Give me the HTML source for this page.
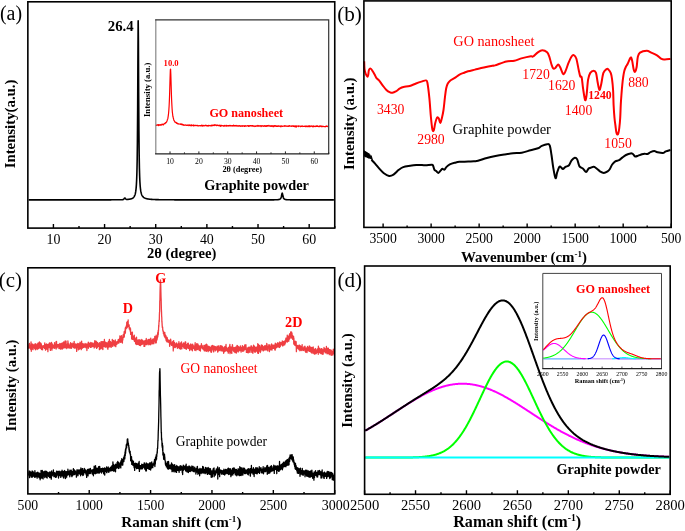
<!DOCTYPE html>
<html><head><meta charset="utf-8"><title>Figure</title>
<style>html,body{margin:0;padding:0;background:#fff;}svg{display:block;will-change:transform;}</style></head>
<body><svg width="685" height="531" viewBox="0 0 685 531" font-family="'Liberation Serif', serif">
<path d="M28.65,199.9L28.9,199.9 29.15,199.9 29.4,199.9 29.65,199.9 29.9,199.9 30.15,199.9 30.4,199.9 30.65,199.9 30.9,199.9 31.15,199.9 31.4,199.9 31.65,199.9 31.9,199.9 32.15,199.9 32.4,199.9 32.65,199.9 32.9,199.9 33.15,199.9 33.4,199.89 33.65,199.89 33.9,199.89 34.15,199.89 34.4,199.89 34.65,199.89 34.9,199.89 35.15,199.89 35.4,199.89 35.65,199.89 35.9,199.89 36.15,199.89 36.4,199.89 36.65,199.89 36.9,199.89 37.15,199.89 37.4,199.89 37.65,199.89 37.9,199.89 38.15,199.89 38.4,199.89 38.65,199.89 38.9,199.89 39.15,199.89 39.4,199.89 39.65,199.89 39.9,199.89 40.15,199.89 40.4,199.89 40.65,199.89 40.9,199.89 41.15,199.89 41.4,199.89 41.65,199.89 41.9,199.89 42.15,199.89 42.4,199.89 42.65,199.89 42.9,199.89 43.15,199.89 43.4,199.89 43.65,199.89 43.9,199.89 44.15,199.89 44.4,199.89 44.65,199.89 44.9,199.89 45.15,199.89 45.4,199.89 45.65,199.89 45.9,199.89 46.15,199.89 46.4,199.89 46.65,199.89 46.9,199.89 47.15,199.89 47.4,199.89 47.65,199.89 47.9,199.89 48.15,199.89 48.4,199.89 48.65,199.89 48.9,199.89 49.15,199.89 49.4,199.89 49.65,199.89 49.9,199.89 50.15,199.89 50.4,199.89 50.65,199.89 50.9,199.89 51.15,199.89 51.4,199.89 51.65,199.89 51.9,199.89 52.15,199.89 52.4,199.89 52.65,199.89 52.9,199.89 53.15,199.89 53.4,199.89 53.65,199.89 53.9,199.89 54.15,199.89 54.4,199.89 54.65,199.89 54.9,199.89 55.15,199.89 55.4,199.89 55.65,199.89 55.9,199.89 56.15,199.89 56.4,199.89 56.65,199.89 56.9,199.89 57.15,199.89 57.4,199.89 57.65,199.89 57.9,199.89 58.15,199.89 58.4,199.89 58.65,199.89 58.9,199.89 59.15,199.89 59.4,199.89 59.65,199.89 59.9,199.89 60.15,199.89 60.4,199.89 60.65,199.89 60.9,199.89 61.15,199.89 61.4,199.89 61.65,199.89 61.9,199.89 62.15,199.89 62.4,199.89 62.65,199.89 62.9,199.89 63.15,199.89 63.4,199.89 63.65,199.89 63.9,199.89 64.15,199.89 64.4,199.89 64.65,199.89 64.9,199.89 65.15,199.89 65.4,199.89 65.65,199.89 65.9,199.89 66.15,199.89 66.4,199.89 66.65,199.89 66.9,199.89 67.15,199.89 67.4,199.89 67.65,199.89 67.9,199.89 68.15,199.89 68.4,199.89 68.65,199.89 68.9,199.89 69.15,199.89 69.4,199.89 69.65,199.89 69.9,199.89 70.15,199.89 70.4,199.89 70.65,199.89 70.9,199.89 71.15,199.89 71.4,199.89 71.65,199.89 71.9,199.89 72.15,199.89 72.4,199.89 72.65,199.89 72.9,199.89 73.15,199.89 73.4,199.89 73.65,199.89 73.9,199.89 74.15,199.89 74.4,199.89 74.65,199.89 74.9,199.89 75.15,199.89 75.4,199.89 75.65,199.89 75.9,199.89 76.15,199.89 76.4,199.89 76.65,199.89 76.9,199.89 77.15,199.89 77.4,199.89 77.65,199.89 77.9,199.89 78.15,199.88 78.4,199.88 78.65,199.88 78.9,199.88 79.15,199.88 79.4,199.88 79.65,199.88 79.9,199.88 80.15,199.88 80.4,199.88 80.65,199.88 80.9,199.88 81.15,199.88 81.4,199.88 81.65,199.88 81.9,199.88 82.15,199.88 82.4,199.88 82.65,199.88 82.9,199.88 83.15,199.88 83.4,199.88 83.65,199.88 83.9,199.88 84.15,199.88 84.4,199.88 84.65,199.88 84.9,199.88 85.15,199.88 85.4,199.88 85.65,199.88 85.9,199.88 86.15,199.88 86.4,199.88 86.65,199.88 86.9,199.88 87.15,199.88 87.4,199.88 87.65,199.88 87.9,199.88 88.15,199.88 88.4,199.88 88.65,199.88 88.9,199.88 89.15,199.88 89.4,199.88 89.65,199.88 89.9,199.88 90.15,199.88 90.4,199.88 90.65,199.88 90.9,199.88 91.15,199.88 91.4,199.88 91.65,199.87 91.9,199.87 92.15,199.87 92.4,199.87 92.65,199.87 92.9,199.87 93.15,199.87 93.4,199.87 93.65,199.87 93.9,199.87 94.15,199.87 94.4,199.87 94.65,199.87 94.9,199.87 95.15,199.87 95.4,199.87 95.65,199.87 95.9,199.87 96.15,199.87 96.4,199.87 96.65,199.87 96.9,199.87 97.15,199.87 97.4,199.87 97.65,199.87 97.9,199.87 98.15,199.87 98.4,199.87 98.65,199.87 98.9,199.86 99.15,199.86 99.4,199.86 99.65,199.86 99.9,199.86 100.15,199.86 100.4,199.86 100.65,199.86 100.9,199.86 101.15,199.86 101.4,199.86 101.65,199.86 101.9,199.86 102.15,199.86 102.4,199.86 102.65,199.86 102.9,199.86 103.15,199.86 103.4,199.86 103.65,199.85 103.9,199.85 104.15,199.85 104.4,199.85 104.65,199.85 104.9,199.85 105.15,199.85 105.4,199.85 105.65,199.85 105.9,199.85 106.15,199.85 106.4,199.85 106.65,199.85 106.9,199.84 107.15,199.84 107.4,199.84 107.65,199.84 107.9,199.84 108.15,199.84 108.4,199.84 108.65,199.84 108.9,199.84 109.15,199.84 109.4,199.83 109.65,199.83 109.9,199.83 110.15,199.83 110.4,199.83 110.65,199.83 110.9,199.83 111.15,199.83 111.4,199.82 111.65,199.82 111.9,199.82 112.15,199.82 112.4,199.82 112.65,199.82 112.9,199.82 113.15,199.81 113.4,199.81 113.65,199.81 113.9,199.81 114.15,199.81 114.4,199.8 114.65,199.8 114.9,199.8 115.15,199.8 115.4,199.8 115.65,199.79 115.9,199.79 116.15,199.79 116.4,199.79 116.65,199.78 116.9,199.78 117.15,199.78 117.4,199.77 117.65,199.77 117.9,199.77 118.15,199.77 118.4,199.76 118.65,199.76 118.9,199.75 119.15,199.75 119.4,199.75 119.65,199.74 119.9,199.74 120.15,199.73 120.4,199.73 120.65,199.72 120.9,199.72 121.15,199.71 121.4,199.71 121.65,199.7 121.9,199.7 122.15,199.69 122.4,199.68 122.65,199.66 122.9,199.63 123.15,199.56 123.4,199.44 123.65,199.23 123.9,198.94 124.15,198.59 124.4,198.26 124.65,198.04 124.9,198.01 125.15,198.17 125.4,198.46 125.65,198.79 125.9,199.08 126.15,199.28 126.4,199.39 126.65,199.45 126.9,199.46 127.15,199.45 127.4,199.44 127.65,199.41 127.9,199.39 128.15,199.37 128.4,199.34 128.65,199.31 128.9,199.28 129.15,199.24 129.4,199.2 129.65,199.16 129.9,199.12 130.15,199.07 130.4,199.01 130.65,198.95 130.9,198.89 131.15,198.82 131.4,198.74 131.65,198.65 131.9,198.55 132.15,198.43 132.4,198.3 132.65,198.16 132.9,197.99 133.15,197.8 133.4,197.58 133.65,197.32 133.9,197.02 134.15,196.66 134.4,196.23 134.65,195.7 134.9,195.06 135.15,194.26 135.4,193.25 135.65,191.94 135.9,190.22 136.15,187.88 136.4,184.61 136.65,179.88 136.9,172.72 137.15,161.36 137.4,142.45 137.65,110.4 137.9,61.94 138.15,22.37 138.2,20.9 138.4,40.61 138.65,91.48 138.9,130.38 139.15,153.77 139.4,167.64 139.65,176.21 139.9,181.78 140.15,185.57 140.4,188.25 140.65,190.22 140.9,191.7 141.15,192.85 141.4,193.75 141.65,194.48 141.9,195.08 142.15,195.58 142.4,196 142.65,196.36 142.9,196.66 143.15,196.93 143.4,197.16 143.65,197.37 143.9,197.55 144.15,197.71 144.4,197.86 144.65,197.99 144.9,198.11 145.15,198.22 145.4,198.32 145.65,198.41 145.9,198.49 146.15,198.57 146.4,198.64 146.65,198.7 146.9,198.76 147.15,198.82 147.4,198.87 147.65,198.92 147.9,198.96 148.15,199 148.4,199.04 148.65,199.08 148.9,199.12 149.15,199.15 149.4,199.18 149.65,199.21 149.9,199.23 150.15,199.26 150.4,199.28 150.65,199.31 150.9,199.33 151.15,199.35 151.4,199.37 151.65,199.39 151.9,199.4 152.15,199.42 152.4,199.44 152.65,199.45 152.9,199.47 153.15,199.48 153.4,199.49 153.65,199.5 153.9,199.52 154.15,199.53 154.4,199.54 154.65,199.55 154.9,199.56 155.15,199.57 155.4,199.58 155.65,199.59 155.9,199.6 156.15,199.6 156.4,199.61 156.65,199.62 156.9,199.63 157.15,199.63 157.4,199.64 157.65,199.65 157.9,199.65 158.15,199.66 158.4,199.66 158.65,199.67 158.9,199.68 159.15,199.68 159.4,199.69 159.65,199.69 159.9,199.7 160.15,199.7 160.4,199.7 160.65,199.71 160.9,199.71 161.15,199.72 161.4,199.72 161.65,199.72 161.9,199.73 162.15,199.73 162.4,199.73 162.65,199.74 162.9,199.74 163.15,199.74 163.4,199.75 163.65,199.75 163.9,199.75 164.15,199.76 164.4,199.76 164.65,199.76 164.9,199.76 165.15,199.77 165.4,199.77 165.65,199.77 165.9,199.77 166.15,199.78 166.4,199.78 166.65,199.78 166.9,199.78 167.15,199.78 167.4,199.79 167.65,199.79 167.9,199.79 168.15,199.79 168.4,199.79 168.65,199.79 168.9,199.8 169.15,199.8 169.4,199.8 169.65,199.8 169.9,199.8 170.15,199.8 170.4,199.81 170.65,199.81 170.9,199.81 171.15,199.81 171.4,199.81 171.65,199.81 171.9,199.81 172.15,199.82 172.4,199.82 172.65,199.82 172.9,199.82 173.15,199.82 173.4,199.82 173.65,199.82 173.9,199.82 174.15,199.82 174.4,199.83 174.65,199.83 174.9,199.83 175.15,199.83 175.4,199.83 175.65,199.83 175.9,199.83 176.15,199.83 176.4,199.83 176.65,199.83 176.9,199.83 177.15,199.84 177.4,199.84 177.65,199.84 177.9,199.84 178.15,199.84 178.4,199.84 178.65,199.84 178.9,199.84 179.15,199.84 179.4,199.84 179.65,199.84 179.9,199.84 180.15,199.84 180.4,199.84 180.65,199.85 180.9,199.85 181.15,199.85 181.4,199.85 181.65,199.85 181.9,199.85 182.15,199.85 182.4,199.85 182.65,199.85 182.9,199.85 183.15,199.85 183.4,199.85 183.65,199.85 183.9,199.85 184.15,199.85 184.4,199.85 184.65,199.85 184.9,199.85 185.15,199.86 185.4,199.86 185.65,199.86 185.9,199.86 186.15,199.86 186.4,199.86 186.65,199.86 186.9,199.86 187.15,199.86 187.4,199.86 187.65,199.86 187.9,199.86 188.15,199.86 188.4,199.86 188.65,199.86 188.9,199.86 189.15,199.86 189.4,199.86 189.65,199.86 189.9,199.86 190.15,199.86 190.4,199.86 190.65,199.86 190.9,199.86 191.15,199.86 191.4,199.86 191.65,199.87 191.9,199.87 192.15,199.87 192.4,199.87 192.65,199.87 192.9,199.87 193.15,199.87 193.4,199.87 193.65,199.87 193.9,199.87 194.15,199.87 194.4,199.87 194.65,199.87 194.9,199.87 195.15,199.87 195.4,199.87 195.65,199.87 195.9,199.87 196.15,199.87 196.4,199.87 196.65,199.87 196.9,199.87 197.15,199.87 197.4,199.87 197.65,199.87 197.9,199.87 198.15,199.87 198.4,199.87 198.65,199.87 198.9,199.87 199.15,199.87 199.4,199.87 199.65,199.87 199.9,199.87 200.15,199.87 200.4,199.87 200.65,199.87 200.9,199.87 201.15,199.87 201.4,199.87 201.65,199.88 201.9,199.88 202.15,199.88 202.4,199.88 202.65,199.88 202.9,199.88 203.15,199.88 203.4,199.88 203.65,199.88 203.9,199.88 204.15,199.88 204.4,199.88 204.65,199.88 204.9,199.88 205.15,199.88 205.4,199.88 205.65,199.88 205.9,199.88 206.15,199.88 206.4,199.88 206.65,199.88 206.9,199.88 207.15,199.88 207.4,199.88 207.65,199.88 207.9,199.88 208.15,199.88 208.4,199.88 208.65,199.88 208.9,199.88 209.15,199.88 209.4,199.88 209.65,199.88 209.9,199.88 210.15,199.88 210.4,199.88 210.65,199.88 210.9,199.88 211.15,199.88 211.4,199.88 211.65,199.88 211.9,199.88 212.15,199.88 212.4,199.88 212.65,199.88 212.9,199.88 213.15,199.88 213.4,199.88 213.65,199.88 213.9,199.88 214.15,199.88 214.4,199.88 214.65,199.88 214.9,199.88 215.15,199.88 215.4,199.88 215.65,199.88 215.9,199.88 216.15,199.88 216.4,199.88 216.65,199.88 216.9,199.88 217.15,199.88 217.4,199.88 217.65,199.88 217.9,199.88 218.15,199.88 218.4,199.88 218.65,199.88 218.9,199.88 219.15,199.88 219.4,199.88 219.65,199.88 219.9,199.88 220.15,199.88 220.4,199.88 220.65,199.88 220.9,199.88 221.15,199.88 221.4,199.88 221.65,199.88 221.9,199.88 222.15,199.88 222.4,199.88 222.65,199.89 222.9,199.89 223.15,199.89 223.4,199.89 223.65,199.89 223.9,199.89 224.15,199.89 224.4,199.89 224.65,199.89 224.9,199.89 225.15,199.89 225.4,199.89 225.65,199.89 225.9,199.89 226.15,199.89 226.4,199.89 226.65,199.89 226.9,199.89 227.15,199.89 227.4,199.89 227.65,199.89 227.9,199.89 228.15,199.89 228.4,199.89 228.65,199.89 228.9,199.89 229.15,199.89 229.4,199.89 229.65,199.89 229.9,199.89 230.15,199.89 230.4,199.89 230.65,199.89 230.9,199.89 231.15,199.89 231.4,199.89 231.65,199.89 231.9,199.89 232.15,199.89 232.4,199.89 232.65,199.89 232.9,199.89 233.15,199.89 233.4,199.89 233.65,199.89 233.9,199.89 234.15,199.89 234.4,199.89 234.65,199.89 234.9,199.89 235.15,199.89 235.4,199.89 235.65,199.89 235.9,199.89 236.15,199.89 236.4,199.89 236.65,199.89 236.9,199.89 237.15,199.89 237.4,199.89 237.65,199.89 237.9,199.89 238.15,199.89 238.4,199.89 238.65,199.89 238.9,199.89 239.15,199.89 239.4,199.89 239.65,199.89 239.9,199.89 240.15,199.89 240.4,199.89 240.65,199.89 240.9,199.89 241.15,199.89 241.4,199.89 241.65,199.89 241.9,199.89 242.15,199.89 242.4,199.89 242.65,199.89 242.9,199.89 243.15,199.89 243.4,199.89 243.65,199.89 243.9,199.89 244.15,199.89 244.4,199.89 244.65,199.89 244.9,199.89 245.15,199.89 245.4,199.89 245.65,199.89 245.9,199.89 246.15,199.89 246.4,199.89 246.65,199.89 246.9,199.89 247.15,199.89 247.4,199.89 247.65,199.89 247.9,199.89 248.15,199.89 248.4,199.89 248.65,199.89 248.9,199.89 249.15,199.89 249.4,199.89 249.65,199.89 249.9,199.89 250.15,199.89 250.4,199.89 250.65,199.89 250.9,199.89 251.15,199.89 251.4,199.89 251.65,199.89 251.9,199.89 252.15,199.89 252.4,199.89 252.65,199.89 252.9,199.89 253.15,199.89 253.4,199.89 253.65,199.89 253.9,199.89 254.15,199.89 254.4,199.89 254.65,199.89 254.9,199.89 255.15,199.89 255.4,199.89 255.65,199.89 255.9,199.89 256.15,199.89 256.4,199.89 256.65,199.89 256.9,199.89 257.15,199.89 257.4,199.89 257.65,199.89 257.9,199.89 258.15,199.89 258.4,199.89 258.65,199.89 258.9,199.89 259.15,199.89 259.4,199.88 259.65,199.88 259.9,199.88 260.15,199.88 260.4,199.88 260.65,199.88 260.9,199.88 261.15,199.88 261.4,199.88 261.65,199.88 261.9,199.88 262.15,199.88 262.4,199.88 262.65,199.88 262.9,199.88 263.15,199.88 263.4,199.88 263.65,199.88 263.9,199.88 264.15,199.88 264.4,199.88 264.65,199.88 264.9,199.88 265.15,199.88 265.4,199.88 265.65,199.88 265.9,199.88 266.15,199.88 266.4,199.88 266.65,199.88 266.9,199.88 267.15,199.87 267.4,199.87 267.65,199.87 267.9,199.87 268.15,199.87 268.4,199.87 268.65,199.87 268.9,199.87 269.15,199.87 269.4,199.87 269.65,199.87 269.9,199.87 270.15,199.86 270.4,199.86 270.65,199.86 270.9,199.86 271.15,199.86 271.4,199.86 271.65,199.86 271.9,199.85 272.15,199.85 272.4,199.85 272.65,199.85 272.9,199.84 273.15,199.84 273.4,199.84 273.65,199.84 273.9,199.83 274.15,199.83 274.4,199.82 274.65,199.82 274.9,199.81 275.15,199.81 275.4,199.8 275.65,199.79 275.9,199.79 276.15,199.78 276.4,199.77 276.65,199.76 276.9,199.74 277.15,199.73 277.4,199.71 277.65,199.69 277.9,199.67 278.15,199.64 278.4,199.61 278.65,199.57 278.9,199.52 279.15,199.46 279.4,199.38 279.65,199.29 279.9,199.16 280.15,199 280.4,198.77 280.65,198.46 280.9,198.03 281.15,197.4 281.4,196.5 281.65,195.28 281.9,193.93 282.15,193.12 282.2,193.1 282.4,193.5 282.65,194.73 282.9,196.04 283.15,197.07 283.4,197.8 283.65,198.31 283.9,198.66 284.15,198.92 284.4,199.1 284.65,199.24 284.9,199.35 285.15,199.43 285.4,199.5 285.65,199.55 285.9,199.59 286.15,199.63 286.4,199.66 286.65,199.68 286.9,199.7 287.15,199.72 287.4,199.74 287.65,199.75 287.9,199.76 288.15,199.77 288.4,199.78 288.65,199.79 288.9,199.8 289.15,199.81 289.4,199.81 289.65,199.82 289.9,199.82 290.15,199.83 290.4,199.83 290.65,199.84 290.9,199.84 291.15,199.84 291.4,199.84 291.65,199.85 291.9,199.85 292.15,199.85 292.4,199.85 292.65,199.86 292.9,199.86 293.15,199.86 293.4,199.86 293.65,199.86 293.9,199.86 294.15,199.87 294.4,199.87 294.65,199.87 294.9,199.87 295.15,199.87 295.4,199.87 295.65,199.87 295.9,199.87 296.15,199.87 296.4,199.87 296.65,199.88 296.9,199.88 297.15,199.88 297.4,199.88 297.65,199.88 297.9,199.88 298.15,199.88 298.4,199.88 298.65,199.88 298.9,199.88 299.15,199.88 299.4,199.88 299.65,199.88 299.9,199.88 300.15,199.88 300.4,199.88 300.65,199.88 300.9,199.88 301.15,199.88 301.4,199.88 301.65,199.88 301.9,199.89 302.15,199.89 302.4,199.89 302.65,199.89 302.9,199.89 303.15,199.89 303.4,199.89 303.65,199.89 303.9,199.89 304.15,199.89 304.4,199.89 304.65,199.89 304.9,199.89 305.15,199.89 305.4,199.89 305.65,199.89 305.9,199.89 306.15,199.89 306.4,199.89 306.65,199.89 306.9,199.89 307.15,199.89 307.4,199.89 307.65,199.89 307.9,199.89 308.15,199.89 308.4,199.89 308.65,199.89 308.9,199.89 309.15,199.89 309.4,199.89 309.65,199.89 309.9,199.89 310.15,199.89 310.4,199.89 310.65,199.89 310.9,199.89 311.15,199.89 311.4,199.89 311.65,199.89 311.9,199.89 312.15,199.89 312.4,199.89 312.65,199.89 312.9,199.89 313.15,199.89 313.4,199.89 313.65,199.89 313.9,199.89 314.15,199.89 314.4,199.89 314.65,199.89 314.9,199.89 315.15,199.89 315.4,199.89 315.65,199.89 315.9,199.89 316.15,199.89 316.4,199.89 316.65,199.89 316.9,199.89 317.15,199.89 317.4,199.89 317.65,199.89 317.9,199.89 318.15,199.89 318.4,199.89 318.65,199.89 318.9,199.89 319.15,199.89 319.4,199.89 319.65,199.89 319.9,199.89 320.15,199.89 320.4,199.89 320.65,199.89 320.9,199.89 321.15,199.89 321.4,199.89 321.65,199.89 321.9,199.89 322.15,199.89 322.4,199.89 322.65,199.89 322.9,199.89 323.15,199.89 323.4,199.89 323.65,199.89 323.9,199.89 324.15,199.89 324.4,199.89 324.65,199.89 324.9,199.89 325.15,199.89 325.4,199.89 325.65,199.89 325.9,199.89 326.15,199.89 326.4,199.9 326.65,199.9 326.9,199.9 327.15,199.9 327.4,199.9 327.65,199.9 327.9,199.9 328.15,199.9 328.4,199.9 328.65,199.9 328.9,199.9 329.15,199.9 329.4,199.9 329.65,199.9 329.9,199.9 330.15,199.9 330.4,199.9 330.65,199.9 330.9,199.9 331.15,199.9 331.4,199.9 331.65,199.9 331.9,199.9 332.15,199.9 332.4,199.9 332.65,199.9 332.9,199.9 333.15,199.9 333.4,199.9 333.65,199.9 333.9,199.9" stroke="#000" stroke-width="1.6" fill="none" stroke-linejoin="round"/>
<rect x="27.85" y="1.8" width="306.9" height="226.3" fill="none" stroke="#000" stroke-width="1.6"/>
<path d="M53.42,228.1V224.1M104.57,228.1V224.1M155.72,228.1V224.1M206.88,228.1V224.1M258.02,228.1V224.1M309.18,228.1V224.1M79,228.1V226.1M130.15,228.1V226.1M181.3,228.1V226.1M232.45,228.1V226.1M283.6,228.1V226.1M334.75,228.1V226.1" stroke="#000" stroke-width="1.4" fill="none"/>
<text x="53.42" y="244" font-size="13.9" text-anchor="middle" fill="#000">10</text>
<text x="104.57" y="244" font-size="13.9" text-anchor="middle" fill="#000">20</text>
<text x="155.72" y="244" font-size="13.9" text-anchor="middle" fill="#000">30</text>
<text x="206.88" y="244" font-size="13.9" text-anchor="middle" fill="#000">40</text>
<text x="258.02" y="244" font-size="13.9" text-anchor="middle" fill="#000">50</text>
<text x="309.18" y="244" font-size="13.9" text-anchor="middle" fill="#000">60</text>
<text x="-0.1" y="19.95" font-size="19.95" fill="#000">(a)</text>
<text x="107.8" y="30.5" font-size="14.80" font-weight="bold" fill="#000">26.4</text>
<text x="204.15" y="189.95" font-size="14.24" font-weight="bold" fill="#000">Graphite powder</text>
<text x="146.9" y="258.3" font-size="14.62" font-weight="bold" fill="#000">2θ (degree)</text>
<text x="15.5" y="168.35" font-size="14.81" font-weight="bold" fill="#000" transform="rotate(-90 15.5 168.35)">Intensity(a.u.)</text>
<path d="M156.1,124.78L156.35,125.44 156.6,124.9 156.85,125.04 157.1,125.07 157.35,124.9 157.6,124.73 157.85,125.22 158.1,125.13 158.35,124.54 158.6,125.6 158.85,125.24 159.1,124.79 159.35,125.18 159.6,124.82 159.85,124.89 160.1,125.08 160.35,124.54 160.6,124.97 160.85,125.15 161.1,125.09 161.35,124.65 161.6,124.91 161.85,124.23 162.1,124.55 162.35,124.65 162.6,124.14 162.85,124.39 163.1,124.77 163.35,124.92 163.6,124.37 163.85,124.29 164.1,123.74 164.35,123.56 164.6,123.38 164.85,123.72 165.1,123.6 165.35,123.06 165.6,122.7 165.85,122.82 166.1,122.54 166.35,122.09 166.6,122.05 166.85,121.23 167.1,120.67 167.35,119.73 167.6,119.2 167.85,118.45 168.1,116.81 168.35,115.12 168.6,113.01 168.85,110.06 169.1,106.24 169.35,101.05 169.6,94.24 169.85,85.47 170.1,76.84 170.35,69.87 170.5,69.1 170.6,69.26 170.85,75.07 171.1,83.86 171.35,92.25 171.6,99.5 171.85,104.53 172.1,108.8 172.35,112.22 172.6,114.04 172.85,116.24 173.1,117.07 173.35,118.25 173.6,119.05 173.85,120 174.1,120.69 174.35,120.75 174.6,121.36 174.85,122.13 175.1,121.93 175.35,122.04 175.6,122.55 175.85,122.58 176.1,122.62 176.35,122.49 176.6,123.27 176.85,123.04 177.1,123.29 177.35,123.12 177.6,123.8 177.85,123.75 178.1,123.88 178.35,123.69 178.6,123.9 178.85,124.07 179.1,124.17 179.35,124.06 179.6,124.02 179.85,124.01 180.1,123.96 180.35,123.96 180.6,124.35 180.85,124.25 181.1,123.86 181.35,124.37 181.6,124.72 181.85,124.43 182.1,124.08 182.35,124.56 182.6,124.83 182.85,124.72 183.1,124.61 183.35,125.21 183.6,125.27 183.85,124.8 184.1,125.07 184.35,125 184.6,125.13 184.85,125.33 185.1,125.2 185.35,125.04 185.6,124.89 185.85,124.88 186.1,125.1 186.35,125.42 186.6,125.23 186.85,125.19 187.1,125.26 187.35,125.23 187.6,125.38 187.85,124.98 188.1,124.78 188.35,125.19 188.6,125.02 188.85,125.73 189.1,125.3 189.35,125.29 189.6,124.98 189.85,125.45 190.1,125.24 190.35,125.68 190.6,125.62 190.85,125.23 191.1,125.53 191.35,124.76 191.6,125.28 191.85,125.77 192.1,125.66 192.35,125.52 192.6,125.47 192.85,125.13 193.1,125.15 193.35,125.55 193.6,125.94 193.85,124.96 194.1,125.67 194.35,125.67 194.6,125.76 194.85,125.31 195.1,125.4 195.35,125.55 195.6,125.28 195.85,125.23 196.1,125.32 196.35,125.53 196.6,125.65 196.85,125.55 197.1,125.58 197.35,125.39 197.6,125.39 197.85,125.85 198.1,125.56 198.35,125.55 198.6,125.81 198.85,125.89 199.1,125.9 199.35,125.69 199.6,125.58 199.85,125.66 200.1,125.64 200.35,125.95 200.6,125.67 200.85,125.76 201.1,125.6 201.35,125.95 201.6,125.09 201.85,125.71 202.1,125.8 202.35,125.33 202.6,126.15 202.85,125.58 203.1,125.58 203.35,125.35 203.6,125.85 203.85,125.68 204.1,125.48 204.35,125.69 204.6,125.81 204.85,125.94 205.1,125.69 205.35,125.4 205.6,125.5 205.85,125.07 206.1,125.46 206.35,125.83 206.6,125.77 206.85,125.63 207.1,125.57 207.35,126.05 207.6,125.73 207.85,125.89 208.1,125.76 208.35,125.5 208.6,126.05 208.85,125.36 209.1,125.37 209.35,125.56 209.6,125.48 209.85,125.52 210.1,125.51 210.35,125.9 210.6,125.66 210.85,125.72 211.1,125.22 211.35,125.38 211.6,125.84 211.85,125.24 212.1,125.8 212.35,125.21 212.6,125.49 212.85,125.16 213.1,125.36 213.35,125.03 213.6,125.13 213.85,125.56 214.1,124.99 214.35,125.54 214.6,124.87 214.85,124.66 215.1,124.95 215.35,124.82 215.6,125.36 215.85,125.15 216.1,125.25 216.35,125.15 216.6,125.66 216.85,125.29 217.1,125.28 217.35,125 217.6,125.04 217.85,125.38 218.1,125.64 218.35,125.73 218.6,125.26 218.85,125.68 219.1,125.63 219.35,125.34 219.6,125.78 219.85,125.11 220.1,125.76 220.35,126.33 220.6,125.47 220.85,125.74 221.1,125.27 221.35,125.56 221.6,125.94 221.85,125.5 222.1,125.75 222.35,125.67 222.6,125.67 222.85,125.81 223.1,125.89 223.35,126.08 223.6,125.98 223.85,125.63 224.1,126.13 224.35,126.09 224.6,125.39 224.85,125.95 225.1,125.99 225.35,126.03 225.6,125.92 225.85,125.46 226.1,125.72 226.35,125.27 226.6,125.75 226.85,126.3 227.1,125.97 227.35,126.01 227.6,125.67 227.85,125.55 228.1,125.53 228.35,125.83 228.6,125.6 228.85,125.65 229.1,126.09 229.35,125.4 229.6,125.48 229.85,125.69 230.1,125.79 230.35,125.78 230.6,125.47 230.85,125.87 231.1,125.79 231.35,125.91 231.6,125.55 231.85,125.89 232.1,125.88 232.35,125.66 232.6,125.78 232.85,125.69 233.1,126.17 233.35,125.06 233.6,125.47 233.85,125.41 234.1,125.75 234.35,125.67 234.6,125.74 234.85,126.02 235.1,125.44 235.35,125.64 235.6,125.79 235.85,125.55 236.1,125.94 236.35,125.94 236.6,125.68 236.85,125.41 237.1,126.26 237.35,125.98 237.6,125.97 237.85,125.88 238.1,125.86 238.35,126.07 238.6,125.86 238.85,125.71 239.1,126.05 239.35,125.89 239.6,125.68 239.85,125.65 240.1,126.17 240.35,126.04 240.6,126.37 240.85,125.75 241.1,125.7 241.35,125.99 241.6,126.23 241.85,126.04 242.1,126 242.35,126.36 242.6,125.71 242.85,125.58 243.1,125.71 243.35,125.82 243.6,125.99 243.85,126.15 244.1,126 244.35,126.28 244.6,125.7 244.85,126.38 245.1,125.7 245.35,126.2 245.6,125.68 245.85,126 246.1,125.93 246.35,126.04 246.6,126.1 246.85,125.86 247.1,125.9 247.35,125.98 247.6,125.6 247.85,125.74 248.1,125.52 248.35,125.93 248.6,126.48 248.85,126.11 249.1,125.71 249.35,125.76 249.6,126.18 249.85,125.82 250.1,125.54 250.35,125.68 250.6,125.68 250.85,125.69 251.1,126.11 251.35,125.96 251.6,125.57 251.85,125.81 252.1,125.66 252.35,125.65 252.6,125.58 252.85,126.39 253.1,125.88 253.35,126.1 253.6,126.18 253.85,125.86 254.1,126.09 254.35,126.1 254.6,126.02 254.85,126.51 255.1,126.04 255.35,125.91 255.6,126.13 255.85,126.42 256.1,126.22 256.35,125.85 256.6,125.76 256.85,125.74 257.1,125.81 257.35,126.08 257.6,126.19 257.85,125.42 258.1,125.98 258.35,125.71 258.6,126.16 258.85,126.22 259.1,125.8 259.35,125.88 259.6,125.76 259.85,126.09 260.1,125.59 260.35,125.72 260.6,125.83 260.85,126.31 261.1,126.6 261.35,126.01 261.6,125.7 261.85,126.03 262.1,125.79 262.35,126.13 262.6,125.73 262.85,125.92 263.1,126.01 263.35,126.15 263.6,126 263.85,126.34 264.1,126.05 264.35,125.57 264.6,126.25 264.85,125.95 265.1,125.86 265.35,126.4 265.6,125.78 265.85,126.05 266.1,125.85 266.35,126.36 266.6,125.91 266.85,126.04 267.1,125.58 267.35,126.22 267.6,125.51 267.85,125.91 268.1,125.88 268.35,125.86 268.6,126 268.85,125.3 269.1,125.77 269.35,125.8 269.6,125.96 269.85,126.21 270.1,126.02 270.35,125.82 270.6,126.02 270.85,126.44 271.1,125.76 271.35,126.08 271.6,125.82 271.85,126.34 272.1,125.66 272.35,125.98 272.6,126.04 272.85,126.1 273.1,126.66 273.35,126.46 273.6,125.82 273.85,126.62 274.1,125.78 274.35,125.61 274.6,125.71 274.85,126.13 275.1,126.22 275.35,125.53 275.6,126.2 275.85,126.02 276.1,126.27 276.35,126 276.6,126.32 276.85,126.24 277.1,125.8 277.35,126.46 277.6,126.15 277.85,126.28 278.1,126.42 278.35,125.86 278.6,126.08 278.85,125.9 279.1,125.87 279.35,126.18 279.6,126.2 279.85,126.45 280.1,126.46 280.35,126.11 280.6,125.91 280.85,126.92 281.1,126.66 281.35,126.1 281.6,125.89 281.85,126.02 282.1,126.2 282.35,126.41 282.6,126.37 282.85,126.24 283.1,126.07 283.35,126.18 283.6,126.06 283.85,126.15 284.1,126.11 284.35,126.27 284.6,125.67 284.85,126.06 285.1,126.07 285.35,125.86 285.6,126.1 285.85,125.88 286.1,125.98 286.35,126.08 286.6,126.09 286.85,126.01 287.1,126.43 287.35,126.21 287.6,126.24 287.85,126.22 288.1,125.99 288.35,125.94 288.6,126.37 288.85,126.08 289.1,125.72 289.35,125.62 289.6,126.23 289.85,125.99 290.1,126.16 290.35,126.04 290.6,126.07 290.85,126.13 291.1,125.87 291.35,126.18 291.6,126.43 291.85,126.36 292.1,125.75 292.35,125.85 292.6,125.85 292.85,126.13 293.1,126.4 293.35,126.27 293.6,125.76 293.85,126.21 294.1,126.4 294.35,126.09 294.6,126.68 294.85,126.04 295.1,126.5 295.35,126.79 295.6,125.89 295.85,126.13 296.1,126.35 296.35,127.01 296.6,125.76 296.85,126.35 297.1,126.29 297.35,126.11 297.6,126.01 297.85,126.09 298.1,126.14 298.35,125.9 298.6,126.62 298.85,125.95 299.1,126.12 299.35,126.06 299.6,126.13 299.85,126.25 300.1,126.04 300.35,126.17 300.6,126.67 300.85,126.5 301.1,126.17 301.35,126.47 301.6,126.05 301.85,126.3 302.1,125.89 302.35,125.96 302.6,126.03 302.85,126.56 303.1,126.31 303.35,126.39 303.6,126.29 303.85,126.35 304.1,126.36 304.35,126.45 304.6,126.3 304.85,126.03 305.1,126.06 305.35,126.57 305.6,126.62 305.85,126.4 306.1,125.86 306.35,126.66 306.6,126.35 306.85,126.25 307.1,126.28 307.35,126.18 307.6,126.71 307.85,126.7 308.1,126.01 308.35,126.23 308.6,126.36 308.85,126.6 309.1,125.68 309.35,126.52 309.6,126.7 309.85,126.2 310.1,126.28 310.35,126.6 310.6,126.38 310.85,125.96 311.1,126 311.35,126.04 311.6,125.94 311.85,126.29 312.1,126.17 312.35,126.31 312.6,126.48 312.85,126.75 313.1,126.36 313.35,125.84 313.6,126.65 313.85,126.28 314.1,126.6 314.35,126.2 314.6,126.39 314.85,126.28 315.1,126.31 315.35,126.64 315.6,126.15 315.85,126.36 316.1,126.38 316.35,126.22 316.6,125.77 316.85,126.41 317.1,125.62 317.35,125.95 317.6,126.21 317.85,126.44 318.1,126.55 318.35,126.54 318.6,126.48 318.85,126.25 319.1,126.64 319.35,126.27 319.6,126.62 319.85,125.78 320.1,126.1 320.35,126.2 320.6,126.35 320.85,125.75 321.1,126.55 321.35,126.6 321.6,126.55 321.85,126.22 322.1,126.72 322.35,126.22 322.6,126.59 322.85,126.35 323.1,126.36 323.35,126.32 323.6,126.36 323.85,126.64 324.1,126.73 324.35,126.73 324.6,126.6 324.85,126.54 325.1,126.49 325.35,126.81 325.6,126.27 325.85,126.22 326.1,126.39 326.35,125.96 326.6,126.32 326.85,126.37 327.1,126.13 327.35,126.24 327.6,126.56 327.85,126.33" stroke="#ff0000" stroke-width="1.2" fill="none" stroke-linejoin="round"/>
<path d="M155.79999999999998,153.9V19.6" stroke="#888" stroke-width="1.2" fill="none"/>
<path d="M155.2,19.8H328.7V153.9" stroke="#333" stroke-width="1.2" fill="none"/>
<path d="M155.1,153.9H329.2" stroke="#222" stroke-width="1.4" fill="none"/>
<path d="M170.03,153.9V151.4M198.88,153.9V151.4M227.72,153.9V151.4M256.57,153.9V151.4M285.42,153.9V151.4M314.27,153.9V151.4M184.45,153.9V152.4M213.3,153.9V152.4M242.15,153.9V152.4M271,153.9V152.4M299.85,153.9V152.4M328.7,153.9V152.4" stroke="#222" stroke-width="1" fill="none"/>
<text x="170.03" y="163.8" font-size="7.7" text-anchor="middle" fill="#000">10</text>
<text x="198.88" y="163.8" font-size="7.7" text-anchor="middle" fill="#000">20</text>
<text x="227.72" y="163.8" font-size="7.7" text-anchor="middle" fill="#000">30</text>
<text x="256.57" y="163.8" font-size="7.7" text-anchor="middle" fill="#000">40</text>
<text x="285.42" y="163.8" font-size="7.7" text-anchor="middle" fill="#000">50</text>
<text x="314.27" y="163.8" font-size="7.7" text-anchor="middle" fill="#000">60</text>
<text x="163.6" y="65.65" font-size="8.62" font-weight="bold" fill="#ff0000">10.0</text>
<text x="209.4" y="117.2" font-size="12.14" font-weight="bold" fill="#ff0000">GO nanosheet</text>
<text x="222.45" y="172.0" font-size="8.32" font-weight="bold" fill="#000">2θ (degree)</text>
<text x="150.05" y="117.05" font-size="8.73" font-weight="bold" fill="#000" transform="rotate(-90 150.05 117.05)">Intensity (a.u.)</text>
<path d="M364.3,150.5 L364.6,156.5 L365,151 L365.4,157 L365.8,151.5 L366.2,157.5 L366.6,152 L367,157.5 L367.4,152.5 L367.8,158 L368.2,153 L368.6,158.5 L369,153.5 L369.4,158.5 L369.8,154.5 L370.2,158.8 L370.6,155.5 L371,159 L371.5,157.5 L372.2,160" stroke="#000" stroke-width="1.4" fill="none"/>
<path d="M371.5,159.8C372.1,160.43 373.77,162.08 375.1,163.6C376.43,165.12 378.03,167.28 379.5,168.9C380.97,170.52 382.3,172.13 383.9,173.3C385.5,174.47 387.5,175.68 389.1,175.9C390.7,176.12 391.88,175.62 393.5,174.6C395.12,173.58 397.18,171.05 398.8,169.8C400.42,168.55 401.3,167.77 403.2,167.1C405.1,166.43 408.02,166.15 410.2,165.8C412.38,165.45 414.67,165.15 416.3,165C417.93,164.85 418.5,164.85 420,164.9C421.5,164.95 423.33,165.33 425.3,165.3C427.27,165.27 430.5,164.62 431.8,164.7C433.1,164.78 432.67,164.97 433.1,165.8C433.53,166.63 433.88,168.83 434.4,169.7C434.92,170.57 435.53,170.47 436.2,171C436.87,171.53 437.67,172.97 438.4,172.9C439.13,172.83 439.95,171.28 440.6,170.6C441.25,169.92 441.65,168.95 442.3,168.8C442.95,168.65 443.83,169.98 444.5,169.7C445.17,169.42 445.42,167.98 446.3,167.1C447.18,166.22 448.35,165.13 449.8,164.4C451.25,163.67 453.4,163.13 455,162.7C456.6,162.27 457.2,161.98 459.4,161.8C461.6,161.62 465.72,161.7 468.2,161.6C470.68,161.5 472.67,161.33 474.3,161.2C475.93,161.07 475.92,161.33 478,160.8C480.08,160.27 483.88,158.8 486.8,158C489.72,157.2 492.58,156.58 495.5,156C498.42,155.42 501.38,154.95 504.3,154.5C507.22,154.05 510.08,153.6 513,153.3C515.92,153 518.88,153.2 521.8,152.7C524.72,152.2 527.8,151.03 530.5,150.3C533.2,149.57 536.12,149.03 538,148.3C539.88,147.57 540.28,146.58 541.8,145.9C543.32,145.22 545.78,144.28 547.1,144.2C548.42,144.12 548.97,143.6 549.7,145.4C550.43,147.2 550.92,151.35 551.5,155C552.08,158.65 552.53,163.43 553.2,167.3C553.87,171.17 554.85,177.32 555.5,178.2C556.15,179.08 556.47,174.48 557.1,172.6C557.73,170.72 558.63,167.78 559.3,166.9C559.97,166.02 560.5,166.93 561.1,167.3C561.7,167.67 562.17,169.17 562.9,169.1C563.63,169.03 564.48,167.55 565.5,166.9C566.52,166.25 567.98,166.3 569,165.2C570.02,164.1 570.63,161.55 571.6,160.3C572.57,159.05 573.87,157.85 574.8,157.7C575.73,157.55 576.42,157.95 577.2,159.4C577.98,160.85 578.52,164.85 579.5,166.4C580.48,167.95 582,167.75 583.1,168.7C584.2,169.65 585.22,172.1 586.1,172.1C586.98,172.1 587.63,169.42 588.4,168.7C589.17,167.98 589.8,168.12 590.7,167.8C591.6,167.48 592.77,166.65 593.8,166.8C594.83,166.95 595.88,167.95 596.9,168.7C597.92,169.45 598.75,170.6 599.9,171.3C601.05,172 602.52,172.9 603.8,172.9C605.08,172.9 606.58,171.95 607.6,171.3C608.62,170.65 609.13,170.13 609.9,169C610.67,167.87 611.3,165.77 612.2,164.5C613.1,163.23 614.15,162.12 615.3,161.4C616.45,160.68 617.95,160.83 619.1,160.2C620.25,159.57 621.05,158.47 622.2,157.6C623.35,156.73 624.6,155.7 626,155C627.4,154.3 629.45,153.57 630.6,153.4C631.75,153.23 632.13,153.48 632.9,154C633.67,154.52 634.32,156.23 635.2,156.5C636.08,156.77 637.18,155.93 638.2,155.6C639.22,155.27 640.27,154.82 641.3,154.5C642.33,154.18 643.38,153.78 644.4,153.7C645.42,153.62 646.38,154.25 647.4,154C648.42,153.75 649.35,152.68 650.5,152.2C651.65,151.72 653.15,151.1 654.3,151.1C655.45,151.1 655.98,151.88 657.4,152.2C658.82,152.52 661.4,153.13 662.8,153C664.2,152.87 664.52,151.9 665.8,151.4C667.08,150.9 669.72,150.23 670.5,150" stroke="#000" stroke-width="2" fill="none" stroke-linejoin="round"/>
<path d="M364.2,61.3C364.25,62.55 364.27,66.77 364.5,68.8C364.73,70.83 365.13,72.2 365.6,73.5C366.07,74.8 366.85,76.43 367.3,76.6C367.75,76.77 368.03,75.57 368.3,74.5C368.57,73.43 368.5,71.18 368.9,70.2C369.3,69.22 370.07,68.43 370.7,68.6C371.33,68.77 372.05,70.22 372.7,71.2C373.35,72.18 373.97,73.33 374.6,74.5C375.23,75.67 375.8,77.27 376.5,78.2C377.2,79.13 377.78,78.92 378.8,80.1C379.82,81.28 381.33,83.65 382.6,85.3C383.87,86.95 385.15,88.82 386.4,90C387.65,91.18 389.08,91.93 390.1,92.4C391.12,92.87 391.55,92.97 392.5,92.8C393.45,92.63 394.55,92.13 395.8,91.4C397.05,90.67 398.72,89.13 400,88.4C401.28,87.67 401.88,87.4 403.5,87C405.12,86.6 407.62,86.58 409.7,86C411.78,85.42 413.92,84.27 416,83.5C418.08,82.73 420.55,81.92 422.2,81.4C423.85,80.88 425.03,80.17 425.9,80.4C426.77,80.63 426.82,79.8 427.4,82.8C427.98,85.8 428.82,92.7 429.4,98.4C429.98,104.1 430.4,111.82 430.9,117C431.4,122.18 431.92,127.28 432.4,129.5C432.88,131.72 433.33,131.33 433.8,130.3C434.27,129.27 434.65,125.43 435.2,123.3C435.75,121.17 436.5,118.28 437.1,117.5C437.7,116.72 438.27,117.68 438.8,118.6C439.33,119.52 439.78,123.1 440.3,123C440.82,122.9 441.37,120.17 441.9,118C442.43,115.83 443,113.38 443.5,110C444,106.62 444.45,101.33 444.9,97.7C445.35,94.07 445.72,90.57 446.2,88.2C446.68,85.83 447.15,84.75 447.8,83.5C448.45,82.25 448.93,81.63 450.1,80.7C451.27,79.77 453.23,78.92 454.8,77.9C456.37,76.88 457.93,75.47 459.5,74.6C461.07,73.73 462.78,73.25 464.2,72.7C465.62,72.15 466.2,71.82 468,71.3C469.8,70.78 472.37,70.23 475,69.6C477.63,68.97 480.88,68.15 483.8,67.5C486.72,66.85 490.63,66.05 492.5,65.7C494.37,65.35 492.68,66.1 495,65.4C497.32,64.7 503.18,62.27 506.4,61.5C509.62,60.73 511.82,61.32 514.3,60.8C516.78,60.28 518.53,59.17 521.3,58.4C524.07,57.63 528.93,56.52 530.9,56.2C532.87,55.88 531.93,57.15 533.1,56.5C534.27,55.85 536.37,53.33 537.9,52.3C539.43,51.27 540.77,50.3 542.3,50.3C543.83,50.3 545.93,51.25 547.1,52.3C548.27,53.35 548.57,54.57 549.3,56.6C550.03,58.63 550.83,62.5 551.5,64.5C552.17,66.5 552.65,68.03 553.3,68.6C553.95,69.17 554.6,68.57 555.4,67.9C556.2,67.23 557.3,64.7 558.1,64.6C558.9,64.5 559.33,65.72 560.2,67.3C561.07,68.88 562.37,73.58 563.3,74.1C564.23,74.62 564.95,72.22 565.8,70.4C566.65,68.58 567.43,65.52 568.4,63.2C569.37,60.88 570.7,57.83 571.6,56.5C572.5,55.17 573.02,54.87 573.8,55.2C574.58,55.53 575.5,56.12 576.3,58.5C577.1,60.88 577.95,66.53 578.6,69.5C579.25,72.47 579.68,74.98 580.2,76.3C580.72,77.62 581.22,75.33 581.7,77.4C582.18,79.47 582.53,84.93 583.1,88.7C583.67,92.47 584.53,98.87 585.1,100C585.67,101.13 586,98.88 586.5,95.5C587,92.12 587.47,83.47 588.1,79.7C588.73,75.93 589.37,74.4 590.3,72.9C591.23,71.4 592.75,70.7 593.7,70.7C594.65,70.7 595.35,71.02 596,72.9C596.65,74.78 597.03,79.17 597.6,82C598.17,84.83 598.8,89.53 599.4,89.9C600,90.27 600.53,87.03 601.2,84.2C601.87,81.37 602.5,75.43 603.4,72.9C604.3,70.37 605.75,69.55 606.6,69C607.45,68.45 607.8,68.9 608.5,69.6C609.2,70.3 610.22,71.65 610.8,73.2C611.38,74.75 611.62,76.07 612,78.9C612.38,81.73 612.83,85.85 613.1,90.2C613.37,94.55 613.37,100.37 613.6,105C613.83,109.63 614.18,114.5 614.5,118C614.82,121.5 615.2,123.67 615.5,126C615.8,128.33 616.02,130.6 616.3,132C616.58,133.4 616.87,134.15 617.2,134.4C617.53,134.65 617.95,134.57 618.3,133.5C618.65,132.43 618.98,130.58 619.3,128C619.62,125.42 619.95,122 620.2,118C620.45,114 620.58,108 620.8,104C621.02,100 621.25,97.23 621.5,94C621.75,90.77 622.02,87.43 622.3,84.6C622.58,81.77 622.87,79.27 623.2,77C623.53,74.73 623.87,72.67 624.3,71C624.73,69.33 625.23,68.2 625.8,67C626.37,65.8 626.9,65.37 627.7,63.8C628.5,62.23 629.87,58.15 630.6,57.6C631.33,57.05 631.58,58.52 632.1,60.5C632.62,62.48 633.2,67.62 633.7,69.5C634.2,71.38 634.62,72.17 635.1,71.8C635.58,71.43 636.15,69.75 636.6,67.3C637.05,64.85 637.23,59.55 637.8,57.1C638.37,54.65 638.5,53.65 640,52.6C641.5,51.55 644.92,50.8 646.8,50.8C648.68,50.8 649.6,51.85 651.3,52.6C653,53.35 655.3,54.25 657,55.3C658.7,56.35 660.18,58.22 661.5,58.9C662.82,59.58 663.4,59.4 664.9,59.4C666.4,59.4 669.57,58.98 670.5,58.9" stroke="#ff0000" stroke-width="2" fill="none" stroke-linejoin="round"/>
<rect x="363.9" y="0.9" width="307.3" height="226.5" fill="none" stroke="#000" stroke-width="1.6"/>
<path d="M383.11,227.4V223.4M431.12,227.4V223.4M479.14,227.4V223.4M527.15,227.4V223.4M575.17,227.4V223.4M623.18,227.4V223.4M671.2,227.4V223.4M407.11,227.4V225.4M455.13,227.4V225.4M503.15,227.4V225.4M551.16,227.4V225.4M599.18,227.4V225.4M647.19,227.4V225.4" stroke="#000" stroke-width="1.4" fill="none"/>
<text x="383.11" y="243.2" font-size="13.7" text-anchor="middle" fill="#000">3500</text>
<text x="431.12" y="243.2" font-size="13.7" text-anchor="middle" fill="#000">3000</text>
<text x="479.14" y="243.2" font-size="13.7" text-anchor="middle" fill="#000">2500</text>
<text x="527.15" y="243.2" font-size="13.7" text-anchor="middle" fill="#000">2000</text>
<text x="575.17" y="243.2" font-size="13.7" text-anchor="middle" fill="#000">1500</text>
<text x="623.18" y="243.2" font-size="13.7" text-anchor="middle" fill="#000">1000</text>
<text x="671.2" y="243.2" font-size="13.7" text-anchor="middle" fill="#000">500</text>
<text x="337.2" y="21.05" font-size="21.19" fill="#000">(b)</text>
<text x="461.0" y="261.8" font-size="14.90" font-weight="bold" fill="#000">Wavenumber (cm<tspan dy="-5.22" font-size="8.94">-1</tspan><tspan dy="5.22">)</tspan></text>
<text x="353.75" y="170.05" font-size="14.82" font-weight="bold" fill="#000" transform="rotate(-90 353.75 170.05)">Intensity (a.u.)</text>
<text x="452.6" y="134.0" font-size="14.59" fill="#000">Graphite powder</text>
<text x="453.35" y="45.8" font-size="14.26" fill="#ff0000">GO nanosheet</text>
<text x="376.95" y="114.25" font-size="13.70" fill="#ff0000">3430</text>
<text x="417.3" y="143.5" font-size="13.70" fill="#ff0000">2980</text>
<text x="522.35" y="79.35" font-size="13.70" fill="#ff0000">1720</text>
<text x="548.05" y="89.65" font-size="13.70" fill="#ff0000">1620</text>
<text x="564.85" y="115.3" font-size="13.70" fill="#ff0000">1400</text>
<text x="588.25" y="99.2" font-size="11.68" font-weight="bold" fill="#ff0000">1240</text>
<text x="604.35" y="148.05" font-size="13.70" fill="#ff0000">1050</text>
<text x="628.15" y="86.7" font-size="13.70" fill="#ff0000">880</text>
<path d="M28.65,346.6L28.78,348.28 28.9,345.39 29.03,344.46 29.15,346.39 29.28,347.2 29.4,343.29 29.53,347.61 29.65,345.91 29.78,345.73 29.9,344.95 30.03,346.13 30.15,348.14 30.28,347.38 30.4,347.87 30.53,345.82 30.65,349.25 30.78,348.69 30.9,346.42 31.03,341.85 31.15,346.56 31.28,351.28 31.4,346.36 31.53,344.67 31.65,349.44 31.78,345.38 31.9,347.32 32.03,347.79 32.15,343.87 32.28,346.67 32.4,348.54 32.53,345.88 32.65,347.59 32.78,346.41 32.9,348.25 33.03,349.69 33.15,344.52 33.28,345.95 33.4,347.14 33.53,345.34 33.65,345 33.78,345.84 33.9,345.97 34.03,345.3 34.15,347.02 34.28,347.86 34.4,347.75 34.53,347.63 34.65,348.53 34.78,344.05 34.9,346.23 35.03,346.77 35.15,347.36 35.28,343.61 35.4,349.73 35.53,344.87 35.65,346.89 35.78,347.72 35.9,348.33 36.03,345.23 36.15,345.48 36.28,347.08 36.4,347.45 36.53,348.02 36.65,346.33 36.78,345.21 36.9,344.08 37.03,349.48 37.15,344.02 37.28,347.64 37.4,346.91 37.53,347.75 37.65,348.09 37.78,348.78 37.9,346.31 38.03,347.11 38.15,342.99 38.28,346.49 38.4,344.82 38.53,346.14 38.65,348.58 38.78,346.6 38.9,348.32 39.03,346.06 39.15,347.11 39.28,345.68 39.4,341.95 39.53,345.16 39.65,345.94 39.78,346.68 39.9,346.41 40.03,346.18 40.15,348.06 40.28,347.5 40.4,345.7 40.53,347.93 40.65,342.92 40.78,345.9 40.9,346.14 41.03,348.68 41.15,345.46 41.28,343.82 41.4,346.7 41.53,349.36 41.65,346.03 41.78,346.22 41.9,346.03 42.03,346.48 42.15,348.67 42.28,349.83 42.4,347.22 42.53,346.21 42.65,349.63 42.78,346.56 42.9,346.51 43.03,345.76 43.15,345.84 43.28,346.81 43.4,345.88 43.53,347.12 43.65,346.55 43.78,347.36 43.9,345.72 44.03,346.03 44.15,346.81 44.28,346.5 44.4,346.56 44.53,348.43 44.65,344.5 44.78,342.98 44.9,347.64 45.03,345.95 45.15,348.74 45.28,346.22 45.4,344.33 45.53,350.21 45.65,347.07 45.78,345.58 45.9,345.05 46.03,347.35 46.15,345.18 46.28,347.04 46.4,348.4 46.53,343.93 46.65,345.73 46.78,347.19 46.9,349.26 47.03,347.98 47.15,345.55 47.28,348.91 47.4,345.72 47.53,346.06 47.65,347 47.78,344.43 47.9,351.72 48.03,348.43 48.15,346.72 48.28,345.34 48.4,344.31 48.53,346.98 48.65,347.55 48.78,345.63 48.9,345.99 49.03,347.3 49.15,346.22 49.28,343.08 49.4,347.49 49.53,346.75 49.65,347.59 49.78,344.99 49.9,342.6 50.03,344.13 50.15,346.83 50.28,349.94 50.4,350.41 50.53,346.82 50.65,343.73 50.78,345.69 50.9,347.06 51.03,347.03 51.15,346.43 51.28,348.6 51.4,344.68 51.53,342.46 51.65,344.71 51.78,344.21 51.9,350.14 52.03,345.9 52.15,343.72 52.28,347.3 52.4,347.98 52.53,346.3 52.65,346.54 52.78,347.99 52.9,347.09 53.03,344.96 53.15,347.21 53.28,347.8 53.4,346.77 53.53,347.7 53.65,347.19 53.78,345.74 53.9,345.9 54.03,347.22 54.15,345.17 54.28,348.15 54.4,348.27 54.53,342.57 54.65,346 54.78,344.8 54.9,345 55.03,346.36 55.15,345.81 55.28,347.08 55.4,346.65 55.53,346.73 55.65,344.71 55.78,345.47 55.9,348.62 56.03,341.73 56.15,349.07 56.28,345.07 56.4,348.11 56.53,341.5 56.65,345.31 56.78,347.52 56.9,346.29 57.03,347.8 57.15,344.49 57.28,345.04 57.4,344.87 57.53,346.89 57.65,346.81 57.78,345.78 57.9,345.53 58.03,345.47 58.15,346.13 58.28,344.32 58.4,345.87 58.53,345.71 58.65,345.02 58.78,344.96 58.9,348.54 59.03,344.87 59.15,346.66 59.28,348.33 59.4,347.23 59.53,345.96 59.65,347.69 59.78,343.42 59.9,343.76 60.03,345.21 60.15,345.51 60.28,345.73 60.4,349.18 60.53,348.84 60.65,345.81 60.78,346.32 60.9,344.28 61.03,346.42 61.15,343.51 61.28,348.3 61.4,344.94 61.53,346.82 61.65,343.55 61.78,348.27 61.9,346.9 62.03,349.25 62.15,345.94 62.28,342.98 62.4,344.44 62.53,343.61 62.65,348.56 62.78,344.7 62.9,344.47 63.03,346.83 63.15,346.25 63.28,346.64 63.4,344.89 63.53,342.27 63.65,343.38 63.78,341.91 63.9,347.99 64.03,347.34 64.15,345.08 64.28,346.83 64.4,346.91 64.53,346.84 64.65,346.65 64.78,347.26 64.9,345.85 65.03,341.82 65.15,340.85 65.28,347.91 65.4,346.73 65.53,341.28 65.65,345.98 65.78,344.14 65.9,344.71 66.03,341.11 66.15,347.01 66.28,345.51 66.4,347.08 66.53,347.55 66.65,347.9 66.78,348.52 66.9,346.14 67.03,346 67.15,344.5 67.28,346.54 67.4,345.19 67.53,343.54 67.65,347.7 67.78,346.85 67.9,340.88 68.03,342.32 68.15,345.2 68.28,343.22 68.4,347.73 68.53,345.89 68.65,346.57 68.78,347.21 68.9,347.92 69.03,345.08 69.15,346.66 69.28,346 69.4,346.96 69.53,346.52 69.65,348.05 69.78,346.48 69.9,344.69 70.03,345.74 70.15,343.53 70.28,346.09 70.4,348.18 70.53,344.45 70.65,342.61 70.78,345.37 70.9,344.62 71.03,345.51 71.15,344.46 71.28,345.64 71.4,343.71 71.53,348.23 71.65,345.1 71.78,346.4 71.9,346.83 72.03,345.22 72.15,346.28 72.28,345.05 72.4,344.69 72.53,345.08 72.65,346.33 72.78,343.24 72.9,343.87 73.03,344.05 73.15,344.47 73.28,347.5 73.4,345.4 73.53,344.92 73.65,345.71 73.78,347.32 73.9,344.13 74.03,347.25 74.15,341.35 74.28,343.88 74.4,348.04 74.53,348.18 74.65,345.78 74.78,344.7 74.9,346.89 75.03,344.72 75.15,348.16 75.28,347.52 75.4,346.79 75.53,343.96 75.65,347.15 75.78,345 75.9,345.03 76.03,344.7 76.15,345.23 76.28,346.32 76.4,346.93 76.53,346.93 76.65,351.41 76.78,344.84 76.9,347.48 77.03,344.28 77.15,345.1 77.28,343.4 77.4,347.57 77.53,345.9 77.65,345.67 77.78,345.23 77.9,347.06 78.03,344.56 78.15,346.14 78.28,349.86 78.4,345.18 78.53,344.33 78.65,343.65 78.78,346.86 78.9,345.55 79.03,344.1 79.15,343.96 79.28,345.48 79.4,343.66 79.53,349.11 79.65,345.08 79.78,345.1 79.9,345.25 80.03,342.22 80.15,342.85 80.28,344.76 80.4,345.36 80.53,343.22 80.65,348.38 80.78,346.19 80.9,347.66 81.03,347.45 81.15,344.99 81.28,349.66 81.4,345.59 81.53,342.06 81.65,341.26 81.78,345.37 81.9,346.9 82.03,345.49 82.15,348.41 82.28,344.83 82.4,346.35 82.53,346.64 82.65,343.54 82.78,345.88 82.9,345.98 83.03,347.26 83.15,347.46 83.28,347.06 83.4,343.99 83.53,346.61 83.65,347.2 83.78,345.38 83.9,346.63 84.03,346.66 84.15,347.38 84.28,345.43 84.4,346.13 84.53,345.63 84.65,345.4 84.78,344.2 84.9,344.69 85.03,343.3 85.15,344.92 85.28,346.47 85.4,346.34 85.53,346.56 85.65,345.05 85.78,347.68 85.9,344.44 86.03,346.58 86.15,345.96 86.28,343.92 86.4,343.99 86.53,346.53 86.65,345.28 86.78,345.69 86.9,350.59 87.03,346.2 87.15,345.42 87.28,346.49 87.4,344.15 87.53,344.89 87.65,345.97 87.78,343.77 87.9,345.14 88.03,344.86 88.15,345.37 88.28,342.09 88.4,348.28 88.53,345.02 88.65,346.13 88.78,343.36 88.9,342.88 89.03,345.21 89.15,344.6 89.28,346.29 89.4,343.54 89.53,343.43 89.65,345.73 89.78,346.37 89.9,346.75 90.03,345.08 90.15,345.59 90.28,343.73 90.4,347.42 90.53,347.11 90.65,347.04 90.78,342.3 90.9,346.63 91.03,343.81 91.15,345.94 91.28,345.83 91.4,347.2 91.53,344.73 91.65,344.46 91.78,343.29 91.9,342.97 92.03,346.05 92.15,343.44 92.28,346.19 92.4,344.35 92.53,344.01 92.65,346.67 92.78,346.49 92.9,343.25 93.03,344.68 93.15,344.95 93.28,346.12 93.4,343.67 93.53,344.22 93.65,344.74 93.78,346.14 93.9,346.49 94.03,343.97 94.15,347.98 94.28,345.65 94.4,343.51 94.53,342.18 94.65,344.02 94.78,340.72 94.9,345.19 95.03,345.84 95.15,347.08 95.28,345.72 95.4,341.86 95.53,344.34 95.65,346.05 95.78,341.03 95.9,343.38 96.03,345.9 96.15,344.9 96.28,341.29 96.4,343.91 96.53,344.82 96.65,348.41 96.78,344 96.9,343.18 97.03,345.19 97.15,345.34 97.28,345.74 97.4,347.26 97.53,344.62 97.65,342.33 97.78,344.8 97.9,344.75 98.03,346.4 98.15,346.17 98.28,343.42 98.4,346.04 98.53,346.43 98.65,344.35 98.78,346.33 98.9,344.96 99.03,344.97 99.15,344.4 99.28,346.05 99.4,349.66 99.53,345.03 99.65,342.6 99.78,344.22 99.9,343.6 100.03,345.17 100.15,344.36 100.28,349.02 100.4,345.89 100.53,347.83 100.65,343.34 100.78,344.19 100.9,348.15 101.03,341.62 101.15,344.79 101.28,341.82 101.4,347.21 101.53,342.04 101.65,343.98 101.78,344.19 101.9,341.54 102.03,348.8 102.15,344.18 102.28,347.34 102.4,343.24 102.53,341.88 102.65,344.81 102.78,344.76 102.9,349.53 103.03,342.56 103.15,341.67 103.28,343.15 103.4,344.91 103.53,345.36 103.65,343.05 103.78,343.74 103.9,345.3 104.03,346.24 104.15,343.28 104.28,344.54 104.4,339.46 104.53,342.59 104.65,345.03 104.78,344.25 104.9,343.93 105.03,347.07 105.15,343.73 105.28,342.31 105.4,344.58 105.53,344.57 105.65,342.19 105.78,345.94 105.9,347.16 106.03,343.13 106.15,342.63 106.28,344 106.4,346.32 106.53,343.14 106.65,342.83 106.78,343.07 106.9,344.51 107.03,344.45 107.15,343.77 107.28,346.16 107.4,347.99 107.53,343.02 107.65,345.85 107.78,344.49 107.9,349.25 108.03,342.45 108.15,343.37 108.28,344.15 108.4,341.45 108.53,343.57 108.65,345.17 108.78,341.38 108.9,344.12 109.03,347.01 109.15,342.82 109.28,342.28 109.4,339.4 109.53,343.64 109.65,340.96 109.78,344.77 109.9,346.66 110.03,344.74 110.15,342.37 110.28,344.89 110.4,342.9 110.53,341.74 110.65,342.82 110.78,344.1 110.9,343.03 111.03,344.58 111.15,347.4 111.28,344.7 111.4,344.93 111.53,342.43 111.65,345.91 111.78,344.18 111.9,345.31 112.03,342.16 112.15,343.92 112.28,339.37 112.4,342.84 112.53,341.97 112.65,341.67 112.78,346.45 112.9,340.7 113.03,343.11 113.15,343.1 113.28,344.26 113.4,345.07 113.53,340.47 113.65,342.31 113.78,342 113.9,344.43 114.03,344.83 114.15,342.44 114.28,342.18 114.4,341.33 114.53,343.72 114.65,345.97 114.78,343.68 114.9,341.76 115.03,341.5 115.15,341.68 115.28,340.01 115.4,345.9 115.53,342.96 115.65,342.22 115.78,346.68 115.9,343.12 116.03,345.29 116.15,343.13 116.28,344.55 116.4,342.71 116.53,341.9 116.65,343.22 116.78,343.71 116.9,344.32 117.03,342.72 117.15,341.88 117.28,341.62 117.4,342.76 117.53,341.32 117.65,341.55 117.78,343.02 117.9,343.04 118.03,342.84 118.15,340.59 118.28,339.31 118.4,342.25 118.53,341.91 118.65,340.98 118.78,341.93 118.9,342.99 119.03,341.07 119.15,342.05 119.28,339.56 119.4,340.8 119.53,339.64 119.65,338.48 119.78,341.68 119.9,335.85 120.03,340.61 120.15,341.98 120.28,341.21 120.4,337.69 120.53,340.71 120.65,336.97 120.78,338.5 120.9,342.42 121.03,340.06 121.15,341.71 121.28,337.58 121.4,335.71 121.53,337.88 121.65,341.28 121.78,340.48 121.9,340.56 122.03,338.25 122.15,338.16 122.28,337.77 122.4,342.99 122.53,337.86 122.65,340.57 122.78,336.94 122.9,339.42 123.03,334.86 123.15,335.61 123.28,336.85 123.4,334.94 123.53,334.93 123.65,335.06 123.78,334.07 123.9,337.41 124.03,336.33 124.15,331.54 124.28,336.63 124.4,333.18 124.53,332.8 124.65,332.16 124.78,333.57 124.9,332.86 125.03,330.26 125.15,330.82 125.28,327.99 125.4,333.07 125.53,327.87 125.65,327.34 125.78,327.18 125.9,328.22 126.03,328.84 126.15,326.46 126.28,326.7 126.4,325.65 126.53,328.11 126.65,325.89 126.78,322.17 126.9,327.43 127.03,325.16 127.15,327.72 127.28,323.08 127.4,323.15 127.53,323.61 127.65,321.41 127.78,323.23 127.9,326.14 128.03,325.26 128.15,319.97 128.28,326.63 128.4,325.24 128.53,326.33 128.65,325.27 128.78,325.88 128.9,326.01 129.03,326.4 129.15,324.91 129.28,328.98 129.4,327.97 129.53,328.72 129.65,329.11 129.78,328.43 129.9,329.32 130.03,327.54 130.15,330.8 130.28,331.27 130.4,330.8 130.53,328.64 130.65,334.42 130.78,332.18 130.9,332.85 131.03,332.73 131.15,332.6 131.28,333.3 131.4,332.41 131.53,333.67 131.65,338.64 131.78,337.41 131.9,339.15 132.03,334.84 132.15,332.9 132.28,334.09 132.4,332.12 132.53,338.88 132.65,339.37 132.78,337.64 132.9,338.33 133.03,338.52 133.15,337.88 133.28,339.55 133.4,336.68 133.53,337.86 133.65,338.55 133.78,335.99 133.9,337.36 134.03,340.04 134.15,340.03 134.28,335.24 134.4,341.3 134.53,340.44 134.65,341.29 134.78,339.95 134.9,341.21 135.03,338.02 135.15,340.01 135.28,338.63 135.4,339.68 135.53,342.74 135.65,343.63 135.78,340.92 135.9,340.17 136.03,342.39 136.15,341.91 136.28,344.54 136.4,342.36 136.53,337.22 136.65,341.49 136.78,340.88 136.9,340.1 137.03,341.8 137.15,341.72 137.28,341.05 137.4,344.35 137.53,342.42 137.65,342.52 137.78,342.13 137.9,344.03 138.03,339.99 138.15,344.09 138.28,341.6 138.4,344.65 138.53,344.58 138.65,342.99 138.78,341.36 138.9,342.68 139.03,342.84 139.15,339.69 139.28,341.71 139.4,341.08 139.53,344.73 139.65,345.33 139.78,341.11 139.9,341.48 140.03,340.12 140.15,342.9 140.28,343.88 140.4,345.62 140.53,340.26 140.65,344.14 140.78,342.28 140.9,341.3 141.03,341.96 141.15,341.25 141.28,343.38 141.4,342.61 141.53,344.7 141.65,341.71 141.78,339.38 141.9,340.93 142.03,343.27 142.15,340.11 142.28,341.38 142.4,343.63 142.53,340.31 142.65,344.19 142.78,343.32 142.9,341.71 143.03,342.66 143.15,341.87 143.28,342.06 143.4,342.18 143.53,342.78 143.65,342.59 143.78,341.45 143.9,341.04 144.03,346.36 144.15,340.82 144.28,342.48 144.4,344.83 144.53,344.47 144.65,341.47 144.78,346.23 144.9,345.81 145.03,342.18 145.15,340.57 145.28,343.82 145.4,342.4 145.53,342.2 145.65,341.29 145.78,341.66 145.9,342.98 146.03,344.26 146.15,339.07 146.28,338.53 146.4,344.35 146.53,341.18 146.65,343.86 146.78,342.83 146.9,344.81 147.03,344.21 147.15,342.13 147.28,342.33 147.4,343.16 147.53,343.89 147.65,341.48 147.78,339.92 147.9,342.73 148.03,342.47 148.15,342.26 148.28,340.78 148.4,343.57 148.53,339.48 148.65,341.64 148.78,344.73 148.9,340.52 149.03,343.17 149.15,343.22 149.28,343.16 149.4,339.48 149.53,344.15 149.65,342.62 149.78,343.21 149.9,342.85 150.03,342.39 150.15,344.38 150.28,344.72 150.4,338.93 150.53,340.78 150.65,341.81 150.78,338.27 150.9,344.58 151.03,340.63 151.15,342.92 151.28,342.28 151.4,341.48 151.53,340.06 151.65,341.14 151.78,341.88 151.9,343.05 152.03,341.28 152.15,340.89 152.28,341.1 152.4,343.76 152.53,341.94 152.65,340.2 152.78,339.12 152.9,340.55 153.03,339.62 153.15,340.41 153.28,343.46 153.4,342.23 153.53,341.35 153.65,341.59 153.78,343.82 153.9,338.76 154.03,341.44 154.15,340.23 154.28,340.75 154.4,340.55 154.53,339.78 154.65,341.18 154.78,336.37 154.9,340.54 155.03,341.11 155.15,338.15 155.28,337.99 155.4,342.9 155.53,337.88 155.65,338.69 155.78,337.89 155.9,338.06 156.03,337.83 156.15,335.18 156.28,342.86 156.4,337.27 156.53,339.02 156.65,338.02 156.78,340.28 156.9,338.9 157.03,339.39 157.15,339.15 157.28,338.25 157.4,336.47 157.53,337.58 157.65,332.76 157.78,336.56 157.9,335.64 158.03,334.28 158.15,330.68 158.28,334.46 158.4,329.98 158.53,331.11 158.65,325.51 158.78,326.91 158.9,324.36 159.03,322.12 159.15,319.98 159.28,321.52 159.4,315.24 159.53,312.31 159.65,311.39 159.78,300.72 159.9,301.11 160.03,292.99 160.15,288.06 160.28,284.79 160.4,280.04 160.53,279.93 160.65,281.85 160.78,285.67 160.9,291.85 161.03,297.07 161.15,299.28 161.28,305.13 161.4,309.44 161.53,312.03 161.65,316.1 161.78,317.51 161.9,321.92 162.03,322.63 162.15,324.84 162.28,326.7 162.4,327.78 162.53,327.35 162.65,327.16 162.78,330.16 162.9,329.96 163.03,330.58 163.15,331.81 163.28,331.18 163.4,333.56 163.53,333.8 163.65,331.84 163.78,334.31 163.9,332.24 164.03,335.4 164.15,335.45 164.28,334.57 164.4,336.36 164.53,336.81 164.65,336.03 164.78,332.29 164.9,335.95 165.03,336.32 165.15,337.63 165.28,334.77 165.4,337.98 165.53,337.64 165.65,338.01 165.78,335.43 165.9,336.36 166.03,340.12 166.15,339.87 166.28,338.57 166.4,340.88 166.53,339.72 166.65,338.8 166.78,337.03 166.9,341.79 167.03,340.02 167.15,340.89 167.28,337.57 167.4,339.96 167.53,341.61 167.65,340.84 167.78,340.16 167.9,339.66 168.03,342.1 168.15,341.23 168.28,341.41 168.4,341.6 168.53,341.09 168.65,341.74 168.78,341.33 168.9,342.53 169.03,340.17 169.15,340.72 169.28,342.74 169.4,342.46 169.53,343.08 169.65,346.35 169.78,344.2 169.9,344.91 170.03,343.72 170.15,342.83 170.28,341.69 170.4,339.89 170.53,340.69 170.65,339.13 170.78,341.29 170.9,340.54 171.03,341.68 171.15,343.38 171.28,342.76 171.4,345.07 171.53,345.15 171.65,345.42 171.78,345.2 171.9,344.23 172.03,342.93 172.15,344.66 172.28,343.5 172.4,343.64 172.53,344.75 172.65,342.21 172.78,341.33 172.9,344.77 173.03,347.34 173.15,346.26 173.28,350.89 173.4,341.99 173.53,343.36 173.65,340.54 173.78,343.09 173.9,347.92 174.03,347.49 174.15,342.98 174.28,344.24 174.4,343.42 174.53,342.57 174.65,344.53 174.78,344.43 174.9,345.22 175.03,345.55 175.15,346.33 175.28,347.52 175.4,345.02 175.53,344.81 175.65,345.2 175.78,345.97 175.9,344.99 176.03,343.52 176.15,344.35 176.28,346.55 176.4,343.5 176.53,346.71 176.65,342.9 176.78,346.39 176.9,346.37 177.03,344.99 177.15,345.34 177.28,344.99 177.4,348.32 177.53,344.66 177.65,344.17 177.78,346.11 177.9,347.39 178.03,346.06 178.15,345.24 178.28,347.29 178.4,344.21 178.53,344.19 178.65,343.41 178.78,347.67 178.9,341.76 179.03,343.37 179.15,346.04 179.28,346.34 179.4,348.65 179.53,346.39 179.65,344.82 179.78,348.08 179.9,347.54 180.03,347.72 180.15,347.57 180.28,346.62 180.4,343.24 180.53,343.95 180.65,349.19 180.78,345.87 180.9,342.63 181.03,345.92 181.15,347.5 181.28,346.53 181.4,345.89 181.53,341.86 181.65,345.99 181.78,345.67 181.9,348.81 182.03,345.94 182.15,345.85 182.28,345.19 182.4,345.76 182.53,346.45 182.65,345.11 182.78,344.48 182.9,343.88 183.03,346.24 183.15,345.43 183.28,345.51 183.4,343.44 183.53,344.68 183.65,342.82 183.78,347.76 183.9,348.16 184.03,346.84 184.15,345.95 184.28,346.96 184.4,343.6 184.53,343.89 184.65,348.23 184.78,344.41 184.9,346.13 185.03,345.07 185.15,342.02 185.28,345.09 185.4,347.69 185.53,348.55 185.65,341.93 185.78,343.59 185.9,345.32 186.03,348.05 186.15,348.46 186.28,349.11 186.4,349.29 186.53,345.65 186.65,344.68 186.78,348.01 186.9,345.98 187.03,346.49 187.15,345.83 187.28,345.78 187.4,348.06 187.53,344.74 187.65,343.47 187.78,345.3 187.9,346.7 188.03,346 188.15,346.3 188.28,343.1 188.4,345.04 188.53,348.44 188.65,346.29 188.78,345.41 188.9,348.56 189.03,345.64 189.15,347.93 189.28,347.01 189.4,347.35 189.53,348.45 189.65,350.57 189.78,348.89 189.9,345.22 190.03,344.77 190.15,346.14 190.28,346.42 190.4,347.94 190.53,346.8 190.65,347.1 190.78,343.81 190.9,346.69 191.03,347.71 191.15,349.76 191.28,348.18 191.4,346.99 191.53,344.78 191.65,346.83 191.78,346.87 191.9,346.62 192.03,347.15 192.15,347.77 192.28,347.68 192.4,350.8 192.53,345.22 192.65,344.21 192.78,347.63 192.9,344.82 193.03,346.61 193.15,346.84 193.28,345.58 193.4,348.38 193.53,348.14 193.65,347.27 193.78,348.09 193.9,348.56 194.03,346.52 194.15,348.11 194.28,347.32 194.4,347.09 194.53,346.29 194.65,350.15 194.78,347.7 194.9,344.66 195.03,348.01 195.15,342.71 195.28,347.64 195.4,348.52 195.53,349.66 195.65,347.56 195.78,345.99 195.9,350.6 196.03,349.03 196.15,349.49 196.28,346.8 196.4,348.36 196.53,344.19 196.65,348.1 196.78,343.61 196.9,345.49 197.03,344.73 197.15,349.29 197.28,348.91 197.4,346.29 197.53,349.48 197.65,347.47 197.78,343.88 197.9,346.67 198.03,344.34 198.15,347.49 198.28,348 198.4,346.09 198.53,348.8 198.65,349.23 198.78,345.84 198.9,348.4 199.03,347.25 199.15,346.94 199.28,350.38 199.4,346.22 199.53,346.84 199.65,347.35 199.78,348.47 199.9,348.84 200.03,345.85 200.15,349.9 200.28,350.71 200.4,351.04 200.53,347.83 200.65,346.66 200.78,345.68 200.9,348.17 201.03,347.44 201.15,347.48 201.28,346.5 201.4,343.73 201.53,347.1 201.65,347.32 201.78,346.98 201.9,345.16 202.03,347.16 202.15,347.39 202.28,345.69 202.4,348.8 202.53,347.62 202.65,347.93 202.78,348.39 202.9,347.27 203.03,347.58 203.15,348.66 203.28,349.07 203.4,349.31 203.53,347.43 203.65,349.11 203.78,349.77 203.9,345.33 204.03,347.08 204.15,347.76 204.28,347.82 204.4,350.96 204.53,349.91 204.65,347.61 204.78,347.65 204.9,345.42 205.03,346.15 205.15,350.23 205.28,344.88 205.4,349 205.53,346.68 205.65,347.38 205.78,347.75 205.9,351.14 206.03,348.54 206.15,348.85 206.28,349.75 206.4,344.1 206.53,351.26 206.65,345.08 206.78,346.76 206.9,349.23 207.03,345.88 207.15,344.99 207.28,350.09 207.4,347.52 207.53,349.72 207.65,348.94 207.78,347.76 207.9,351.07 208.03,347.67 208.15,351.66 208.28,346.58 208.4,346.4 208.53,346.96 208.65,348.58 208.78,346.19 208.9,346.96 209.03,350.72 209.15,348.53 209.28,350.24 209.4,348.88 209.53,347.22 209.65,346.91 209.78,348.59 209.9,348.4 210.03,347.37 210.15,347.31 210.28,350.83 210.4,350.13 210.53,348.85 210.65,347.74 210.78,347.6 210.9,351.85 211.03,347.31 211.15,352.4 211.28,347.22 211.4,345.78 211.53,351.92 211.65,348.2 211.78,351.07 211.9,349.18 212.03,348 212.15,350.07 212.28,347.92 212.4,349.2 212.53,348.2 212.65,345.38 212.78,349.15 212.9,347.54 213.03,348.23 213.15,349.2 213.28,346.02 213.4,349.44 213.53,349.52 213.65,351.87 213.78,349.96 213.9,349.13 214.03,347.41 214.15,348.5 214.28,346.09 214.4,349.26 214.53,348.22 214.65,347.93 214.78,348.6 214.9,349.37 215.03,349.04 215.15,346.54 215.28,350.91 215.4,348.66 215.53,349.19 215.65,348.63 215.78,346.99 215.9,349.09 216.03,347.96 216.15,347.17 216.28,348.87 216.4,349.97 216.53,349.73 216.65,349.01 216.78,347.62 216.9,348.12 217.03,348.46 217.15,346.23 217.28,350.11 217.4,348.88 217.53,346.51 217.65,351.33 217.78,352.09 217.9,346.51 218.03,348.45 218.15,347.32 218.28,350.11 218.4,346.4 218.53,349.64 218.65,349.46 218.78,350.73 218.9,345.53 219.03,347.49 219.15,348.47 219.28,350.49 219.4,349 219.53,350.15 219.65,349.65 219.78,347.31 219.9,348.67 220.03,348.19 220.15,348.34 220.28,347.31 220.4,350.21 220.53,349.44 220.65,345.62 220.78,350.2 220.9,347.95 221.03,346.37 221.15,351.03 221.28,348.9 221.4,349.55 221.53,348.7 221.65,348.87 221.78,345.8 221.9,350.24 222.03,347.66 222.15,348.96 222.28,348.79 222.4,347.25 222.53,346.76 222.65,348.67 222.78,351.14 222.9,347.79 223.03,347.89 223.15,349.1 223.28,347.93 223.4,351.21 223.53,349.74 223.65,353.29 223.78,349.32 223.9,352.8 224.03,347.93 224.15,349.35 224.28,347.12 224.4,348.29 224.53,348.42 224.65,350.03 224.78,351.34 224.9,348.53 225.03,346.47 225.15,348.98 225.28,348.69 225.4,348.14 225.53,350.49 225.65,350.97 225.78,347.79 225.9,347.78 226.03,344.5 226.15,347.92 226.28,350.48 226.4,347.42 226.53,350.61 226.65,350.2 226.78,350.11 226.9,350.14 227.03,348.91 227.15,350.83 227.28,350.9 227.4,349.67 227.53,349 227.65,351.33 227.78,351.68 227.9,347.97 228.03,350.53 228.15,349.18 228.28,353.16 228.4,348.52 228.53,348 228.65,347.49 228.78,350.68 228.9,347.25 229.03,350.21 229.15,348.19 229.28,351.43 229.4,351.83 229.53,351.08 229.65,345.69 229.78,346.55 229.9,344.38 230.03,353.68 230.15,348.05 230.28,348.37 230.4,349.17 230.53,350.14 230.65,348.51 230.78,349.2 230.9,349.07 231.03,346.81 231.15,352.25 231.28,352.11 231.4,349.14 231.53,348.86 231.65,352.38 231.78,353.36 231.9,349.19 232.03,350.15 232.15,348.38 232.28,349.69 232.4,344.64 232.53,345.18 232.65,349.9 232.78,348.78 232.9,349.81 233.03,349.25 233.15,350.17 233.28,349.57 233.4,348.82 233.53,349.86 233.65,347.97 233.78,351.6 233.9,347.43 234.03,348.44 234.15,350.72 234.28,348.5 234.4,350.82 234.53,351.7 234.65,350.52 234.78,348.38 234.9,352.49 235.03,349.96 235.15,347.47 235.28,352.69 235.4,349.49 235.53,350.25 235.65,350.75 235.78,348.27 235.9,350.75 236.03,347 236.15,347.46 236.28,348.49 236.4,353 236.53,350.23 236.65,351.22 236.78,348.42 236.9,350.12 237.03,345.49 237.15,348.74 237.28,349.96 237.4,348.2 237.53,345.72 237.65,346.33 237.78,350.31 237.9,351.55 238.03,348.54 238.15,351.99 238.28,346.91 238.4,350.27 238.53,349.71 238.65,351.02 238.78,346.54 238.9,350.93 239.03,349.37 239.15,347.65 239.28,348.36 239.4,348.77 239.53,349.65 239.65,347.65 239.78,347.63 239.9,349.29 240.03,349.07 240.15,350 240.28,350.71 240.4,345.86 240.53,348.95 240.65,349.51 240.78,349.18 240.9,347.2 241.03,350.33 241.15,352.09 241.28,348.77 241.4,347.68 241.53,350.42 241.65,349.09 241.78,349.26 241.9,349.45 242.03,348.25 242.15,349.02 242.28,347.77 242.4,345.59 242.53,350.87 242.65,349.55 242.78,348.91 242.9,351.41 243.03,348.76 243.15,351.01 243.28,350.49 243.4,348.52 243.53,346.82 243.65,349.87 243.78,349.43 243.9,350.81 244.03,346.3 244.15,348.81 244.28,349.44 244.4,349.63 244.53,349.23 244.65,349.57 244.78,344.93 244.9,348.47 245.03,347.84 245.15,346.3 245.28,349.22 245.4,348.33 245.53,346.98 245.65,346.56 245.78,349.58 245.9,344.54 246.03,348.85 246.15,347.04 246.28,349.25 246.4,352.4 246.53,350.82 246.65,348.91 246.78,351.67 246.9,352.34 247.03,350.77 247.15,352.29 247.28,349.41 247.4,350.15 247.53,348.88 247.65,348.36 247.78,349.07 247.9,347.66 248.03,348.86 248.15,352.93 248.28,350.29 248.4,348.69 248.53,352.08 248.65,351.59 248.78,347.14 248.9,347.8 249.03,352.09 249.15,349.2 249.28,349.35 249.4,348.1 249.53,347.07 249.65,351.06 249.78,347.6 249.9,349.98 250.03,352.31 250.15,349.98 250.28,348.65 250.4,350.14 250.53,350.01 250.65,348.21 250.78,349.49 250.9,346.88 251.03,345.91 251.15,348.04 251.28,345.9 251.4,347.89 251.53,348.78 251.65,349.32 251.78,352.29 251.9,347.35 252.03,348.18 252.15,348.16 252.28,347.19 252.4,352.57 252.53,347.59 252.65,348.55 252.78,348.65 252.9,353.29 253.03,348.41 253.15,347.59 253.28,351.15 253.4,347.78 253.53,345.2 253.65,350.96 253.78,350.61 253.9,346.4 254.03,346.73 254.15,348.87 254.28,347.2 254.4,346.21 254.53,346.78 254.65,352.1 254.78,350.83 254.9,347 255.03,348.62 255.15,349.08 255.28,348.28 255.4,348.82 255.53,352.01 255.65,347.74 255.78,347.49 255.9,348.78 256.02,347.65 256.15,348.06 256.27,348.06 256.4,347.06 256.52,351.01 256.65,347.65 256.77,351.21 256.9,347.31 257.02,347.19 257.15,349.28 257.27,348.35 257.4,350.34 257.52,350.03 257.65,352.98 257.77,343.53 257.9,346.95 258.02,348.74 258.15,348.43 258.27,348.72 258.4,353.46 258.52,344.75 258.65,350.03 258.77,348.4 258.9,348.82 259.02,350.76 259.15,348.7 259.27,350.23 259.4,351.13 259.52,350.96 259.65,345.43 259.77,347.62 259.9,346.44 260.02,347.37 260.15,348.41 260.27,352.49 260.4,347.56 260.52,348.15 260.65,348.36 260.77,351.35 260.9,347.61 261.02,349.42 261.15,350.06 261.27,349.59 261.4,344.87 261.52,346.14 261.65,349.69 261.77,345.25 261.9,348 262.02,345.66 262.15,349.07 262.27,348.24 262.4,345.49 262.52,347.82 262.65,346.32 262.77,347.21 262.9,350.45 263.02,348.68 263.15,348.76 263.27,350.89 263.4,348.3 263.52,350.45 263.65,348.78 263.77,348.53 263.9,347.37 264.02,346.5 264.15,346.12 264.27,346.28 264.4,348.87 264.52,348.65 264.65,346.39 264.77,350.08 264.9,346.71 265.02,347.13 265.15,345.35 265.27,346.29 265.4,349.33 265.52,348.54 265.65,346.6 265.77,349.92 265.9,347.57 266.02,347.81 266.15,349.53 266.27,348.45 266.4,347.01 266.52,345.7 266.65,349.86 266.77,343.33 266.9,346.41 267.02,344.37 267.15,346.43 267.27,348.97 267.4,346.83 267.52,346.65 267.65,347.3 267.77,350.87 267.9,349.8 268.02,347.73 268.15,346.16 268.27,346.57 268.4,347.87 268.52,346.82 268.65,347 268.77,345.34 268.9,344.75 269.02,345.2 269.15,347.56 269.27,345.47 269.4,351.61 269.52,348.08 269.65,348.23 269.77,348.83 269.9,345.18 270.02,344.94 270.15,346.6 270.27,348.05 270.4,347.96 270.52,349.89 270.65,349.44 270.77,348.82 270.9,348.96 271.02,347.42 271.15,348.45 271.27,346.43 271.4,346.17 271.52,348.57 271.65,343.96 271.77,349.36 271.9,350.16 272.02,346 272.15,348.18 272.27,347.14 272.4,345.09 272.52,347.46 272.65,347.73 272.77,348.57 272.9,346.17 273.02,346.98 273.15,345.63 273.27,348.47 273.4,346.49 273.52,348.16 273.65,345.42 273.77,346.8 273.9,344.97 274.02,345.22 274.15,348.47 274.27,346.15 274.4,346.3 274.52,347.72 274.65,344.96 274.77,349.8 274.9,344.97 275.02,345.61 275.15,350.12 275.27,343.21 275.4,349.33 275.52,346.86 275.65,347.05 275.77,344.25 275.9,346.37 276.02,343.8 276.15,347.76 276.27,345.51 276.4,344.76 276.52,345 276.65,345.54 276.77,347.5 276.9,346.37 277.02,344.33 277.15,344.09 277.27,343.76 277.4,346.93 277.52,346.33 277.65,343.51 277.77,342.58 277.9,345.32 278.02,344.38 278.15,346.3 278.27,345.13 278.4,345.97 278.52,346.71 278.65,347.09 278.77,344.84 278.9,346.45 279.02,344.14 279.15,342.99 279.27,345.46 279.4,347.14 279.52,347.48 279.65,344.82 279.77,341.85 279.9,345.4 280.02,344.4 280.15,345.82 280.27,346.55 280.4,343.84 280.52,343.29 280.65,343.8 280.77,343.22 280.9,342.6 281.02,344.66 281.15,342.92 281.27,343.64 281.4,343.47 281.52,342.91 281.65,344.96 281.77,343.01 281.9,343.6 282.02,345.06 282.15,343.32 282.27,340.94 282.4,342.58 282.52,342.49 282.65,344.34 282.77,346.05 282.9,343.4 283.02,342.74 283.15,345.44 283.27,341.57 283.4,343.23 283.52,343.45 283.65,342.43 283.77,342.11 283.9,342.66 284.02,344.91 284.15,343.17 284.27,341.05 284.4,342.5 284.52,343.59 284.65,344.93 284.77,343.15 284.9,341.99 285.02,343.98 285.15,343.04 285.27,341.66 285.4,340.17 285.52,341.39 285.65,342.81 285.77,339.21 285.9,338.21 286.02,341.8 286.15,338.16 286.27,338.48 286.4,340.3 286.52,340.15 286.65,340.57 286.77,340.67 286.9,341.21 287.02,340.01 287.15,338.65 287.27,335.07 287.4,342.04 287.52,341.13 287.65,340.73 287.77,339.48 287.9,337.85 288.02,340.08 288.15,338.97 288.27,336.58 288.4,340.56 288.52,336.13 288.65,337.67 288.77,341.29 288.9,336.61 289.02,338.11 289.15,339.41 289.27,337.34 289.4,334.63 289.52,335.97 289.65,336.47 289.77,333.68 289.9,338.51 290.02,336.3 290.15,336.72 290.27,335.68 290.4,335.64 290.52,334.13 290.65,331.99 290.77,335.56 290.9,334.32 291.02,336.9 291.15,332.1 291.27,334.42 291.4,337.99 291.52,331.97 291.65,332.4 291.77,335.07 291.9,337.89 292.02,333.16 292.15,335.67 292.27,335.61 292.4,335.35 292.52,336.28 292.65,339.27 292.77,337.81 292.9,335.7 293.02,337.34 293.15,339.01 293.27,336.81 293.4,338.45 293.52,339.34 293.65,336.76 293.77,344.02 293.9,338.32 294.02,341.58 294.15,341.49 294.27,341.04 294.4,344.5 294.52,342.77 294.65,341.47 294.77,345.22 294.9,344.38 295.02,341.83 295.15,341.19 295.27,345.6 295.4,344.01 295.52,341.88 295.65,345.57 295.77,342.26 295.9,343.72 296.02,343.65 296.15,341.76 296.27,346.56 296.4,351.62 296.52,346.74 296.65,346.45 296.77,345.4 296.9,345.83 297.02,346.54 297.15,347.25 297.27,345.37 297.4,346.42 297.52,346.07 297.65,347.5 297.77,348.26 297.9,348.62 298.02,346 298.15,346.01 298.27,348.13 298.4,346.54 298.52,346.69 298.65,347.94 298.77,347.86 298.9,349.59 299.02,345.19 299.15,349.35 299.27,346.62 299.4,348.67 299.52,345.27 299.65,347.36 299.77,346.55 299.9,350.79 300.02,346.07 300.15,349.77 300.27,346.4 300.4,345.9 300.52,348.44 300.65,349.79 300.77,347.87 300.9,349.06 301.02,348.47 301.15,347.99 301.27,350.55 301.4,348.17 301.52,349.72 301.65,346.2 301.77,347.93 301.9,349.95 302.02,347.52 302.15,344.6 302.27,349.71 302.4,349.44 302.52,347.95 302.65,348.68 302.77,347.93 302.9,349.22 303.02,350.51 303.15,349.15 303.27,348.47 303.4,347.81 303.52,348.4 303.65,347.83 303.77,350.43 303.9,346.91 304.02,347.76 304.15,349.42 304.27,349.42 304.4,349.3 304.52,348.15 304.65,349.26 304.77,346.43 304.9,346.29 305.02,346.73 305.15,349.67 305.27,351.42 305.4,348.3 305.52,348.1 305.65,348.59 305.77,352.3 305.9,349.53 306.02,349.36 306.15,348.22 306.27,350.1 306.4,351.53 306.52,349.61 306.65,347.89 306.77,351.62 306.9,349.3 307.02,352.48 307.15,347.54 307.27,349.14 307.4,349.89 307.52,346.37 307.65,349.63 307.77,350.55 307.9,349.27 308.02,350.28 308.15,349.84 308.27,348.07 308.4,350.83 308.52,348.26 308.65,349.06 308.77,348.32 308.9,350.74 309.02,348.82 309.15,348.83 309.27,345.93 309.4,349.2 309.52,351.44 309.65,346.07 309.77,350.38 309.9,349.68 310.02,346.73 310.15,349.05 310.27,351.46 310.4,349.8 310.52,350.44 310.65,351.78 310.77,349.29 310.9,351.38 311.02,347.71 311.15,348.39 311.27,352.43 311.4,352.28 311.52,351.56 311.65,347.33 311.77,349.57 311.9,348.43 312.02,353.33 312.15,347.66 312.27,347.8 312.4,348.99 312.52,350.61 312.65,349.04 312.77,349.54 312.9,350.6 313.02,350.14 313.15,346.84 313.27,347.94 313.4,352.97 313.52,350.23 313.65,353.32 313.77,352.71 313.9,352.11 314.02,350.31 314.15,352.88 314.27,349.44 314.4,354.13 314.52,351.29 314.65,351.32 314.77,349.63 314.9,349.33 315.02,349.91 315.15,349.46 315.27,348.87 315.4,348.52 315.52,350.75 315.65,352.49 315.77,353.84 315.9,351.79 316.02,350.29 316.15,351.56 316.27,353.47 316.4,350.76 316.52,352.29 316.65,351.23 316.77,350.8 316.9,349.6 317.02,351.83 317.15,349.17 317.27,348.88 317.4,351.22 317.52,352.32 317.65,352.25 317.77,352.12 317.9,350.14 318.02,350.45 318.15,352.63 318.27,354.27 318.4,346.05 318.52,352.81 318.65,351.1 318.77,350.63 318.9,349.46 319.02,349.65 319.15,348.66 319.27,351.22 319.4,349.07 319.52,350.45 319.65,348.17 319.77,352.84 319.9,351.96 320.02,348.77 320.15,351.6 320.27,350.14 320.4,349.33 320.52,350.97 320.65,352.32 320.77,353.49 320.9,351.36 321.02,352.94 321.15,352.1 321.27,352.12 321.4,352.66 321.52,348.61 321.65,350.3 321.77,353.6 321.9,348.69 322.02,349.57 322.15,354.32 322.27,349.28 322.4,351.28 322.52,351.54 322.65,350.58 322.77,352.72 322.9,352.62 323.02,349.92 323.15,354.17 323.27,349.73 323.4,350.38 323.52,350.92 323.65,351.53 323.77,349.27 323.9,351.62 324.02,347.38 324.15,350.34 324.27,349.64 324.4,349.99 324.52,351.07 324.65,351.64 324.77,349.93 324.9,351.27 325.02,348.63 325.15,350.59 325.27,352.87 325.4,350.08 325.52,350.74 325.65,351.25 325.77,352.7 325.9,351.96 326.02,351.04 326.15,349.62 326.27,351.77 326.4,346.4 326.52,352.11 326.65,350.1 326.77,352.52 326.9,351.32 327.02,353.76 327.15,350.35 327.27,348.06 327.4,351.52 327.52,350.65 327.65,351.34 327.77,353.57 327.9,349.98 328.02,352.71 328.15,353.1 328.27,353.43 328.4,348.17 328.52,351.87 328.65,350.44 328.77,351.25 328.9,350.26 329.02,351.12 329.15,353.31 329.27,354.67 329.4,352.93 329.52,349.63 329.65,353.91 329.77,349.66 329.9,351.15 330.02,353.75 330.15,350.82 330.27,353.08 330.4,351.4 330.52,349.89 330.65,352.26 330.77,350.99 330.9,354.95 331.02,355.11 331.15,354.66 331.27,350.23 331.4,355.26 331.52,352.55 331.65,352.9 331.77,352.39 331.9,351.13 332.02,352.31 332.15,353.62 332.27,354.79 332.4,353.12 332.52,352.18 332.65,351.35 332.77,351.64 332.9,355 333.02,353.4 333.15,352.63 333.27,349.41 333.4,349.22 333.52,353.45 333.65,353.38 333.77,354.24" stroke="#ef3e42" stroke-width="1.3" fill="none" stroke-linejoin="round"/>
<path d="M28.65,475.47L28.78,473.91 28.9,471.98 29.03,473.42 29.15,470.86 29.28,475.63 29.4,475.95 29.53,477.59 29.65,471.73 29.78,472.48 29.9,476.18 30.03,475.65 30.15,471.38 30.28,473.74 30.4,475.21 30.53,474.31 30.65,475.7 30.78,475.07 30.9,473.98 31.03,475.7 31.15,474.85 31.28,477.12 31.4,472.33 31.53,474.55 31.65,473.73 31.78,474.52 31.9,475.7 32.03,476.14 32.15,471.02 32.28,477.07 32.4,475.93 32.53,475.9 32.65,475.06 32.78,476.67 32.9,475.68 33.03,471.62 33.15,473.69 33.28,474.44 33.4,474.23 33.53,474.07 33.65,476.01 33.78,472.83 33.9,473.5 34.03,473.05 34.15,474.82 34.28,475.68 34.4,473.2 34.53,475.57 34.65,473.85 34.78,477.44 34.9,470.72 35.03,474.81 35.15,476.94 35.28,474.15 35.4,472.79 35.53,473.22 35.65,475.84 35.78,473.81 35.9,476.76 36.03,474.9 36.15,473.78 36.28,474 36.4,475.68 36.53,476.68 36.65,473.31 36.78,472.61 36.9,472.63 37.03,475.67 37.15,478.16 37.28,473.83 37.4,476.03 37.53,474.05 37.65,476.5 37.78,472.04 37.9,475.88 38.03,472.36 38.15,473.2 38.28,475.38 38.4,474.32 38.53,474.63 38.65,475.73 38.78,475.12 38.9,477.5 39.03,476.14 39.15,473.16 39.28,474.6 39.4,473.71 39.53,473.98 39.65,478.02 39.78,473.28 39.9,477.08 40.03,477.5 40.15,479.77 40.28,474.73 40.4,475.19 40.53,475.26 40.65,474.03 40.78,477.99 40.9,478.33 41.03,470.44 41.15,474.09 41.28,476.89 41.4,472.76 41.53,473.38 41.65,474.72 41.78,474.63 41.9,474.31 42.03,474.38 42.15,478 42.28,470.32 42.4,473.68 42.53,472.49 42.65,475.05 42.78,473.78 42.9,475.49 43.03,474.61 43.15,478.88 43.28,472.14 43.4,473.68 43.53,476.21 43.65,473.86 43.78,474.85 43.9,471.7 44.03,475.88 44.15,474.31 44.28,475.59 44.4,472.82 44.53,473.5 44.65,472.91 44.78,477.61 44.9,471.23 45.03,475.29 45.15,474.97 45.28,476.86 45.4,475 45.53,472.54 45.65,475.42 45.78,471.23 45.9,476.43 46.03,474.24 46.15,473.05 46.28,473.5 46.4,475.52 46.53,471.29 46.65,477.61 46.78,473.09 46.9,477.25 47.03,474.72 47.15,477.99 47.28,472.11 47.4,476.03 47.53,474.27 47.65,473.19 47.78,475.95 47.9,473.92 48.03,472.98 48.15,473.95 48.28,472.89 48.4,473.93 48.53,474.26 48.65,476.36 48.78,474.15 48.9,472.87 49.03,475.74 49.15,473.62 49.28,472.48 49.4,472.03 49.53,477.6 49.65,474.08 49.78,477.31 49.9,472.43 50.03,472.27 50.15,477.49 50.28,473.77 50.4,473.89 50.53,473.82 50.65,472.3 50.78,476.15 50.9,471.95 51.03,475.65 51.15,472.2 51.28,479.13 51.4,475.56 51.53,476.29 51.65,471.01 51.78,474.85 51.9,473 52.03,472.54 52.15,472.59 52.28,475.73 52.4,474.25 52.53,473.23 52.65,473.02 52.78,472.94 52.9,473.13 53.03,473.62 53.15,471.98 53.28,472.42 53.4,469.95 53.53,474.06 53.65,475.2 53.78,473.18 53.9,476.71 54.03,472.67 54.15,474.16 54.28,476.27 54.4,474.55 54.53,472.6 54.65,474.76 54.78,473.33 54.9,476.17 55.03,475.52 55.15,473.66 55.28,475.06 55.4,477.32 55.53,476.18 55.65,475.68 55.78,473.71 55.9,472.95 56.03,472.64 56.15,475.97 56.28,472.02 56.4,474.8 56.53,477.03 56.65,471.05 56.78,474.69 56.9,472.16 57.03,473.78 57.15,474.98 57.28,472.16 57.4,471.53 57.53,473.24 57.65,474.39 57.78,473.25 57.9,472.19 58.03,475.26 58.15,471.87 58.28,471.27 58.4,474.16 58.53,477.99 58.65,473.01 58.78,473.78 58.9,472.03 59.03,472.8 59.15,471.82 59.28,474.45 59.4,472.65 59.53,472.44 59.65,475.66 59.78,471.19 59.9,475.64 60.03,473.56 60.15,472.17 60.28,473.83 60.4,473.35 60.53,474.45 60.65,473.44 60.78,477.36 60.9,475.8 61.03,475.92 61.15,471.55 61.28,473.15 61.4,476.02 61.53,474.9 61.65,473.81 61.78,473.61 61.9,475.71 62.03,470.18 62.15,472.12 62.28,471.14 62.4,475.87 62.53,471.12 62.65,473.19 62.78,476.22 62.9,473.12 63.03,474.21 63.15,473.72 63.28,474.93 63.4,477.77 63.53,471.44 63.65,473.53 63.78,476.72 63.9,478.05 64.03,473.19 64.15,476.18 64.28,474.83 64.4,474.75 64.53,470.9 64.65,470.5 64.78,473.79 64.9,473.29 65.03,473.33 65.15,471.29 65.28,476.2 65.4,473.14 65.53,478.56 65.65,473.03 65.78,474.15 65.9,474.86 66.03,472.78 66.15,471.54 66.28,472.35 66.4,473.43 66.53,472.45 66.65,477.11 66.78,472.4 66.9,474.81 67.03,474.88 67.15,473.7 67.28,471.33 67.4,474.29 67.53,475.09 67.65,473.63 67.78,473.34 67.9,469.24 68.03,471.23 68.15,472.92 68.28,473.61 68.4,474.65 68.53,472.66 68.65,473.55 68.78,471.29 68.9,474.38 69.03,474.54 69.15,472.97 69.28,474.98 69.4,472.6 69.53,472.23 69.65,472.59 69.78,476.85 69.9,470.09 70.03,473.47 70.15,472.44 70.28,473.29 70.4,470.31 70.53,474.44 70.65,474.28 70.78,472.55 70.9,472.23 71.03,473.14 71.15,474.8 71.28,470.15 71.4,475.62 71.53,472.4 71.65,474.54 71.78,471.42 71.9,476.63 72.03,473.46 72.15,476.27 72.28,471.81 72.4,471.74 72.53,475.05 72.65,474.26 72.78,473.57 72.9,475.23 73.03,473.71 73.15,472.27 73.28,469.36 73.4,468.61 73.53,474.09 73.65,473.93 73.78,471.17 73.9,473.86 74.03,472.45 74.15,472.9 74.28,474.63 74.4,469.87 74.53,473.47 74.65,473.77 74.78,472.43 74.9,473.08 75.03,470.63 75.15,473.04 75.28,473.92 75.4,474.18 75.53,471.42 75.65,474.21 75.78,473.27 75.9,473.93 76.03,472.6 76.15,473.84 76.28,473.02 76.4,477.18 76.53,472.06 76.65,474.73 76.78,472.56 76.9,469.8 77.03,473.46 77.15,474.84 77.28,473.96 77.4,474 77.53,471.01 77.65,473.08 77.78,469.92 77.9,475.81 78.03,475.37 78.15,470.53 78.28,471.73 78.4,470.14 78.53,471.03 78.65,471.59 78.78,470.21 78.9,471.53 79.03,473.57 79.15,471.84 79.28,473.7 79.4,472.03 79.53,472.52 79.65,469.96 79.78,474.04 79.9,470.17 80.03,471.61 80.15,469.87 80.28,473.2 80.4,470.29 80.53,473.3 80.65,475.84 80.78,472.86 80.9,468 81.03,474.05 81.15,472.52 81.28,473.33 81.4,472.94 81.53,474.34 81.65,474.06 81.78,472.04 81.9,469.81 82.03,471.97 82.15,473.56 82.28,468.62 82.4,472.38 82.53,468.71 82.65,474.17 82.78,475.54 82.9,473.71 83.03,471.26 83.15,473.52 83.28,474.54 83.4,475.16 83.53,474.68 83.65,474.06 83.78,470.15 83.9,471.8 84.03,472.86 84.15,472.05 84.28,468.29 84.4,471.62 84.53,470.59 84.65,472.3 84.78,472.54 84.9,469.19 85.03,470.45 85.15,472.16 85.28,469.88 85.4,471.77 85.53,470.24 85.65,470.47 85.78,473.43 85.9,471.53 86.03,470.72 86.15,474.62 86.28,471.14 86.4,471.66 86.53,471.74 86.65,477.37 86.78,472.87 86.9,473.29 87.03,470.97 87.15,473.23 87.28,473.75 87.4,469.43 87.53,472.43 87.65,474.69 87.78,475.01 87.9,472.05 88.03,475.9 88.15,470.3 88.28,473.53 88.4,472.56 88.53,469.58 88.65,473.43 88.78,469.14 88.9,470.3 89.03,471.33 89.15,469.25 89.28,473.69 89.4,470.63 89.53,469.14 89.65,471.94 89.78,471.43 89.9,469.39 90.03,470.4 90.15,473.08 90.28,472.94 90.4,468.43 90.53,473.2 90.65,473.2 90.78,473.52 90.9,470.46 91.03,469.9 91.15,471.15 91.28,470.1 91.4,470.84 91.53,470.18 91.65,470.76 91.78,470.35 91.9,471.33 92.03,471.56 92.15,470.76 92.28,470.21 92.4,474.22 92.53,472.95 92.65,472.11 92.78,469.54 92.9,472.35 93.03,470.86 93.15,472.26 93.28,471.56 93.4,475.84 93.53,471.14 93.65,469.2 93.78,473.1 93.9,473.22 94.03,473.56 94.15,466.14 94.28,469.26 94.4,469.47 94.53,467.9 94.65,471.19 94.78,472.17 94.9,472.94 95.03,472.61 95.15,470.93 95.28,473.78 95.4,471.32 95.53,465.57 95.65,470.21 95.78,469.37 95.9,471.4 96.03,469.95 96.15,470.12 96.28,473.29 96.4,469.26 96.53,468.09 96.65,471.11 96.78,471.84 96.9,470.39 97.03,470.58 97.15,469.47 97.28,468.07 97.4,469.11 97.53,468.52 97.65,472.81 97.78,470.01 97.9,473.12 98.03,470.2 98.15,468.73 98.28,470.78 98.4,470.79 98.53,472.9 98.65,466.57 98.78,469.58 98.9,471.12 99.03,468.93 99.15,470.56 99.28,469.77 99.4,473 99.53,472.66 99.65,466.41 99.78,467.37 99.9,468.76 100.03,470.12 100.15,469.96 100.28,469.3 100.4,471.41 100.53,471.92 100.65,470.47 100.78,469.74 100.9,470.37 101.03,468.75 101.15,471.87 101.28,471.89 101.4,468.59 101.53,473.07 101.65,470.25 101.78,471.9 101.9,470.35 102.03,470.02 102.15,471.71 102.28,468.54 102.4,469.92 102.53,468.14 102.65,471.32 102.78,469.96 102.9,469.8 103.03,469.41 103.15,471.62 103.28,470.92 103.4,470.01 103.53,469.55 103.65,473.78 103.78,473.26 103.9,468.33 104.03,472.72 104.15,471.44 104.28,471.04 104.4,471.27 104.53,467.91 104.65,475.11 104.78,474.34 104.9,470.57 105.03,470.51 105.15,470.74 105.28,469.16 105.4,471.4 105.53,470.28 105.65,468.29 105.78,469.34 105.9,469.01 106.03,469.05 106.15,469.51 106.28,471.28 106.4,469.28 106.53,466.99 106.65,472.69 106.78,468.86 106.9,472.63 107.03,470.34 107.15,470.88 107.28,468.23 107.4,469.96 107.53,469.03 107.65,469.6 107.78,470.56 107.9,468.91 108.03,471.16 108.15,466.91 108.28,467.51 108.4,470.3 108.53,470.44 108.65,471.43 108.78,472.42 108.9,470.2 109.03,470.74 109.15,469.77 109.28,469.55 109.4,469.05 109.53,469.41 109.65,468.11 109.78,468.84 109.9,470.58 110.03,469.98 110.15,471.16 110.28,468.09 110.4,468.27 110.53,469.7 110.65,467.26 110.78,467.14 110.9,469.93 111.03,468.16 111.15,470.29 111.28,468.8 111.4,467.77 111.53,466.59 111.65,470.73 111.78,468.3 111.9,466.75 112.03,465.57 112.15,466.01 112.28,467.54 112.4,470.56 112.53,466.5 112.65,468.72 112.78,468.54 112.9,461.89 113.03,465.67 113.15,469.51 113.28,464.13 113.4,470.02 113.53,467.89 113.65,464.69 113.78,471.27 113.9,467.51 114.03,470.66 114.15,468.05 114.28,466.22 114.4,469.68 114.53,470.89 114.65,469.89 114.78,465.23 114.9,468.58 115.03,465.17 115.15,466.2 115.28,469.8 115.4,464.56 115.53,471.86 115.65,464.24 115.78,464.65 115.9,468.45 116.03,466.6 116.15,466.66 116.28,465.13 116.4,468.21 116.53,467.2 116.65,466.56 116.78,465.14 116.9,463.79 117.03,466.53 117.15,462.39 117.28,465.2 117.4,467.55 117.53,467.59 117.65,465.47 117.78,461.32 117.9,467.14 118.03,467.7 118.15,466.07 118.28,468.3 118.4,467.76 118.53,462.59 118.65,465.25 118.78,464.71 118.9,468.53 119.03,467.55 119.15,465.68 119.28,466.48 119.4,467.01 119.53,463.95 119.65,464.88 119.78,464.96 119.9,464.27 120.03,464.37 120.15,465.34 120.28,462.37 120.4,462.55 120.53,466.1 120.65,467.4 120.78,467.94 120.9,460.98 121.03,464.89 121.15,462.47 121.28,462.9 121.4,463.36 121.53,464.39 121.65,464.54 121.78,458.76 121.9,462.02 122.03,465.02 122.15,463.02 122.28,459.54 122.4,460.52 122.53,460.64 122.65,463.82 122.78,464.98 122.9,459.34 123.03,462.1 123.15,460.31 123.28,461.62 123.4,459.78 123.53,457.76 123.65,458.29 123.78,457.9 123.9,461.48 124.03,456.89 124.15,458.91 124.28,455.8 124.4,455.64 124.53,456.8 124.65,454.75 124.78,458.96 124.9,457.14 125.03,451.9 125.15,454.35 125.28,455.55 125.4,449.73 125.53,450.52 125.65,453.33 125.78,448.23 125.9,450.21 126.03,448.1 126.15,447.82 126.28,444.77 126.4,445.85 126.53,444.46 126.65,447.92 126.78,445.2 126.9,443.64 127.03,442.91 127.15,443.84 127.28,439.22 127.4,440.13 127.53,440.18 127.65,440.41 127.78,438.92 127.9,443.21 128.03,441.66 128.15,445.32 128.28,443.22 128.4,443.31 128.53,445.47 128.65,446.14 128.78,445.51 128.9,447.9 129.03,449.95 129.15,447.53 129.28,451.61 129.4,449.6 129.53,452.38 129.65,451.43 129.78,451.54 129.9,453.56 130.03,451.59 130.15,451.37 130.28,454.96 130.4,455.2 130.53,454.15 130.65,460.82 130.78,458.15 130.9,456.55 131.03,459.37 131.15,459.9 131.28,458.6 131.4,459.3 131.53,456.67 131.65,460.97 131.78,464.46 131.9,463.42 132.03,463.55 132.15,460.81 132.28,460.19 132.4,464.16 132.53,463.33 132.65,462.65 132.78,462.68 132.9,465.27 133.03,464.91 133.15,463.06 133.28,463.93 133.4,461.21 133.53,462.32 133.65,465.77 133.78,464.01 133.9,463.41 134.03,465.7 134.15,467.71 134.28,463.9 134.4,465.01 134.53,465.22 134.65,470.36 134.78,467.78 134.9,466.43 135.03,463.33 135.15,467.49 135.28,467.19 135.4,465.81 135.53,464.82 135.65,465.43 135.78,463.22 135.9,465.63 136.03,465.54 136.15,464.73 136.28,465.86 136.4,463.54 136.53,468.64 136.65,466.24 136.78,464.35 136.9,468.03 137.03,467.65 137.15,465.69 137.28,464.17 137.4,466.53 137.53,467.53 137.65,467.87 137.78,468.4 137.9,468.28 138.03,463.93 138.15,466.92 138.28,463.2 138.4,468.5 138.53,467.45 138.65,468.47 138.78,466.76 138.9,466.68 139.03,465.67 139.15,461.49 139.28,466.3 139.4,471.47 139.53,469.06 139.65,466.24 139.78,467.26 139.9,467.47 140.03,465.55 140.15,466.62 140.28,467.25 140.4,465.67 140.53,467.44 140.65,468.87 140.78,468.11 140.9,467.06 141.03,466.22 141.15,467.88 141.28,465.55 141.4,465.37 141.53,468.94 141.65,465.89 141.78,464.06 141.9,468.18 142.03,467.94 142.15,468.7 142.28,466.43 142.4,468.76 142.53,466.39 142.65,464.76 142.78,466.31 142.9,467.12 143.03,464.63 143.15,466.32 143.28,467.13 143.4,465.88 143.53,466.82 143.65,466.62 143.78,465.18 143.9,467.3 144.03,467.75 144.15,462.96 144.28,465.43 144.4,468.2 144.53,467.52 144.65,463.17 144.78,467.12 144.9,469.28 145.03,468.31 145.15,468.11 145.28,466.49 145.4,466.84 145.53,464.56 145.65,466.72 145.78,470.95 145.9,466.64 146.03,464.97 146.15,467.64 146.28,462.89 146.4,470.87 146.53,467.8 146.65,466.15 146.78,465.96 146.9,464.94 147.03,466.83 147.15,466.68 147.28,463.72 147.4,468.43 147.53,465.91 147.65,464.54 147.78,468.29 147.9,467.92 148.03,465.46 148.15,465.3 148.28,468.52 148.4,465.74 148.53,466.83 148.65,468.98 148.78,464.18 148.9,463.61 149.03,464.81 149.15,465.29 149.28,466.39 149.4,468.13 149.53,465.5 149.65,469.41 149.78,466.65 149.9,462.55 150.03,466.13 150.15,467.49 150.28,468.16 150.4,464.75 150.53,465.82 150.65,470.09 150.78,466.18 150.9,464.14 151.03,462.96 151.15,464.91 151.28,466.33 151.4,463.54 151.53,468.03 151.65,464.05 151.78,461.84 151.9,466.49 152.03,465.28 152.15,464.7 152.28,467.41 152.4,463.84 152.53,466.17 152.65,463.78 152.78,467.7 152.9,464.57 153.03,464.5 153.15,465.44 153.28,464.07 153.4,464.94 153.53,463.53 153.65,464.98 153.78,463.8 153.9,462.53 154.03,464.42 154.15,464.07 154.28,461.05 154.4,462.27 154.53,459.52 154.65,462.61 154.78,463.75 154.9,466.48 155.03,462.32 155.15,463.48 155.28,464.02 155.4,462.36 155.53,457.27 155.65,459.52 155.78,460.65 155.9,460.18 156.03,459.42 156.15,457.06 156.28,454.75 156.4,458.32 156.53,459.14 156.65,455.42 156.78,456.55 156.9,453.68 157.03,453.43 157.15,451.55 157.28,452.93 157.4,448.35 157.53,448.77 157.65,448.43 157.78,444.74 157.9,440.25 158.03,440.65 158.15,436.66 158.28,431.25 158.4,429.43 158.53,424.82 158.65,421.5 158.78,413.86 158.9,408.68 159.03,402.83 159.15,391.07 159.28,389.19 159.4,380.67 159.53,373.11 159.65,371.19 159.78,371.08 159.9,368.63 160.03,371.96 160.15,380.5 160.28,387.19 160.4,394.94 160.53,398.48 160.65,403.51 160.78,409.83 160.9,416.72 161.03,420.57 161.15,427.65 161.28,433.05 161.4,432.11 161.53,439.67 161.65,437.77 161.78,440.28 161.9,440.85 162.03,446.29 162.15,446.14 162.28,447.5 162.4,443.14 162.53,448.25 162.65,450.67 162.78,445.74 162.9,455.02 163.03,452.58 163.15,454.53 163.28,452.47 163.4,455.2 163.53,456.36 163.65,459.21 163.78,453.07 163.9,459.3 164.03,453.99 164.15,456.78 164.28,456.29 164.4,457.21 164.53,454.5 164.65,458.05 164.78,456.9 164.9,459.27 165.03,460.64 165.15,460.78 165.28,460.97 165.4,464.2 165.53,462.71 165.65,463.63 165.78,465.41 165.9,463.22 166.03,463.89 166.15,465.27 166.28,463.86 166.4,466.94 166.53,463.74 166.65,464.76 166.78,465.11 166.9,464.98 167.03,465.72 167.15,465.03 167.28,461.65 167.4,468.27 167.53,465.45 167.65,467.7 167.78,464.45 167.9,467.58 168.03,464.18 168.15,469.3 168.28,466.43 168.4,465.91 168.53,461.5 168.65,462.62 168.78,465.91 168.9,465.69 169.03,465.74 169.15,465.96 169.28,468.71 169.4,466.22 169.53,466.24 169.65,465.63 169.78,465.06 169.9,467.74 170.03,466.29 170.15,466.4 170.28,467.66 170.4,467.25 170.53,468.61 170.65,468.55 170.78,464.82 170.9,465.77 171.03,469.01 171.15,466.55 171.28,468.43 171.4,465.66 171.53,462.82 171.65,463.27 171.78,466.05 171.9,466.55 172.03,471.7 172.15,468.76 172.28,468.69 172.4,469.11 172.53,464.48 172.65,467.56 172.78,467.27 172.9,471.11 173.03,466.21 173.15,464.82 173.28,467.67 173.4,467.2 173.53,467.75 173.65,468.02 173.78,467.9 173.9,466.45 174.03,466.82 174.15,471.92 174.28,466.52 174.4,468.62 174.53,465.85 174.65,464.55 174.78,469.4 174.9,468.12 175.03,470.23 175.15,469.76 175.28,468.3 175.4,466.48 175.53,471.45 175.65,468.05 175.78,471.9 175.9,469.28 176.03,469.7 176.15,469.18 176.28,468.92 176.4,467.71 176.53,472.42 176.65,466.49 176.78,465.35 176.9,468.7 177.03,466.96 177.15,469.97 177.28,467.85 177.4,470.36 177.53,468.38 177.65,466.77 177.78,467.61 177.9,469.5 178.03,467.08 178.15,466.68 178.28,467.88 178.4,468.8 178.53,470.49 178.65,469.01 178.78,469.81 178.9,467.89 179.03,471.63 179.15,472.26 179.28,467.05 179.4,468.7 179.53,468.03 179.65,468.85 179.78,467.7 179.9,466.98 180.03,465.89 180.15,467.36 180.28,468.34 180.4,470.23 180.53,469.39 180.65,467.61 180.78,467.18 180.9,465.65 181.03,469.68 181.15,468.61 181.28,469.57 181.4,469.86 181.53,469.5 181.65,468.33 181.78,468 181.9,466.71 182.03,467.39 182.15,469.36 182.28,472.73 182.4,467.86 182.53,469.05 182.65,474.5 182.78,468.83 182.9,468.04 183.03,468.7 183.15,468.24 183.28,465.15 183.4,470.24 183.53,465.45 183.65,467.68 183.78,467.93 183.9,469.55 184.03,468.33 184.15,467.86 184.28,467.15 184.4,469.18 184.53,468.12 184.65,467.42 184.78,466.29 184.9,467.17 185.03,469.03 185.15,465.89 185.28,469.03 185.4,468.95 185.53,470.91 185.65,467.55 185.78,467.03 185.9,468.64 186.03,468.13 186.15,464.06 186.28,471.05 186.4,469.31 186.53,469.14 186.65,467.42 186.78,469.59 186.9,468.41 187.03,471.88 187.15,470.26 187.28,471.62 187.4,466.77 187.53,467.43 187.65,468.29 187.78,467.94 187.9,472.04 188.03,469.78 188.15,467.17 188.28,468.66 188.4,472.54 188.53,468.63 188.65,470.34 188.78,466.08 188.9,468.22 189.03,468.98 189.15,468.82 189.28,469.31 189.4,469.97 189.53,471.45 189.65,466.16 189.78,469.49 189.9,470.7 190.03,469.84 190.15,471.54 190.28,469.22 190.4,468.68 190.53,467.98 190.65,471.18 190.78,467.17 190.9,468.75 191.03,469.48 191.15,470.71 191.28,469.06 191.4,467.88 191.53,470.69 191.65,467.54 191.78,468.31 191.9,465.98 192.03,469.99 192.15,469.94 192.28,466.49 192.4,469.29 192.53,470.74 192.65,468.5 192.78,466.68 192.9,469.58 193.03,470.89 193.15,466.37 193.28,471.37 193.4,469.7 193.53,471.53 193.65,467.95 193.78,471.59 193.9,470.48 194.03,471.35 194.15,470.06 194.28,471.75 194.4,469.66 194.53,469.19 194.65,468.11 194.78,467.16 194.9,470.18 195.03,469.44 195.15,469.89 195.28,469.58 195.4,470.75 195.53,470.22 195.65,469.06 195.78,471.54 195.9,474.04 196.03,468.57 196.15,469.39 196.28,471.21 196.4,468.88 196.53,472.1 196.65,468.99 196.78,468.05 196.9,468.54 197.03,472.22 197.15,466.59 197.28,470.54 197.4,466.39 197.53,471.7 197.65,471.1 197.78,471.6 197.9,474.34 198.03,470.32 198.15,472.61 198.28,471.6 198.4,472.46 198.53,469.19 198.65,472.65 198.78,470.04 198.9,473.37 199.03,472.41 199.15,470.83 199.28,471.83 199.4,471.75 199.53,471.21 199.65,475.73 199.78,469.3 199.9,468.33 200.03,468.42 200.15,470.42 200.28,470.8 200.4,472.16 200.53,472.74 200.65,471.39 200.78,471.23 200.9,469.25 201.03,472.83 201.15,473.53 201.28,470.8 201.4,472.35 201.53,469.87 201.65,471.01 201.78,471.25 201.9,472.66 202.03,468.4 202.15,471.2 202.28,472.74 202.4,471.73 202.53,472.33 202.65,466.5 202.78,469.51 202.9,470.31 203.03,469.69 203.15,466.76 203.28,473.04 203.4,471.54 203.53,467.49 203.65,470.17 203.78,471.13 203.9,472.84 204.03,472.3 204.15,469.2 204.28,469.86 204.4,471.49 204.53,472.9 204.65,470.26 204.78,469.91 204.9,472.15 205.03,471.35 205.15,473.62 205.28,471.99 205.4,472.95 205.53,467.47 205.65,468.59 205.78,468.27 205.9,469.83 206.03,471.75 206.15,470.59 206.28,472.04 206.4,469.7 206.53,472.92 206.65,472.69 206.78,467.9 206.9,469.13 207.03,469.96 207.15,472.64 207.28,472.57 207.4,474.46 207.53,468.32 207.65,471.53 207.78,471.1 207.9,470.61 208.03,470.88 208.15,467.28 208.28,471.68 208.4,470.36 208.53,468.8 208.65,473.78 208.78,469.86 208.9,471.6 209.03,469.88 209.15,468.28 209.28,470.32 209.4,471.77 209.53,469.32 209.65,472.14 209.78,474.4 209.9,473.45 210.03,470.66 210.15,469.78 210.28,472.99 210.4,468.68 210.53,469.36 210.65,474.55 210.78,472.06 210.9,472.28 211.03,470.84 211.15,476.72 211.28,477.3 211.4,471.18 211.53,473.03 211.65,470.96 211.78,472.38 211.9,474.05 212.03,473.96 212.15,471.12 212.28,472.35 212.4,476.94 212.53,473.44 212.65,474.34 212.78,472.74 212.9,471.48 213.03,469.62 213.15,469.85 213.28,468.55 213.4,469.65 213.53,470.05 213.65,473.09 213.78,468.58 213.9,472.51 214.03,468.02 214.15,476.65 214.28,470.65 214.4,472.04 214.53,475.08 214.65,471.4 214.78,471.96 214.9,472.06 215.03,472.85 215.15,470.86 215.28,475.12 215.4,473.98 215.53,472.1 215.65,474.15 215.78,471.65 215.9,470.86 216.03,471.66 216.15,472.76 216.28,468.96 216.4,471.27 216.53,472.74 216.65,469.81 216.78,472.53 216.9,469.81 217.03,472.29 217.15,471.78 217.28,472.57 217.4,470.54 217.53,468.19 217.65,467.01 217.78,479 217.9,469.15 218.03,470.29 218.15,468.8 218.28,474.58 218.4,473.32 218.53,473.58 218.65,469.8 218.78,473.91 218.9,470.53 219.03,474.34 219.15,471.83 219.28,467.62 219.4,471.8 219.53,470.34 219.65,476.62 219.78,469.49 219.9,471.45 220.03,471.48 220.15,470.42 220.28,470.63 220.4,471.92 220.53,472.7 220.65,471.22 220.78,471.53 220.9,472.05 221.03,470.24 221.15,471.6 221.28,472.11 221.4,474.01 221.53,473.34 221.65,472.99 221.78,473.79 221.9,470.56 222.03,474.19 222.15,471.33 222.28,471.76 222.4,471.25 222.53,473.28 222.65,470.8 222.78,473.13 222.9,471.35 223.03,471.06 223.15,472.76 223.28,470.38 223.4,474.26 223.53,470.64 223.65,471.08 223.78,474.25 223.9,469.18 224.03,473.68 224.15,472.1 224.28,472.14 224.4,472.34 224.53,470.24 224.65,475.08 224.78,472.98 224.9,473.2 225.03,473.49 225.15,473.79 225.28,472.54 225.4,470.17 225.53,469.51 225.65,469.38 225.78,471.08 225.9,473.82 226.03,469.47 226.15,471.26 226.28,473.04 226.4,471.27 226.53,471.41 226.65,469.88 226.78,472.21 226.9,470.79 227.03,470.57 227.15,471.12 227.28,472.58 227.4,473.71 227.53,469.7 227.65,472.8 227.78,469.79 227.9,468.36 228.03,470.62 228.15,471.98 228.28,471.77 228.4,472.57 228.53,468.07 228.65,474.49 228.78,473.42 228.9,473.13 229.03,468.88 229.15,472.74 229.28,470.94 229.4,470.97 229.53,471.91 229.65,468.89 229.78,473.93 229.9,473.81 230.03,473.41 230.15,474.54 230.28,468.73 230.4,471.35 230.53,471.28 230.65,469.58 230.78,473.45 230.9,476.71 231.03,469.96 231.15,473.01 231.28,472.08 231.4,472.23 231.53,472.14 231.65,473.23 231.78,470.78 231.9,471.2 232.03,475.05 232.15,471.98 232.28,471.95 232.4,468.68 232.53,472.84 232.65,473.1 232.78,472.46 232.9,474.89 233.03,468.25 233.15,473.61 233.28,468.9 233.4,469.97 233.53,468.21 233.65,473.45 233.78,471.67 233.9,471.08 234.03,471.95 234.15,467.96 234.28,470.72 234.4,472.23 234.53,470.74 234.65,471.73 234.78,468.89 234.9,472.15 235.03,471.26 235.15,472.23 235.28,474.73 235.4,471.96 235.53,470.69 235.65,472.53 235.78,469.73 235.9,474.85 236.03,471.8 236.15,471.82 236.28,472.71 236.4,469.44 236.53,471.74 236.65,471.34 236.78,475.76 236.9,474.44 237.03,475.16 237.15,471.84 237.28,472.04 237.4,473.72 237.53,470.48 237.65,470.04 237.78,474.66 237.9,472.64 238.03,472.63 238.15,468.56 238.28,470.95 238.4,470.87 238.53,470.43 238.65,472.34 238.78,470.02 238.9,469.55 239.03,475.37 239.15,472.64 239.28,469.83 239.4,475.71 239.53,472.82 239.65,472.44 239.78,466.76 239.9,474.58 240.03,472.14 240.15,474.14 240.28,475.05 240.4,469.47 240.53,475.36 240.65,473.45 240.78,472.12 240.9,467.65 241.03,475.59 241.15,472.54 241.28,473.09 241.4,469.74 241.53,473.08 241.65,473.02 241.78,474.74 241.9,470.23 242.03,467.9 242.15,470.8 242.28,470.09 242.4,472.44 242.53,471.63 242.65,472.32 242.78,474.3 242.9,475.08 243.03,472.04 243.15,468.98 243.28,471.9 243.4,471.53 243.53,471.75 243.65,471.62 243.78,471.83 243.9,467.79 244.03,472.88 244.15,472.79 244.28,472.47 244.4,471.62 244.53,473.49 244.65,468.69 244.78,471.61 244.9,472.88 245.03,470.96 245.15,471.66 245.28,473.66 245.4,471.46 245.53,470.15 245.65,470.89 245.78,472.45 245.9,469.84 246.03,471.79 246.15,471.02 246.28,471.87 246.4,473.16 246.53,473.12 246.65,471.89 246.78,472.17 246.9,473.19 247.03,470.3 247.15,472.01 247.28,469.6 247.4,473.98 247.53,471.88 247.65,469.32 247.78,470.79 247.9,473.04 248.03,472.17 248.15,468.61 248.28,474.85 248.4,472.04 248.53,472.31 248.65,471.04 248.78,470.11 248.9,468.83 249.03,471.86 249.15,471.53 249.28,471.09 249.4,472.93 249.53,472.13 249.65,469.65 249.78,470.77 249.9,473.56 250.03,468.97 250.15,475.39 250.28,470.47 250.4,476.18 250.53,472.28 250.65,468.53 250.78,472.28 250.9,471.6 251.03,470.65 251.15,471.52 251.28,471.51 251.4,465.43 251.53,472.73 251.65,470.84 251.78,471.4 251.9,472.65 252.03,471.32 252.15,469.08 252.28,472.81 252.4,470.71 252.53,471.72 252.65,469.96 252.78,470.98 252.9,469.44 253.03,474.13 253.15,469.29 253.28,472.99 253.4,467.77 253.53,471.66 253.65,470.66 253.78,472.98 253.9,471.59 254.03,475.32 254.15,476.53 254.28,470.13 254.4,472.39 254.53,469.37 254.65,469.32 254.78,470.98 254.9,472.71 255.03,472.27 255.15,470.72 255.28,473.11 255.4,468.88 255.53,469.37 255.65,470.88 255.78,467.67 255.9,473.47 256.02,470.74 256.15,470.37 256.27,471.78 256.4,468.49 256.52,470.74 256.65,467.81 256.77,470.63 256.9,471.15 257.02,473.85 257.15,470.92 257.27,473.38 257.4,470.86 257.52,467.88 257.65,472.24 257.77,470.97 257.9,469.76 258.02,472.52 258.15,468.85 258.27,470.07 258.4,472.07 258.52,472.31 258.65,469.53 258.77,471.28 258.9,470.86 259.02,471.84 259.15,470.26 259.27,466.77 259.4,469.97 259.52,473.43 259.65,469.08 259.77,470.24 259.9,472.13 260.02,470.16 260.15,468.57 260.27,470.49 260.4,470.16 260.52,468.9 260.65,470.19 260.77,467.91 260.9,467.56 261.02,468.34 261.15,470.06 261.27,470.39 261.4,469.26 261.52,472.35 261.65,471.43 261.77,470.4 261.9,472.39 262.02,473.02 262.15,471.57 262.27,469.21 262.4,471.79 262.52,472.4 262.65,470.97 262.77,469.98 262.9,470.67 263.02,470.77 263.15,466.75 263.27,473.02 263.4,470.18 263.52,473.73 263.65,470.18 263.77,468.55 263.9,471.54 264.02,470.15 264.15,471.61 264.27,469.15 264.4,469.09 264.52,468.65 264.65,468.62 264.77,470.64 264.9,467.51 265.02,470.15 265.15,471.8 265.27,468 265.4,469.33 265.52,468.28 265.65,468.98 265.77,469.93 265.9,470.92 266.02,471.25 266.15,468.37 266.27,470.82 266.4,468.41 266.52,467.4 266.65,467.72 266.77,465.89 266.9,469.52 267.02,466.03 267.15,469.76 267.27,474.25 267.4,467.64 267.52,465.47 267.65,469.99 267.77,467.36 267.9,469.19 268.02,469.23 268.15,469.64 268.27,473.43 268.4,469.77 268.52,469.66 268.65,468.99 268.77,467.8 268.9,467.97 269.02,467.16 269.15,470.69 269.27,468.79 269.4,470.3 269.52,469.65 269.65,473.15 269.77,468.84 269.9,470.14 270.02,467.86 270.15,471.1 270.27,468.59 270.4,469.01 270.52,466.4 270.65,469.94 270.77,471.97 270.9,471.38 271.02,466.85 271.15,470.48 271.27,467.51 271.4,465.75 271.52,466.46 271.65,471.06 271.77,468.14 271.9,466.45 272.02,469.32 272.15,469.25 272.27,468.06 272.4,469.55 272.52,467.95 272.65,470.93 272.77,470.07 272.9,468.52 273.02,469.3 273.15,470.3 273.27,468.44 273.4,469.6 273.52,468.4 273.65,468.01 273.77,465.07 273.9,466.28 274.02,466.7 274.15,468.65 274.27,473.4 274.4,466.77 274.52,467.68 274.65,466.11 274.77,467.75 274.9,468.03 275.02,469.72 275.15,465.85 275.27,469.34 275.4,468.85 275.52,467.82 275.65,466.06 275.77,466.38 275.9,467.94 276.02,469.36 276.15,468.09 276.27,466.85 276.4,468.76 276.52,466.27 276.65,469.65 276.77,473.61 276.9,467.07 277.02,470.04 277.15,466.28 277.27,468.22 277.4,469.02 277.52,470.25 277.65,468.04 277.77,470.47 277.9,465.58 278.02,467.51 278.15,467.86 278.27,468.01 278.4,467.57 278.52,471.22 278.65,467.03 278.77,469.59 278.9,468.47 279.02,471.46 279.15,467.19 279.27,468.9 279.4,468.59 279.52,461.48 279.65,468.19 279.77,469.32 279.9,470.19 280.02,465.31 280.15,466.87 280.27,469.47 280.4,465.04 280.52,465.57 280.65,468.12 280.77,468.24 280.9,469.39 281.02,468.93 281.15,467.16 281.27,464.75 281.4,465.43 281.52,466.56 281.65,467.2 281.77,466.53 281.9,467.85 282.02,464.88 282.15,465.42 282.27,463.73 282.4,469.82 282.52,465.7 282.65,467.75 282.77,468.22 282.9,466.45 283.02,465.37 283.15,464.7 283.27,465.07 283.4,462.25 283.52,464.4 283.65,466.74 283.77,465.78 283.9,466.71 284.02,466.58 284.15,466.33 284.27,465.14 284.4,465.21 284.52,466.49 284.65,464.01 284.77,462.08 284.9,466.09 285.02,464.51 285.15,466.38 285.27,463.07 285.4,461.11 285.52,463.8 285.65,462.84 285.77,462.16 285.9,466.75 286.02,464.32 286.15,461.52 286.27,460.64 286.4,463.35 286.52,464.55 286.65,463.89 286.77,465.46 286.9,463.8 287.02,463.99 287.15,459.47 287.27,465.3 287.4,461.79 287.52,464.45 287.65,459.71 287.77,460.81 287.9,464.58 288.02,459.95 288.15,462.44 288.27,461.27 288.4,465.1 288.52,462.43 288.65,463.97 288.77,461.34 288.9,458.07 289.02,464.84 289.15,459.8 289.27,460.77 289.4,460.4 289.52,457.33 289.65,461.37 289.77,459.1 289.9,456.3 290.02,456.57 290.15,454.86 290.27,457.4 290.4,458.24 290.52,456.59 290.65,458.07 290.77,457.26 290.9,458.67 291.02,457.52 291.15,457.05 291.27,455.71 291.4,454.91 291.52,455.36 291.65,457.71 291.77,456.11 291.9,459.79 292.02,458.67 292.15,454.73 292.27,458.27 292.4,459.97 292.52,456.68 292.65,460.47 292.77,457.12 292.9,461.78 293.02,460.19 293.15,459.14 293.27,456.84 293.4,460.15 293.52,459.35 293.65,461.87 293.77,459.94 293.9,462.9 294.02,461.53 294.15,463.92 294.27,464.76 294.4,463.95 294.52,464.93 294.65,466.42 294.77,462.94 294.9,466.19 295.02,465.86 295.15,468.73 295.27,465.7 295.4,468.17 295.52,463.45 295.65,469.23 295.77,467.96 295.9,468.14 296.02,469.34 296.15,465.55 296.27,467.7 296.4,468.49 296.52,467.96 296.65,467.77 296.77,470.73 296.9,469.17 297.02,468.83 297.15,469.52 297.27,472.05 297.4,473.21 297.52,471.91 297.65,470.95 297.77,467.64 297.9,469.21 298.02,468.64 298.15,468.73 298.27,472.84 298.4,469.59 298.52,473.39 298.65,471.13 298.77,470.76 298.9,470.72 299.02,468.53 299.15,470.51 299.27,472.95 299.4,472.72 299.52,471.8 299.65,472.86 299.77,471.95 299.9,472.47 300.02,476.28 300.15,472.12 300.27,468.69 300.4,468.04 300.52,470.67 300.65,472.49 300.77,473.99 300.9,472.16 301.02,472.51 301.15,473.43 301.27,470.54 301.4,472.32 301.52,473.07 301.65,471.76 301.77,470.99 301.9,473.57 302.02,474.67 302.15,472.8 302.27,468.32 302.4,471.26 302.52,471.98 302.65,473.61 302.77,471.94 302.9,472.05 303.02,474.71 303.15,475.26 303.27,473.09 303.4,470.92 303.52,470.72 303.65,474.21 303.77,471.6 303.9,473.02 304.02,472.74 304.15,473.4 304.27,473.77 304.4,471.25 304.52,471.99 304.65,473.56 304.77,473.29 304.9,470.74 305.02,476.85 305.15,470.72 305.27,475.27 305.4,470.33 305.52,475.18 305.65,470.1 305.77,475.12 305.9,473.76 306.02,474.94 306.15,472.09 306.27,473.99 306.4,473.98 306.52,473.85 306.65,472.53 306.77,476.11 306.9,470.24 307.02,470.77 307.15,470.92 307.27,476.32 307.4,472.04 307.52,472.35 307.65,472.38 307.77,473.16 307.9,473.29 308.02,472.88 308.15,470.98 308.27,474.61 308.4,473.85 308.52,476.69 308.65,474.67 308.77,473.77 308.9,471.26 309.02,474.12 309.15,475.09 309.27,477.11 309.4,474.76 309.52,475.53 309.65,475.18 309.77,477.12 309.9,476.23 310.02,474.22 310.15,471.45 310.27,477.21 310.4,474.35 310.52,472.71 310.65,471.53 310.77,470.93 310.9,474.74 311.02,473.96 311.15,474.86 311.27,476.57 311.4,473.17 311.52,474.88 311.65,473.36 311.77,472.75 311.9,470.22 312.02,472.94 312.15,476.45 312.27,473.47 312.4,475.02 312.52,474.7 312.65,478.26 312.77,477.2 312.9,473.26 313.02,473.65 313.15,476.59 313.27,474.9 313.4,474.65 313.52,476.64 313.65,475.51 313.77,474.74 313.9,480.12 314.02,475.21 314.15,471.93 314.27,475.06 314.4,474.93 314.52,477.59 314.65,475.04 314.77,473.23 314.9,475.1 315.02,472.1 315.15,473.7 315.27,475.04 315.4,472.76 315.52,470.57 315.65,472.38 315.77,472.79 315.9,475.36 316.02,473.39 316.15,474.12 316.27,472.48 316.4,474.35 316.52,473.04 316.65,475.25 316.77,474.62 316.9,476.86 317.02,475.24 317.15,473.53 317.27,472.5 317.4,474.5 317.52,475.46 317.65,476.98 317.77,473.04 317.9,471.59 318.02,470.63 318.15,472.16 318.27,473.64 318.4,473.47 318.52,473.38 318.65,473.87 318.77,474.56 318.9,470.79 319.02,473.99 319.15,473.58 319.27,473.54 319.4,473.05 319.52,470.36 319.65,474.71 319.77,472.93 319.9,473.59 320.02,474.38 320.15,473.9 320.27,474.61 320.4,474.66 320.52,472.16 320.65,471.77 320.77,475.43 320.9,472.5 321.02,477.98 321.15,471.93 321.27,474.29 321.4,473.88 321.52,474.52 321.65,472.3 321.77,474.66 321.9,477.77 322.02,473.07 322.15,470.01 322.27,475.31 322.4,474.91 322.52,475.4 322.65,472.68 322.77,474.96 322.9,475.86 323.02,473.34 323.15,474.35 323.27,475.23 323.4,475.68 323.52,473.88 323.65,474.69 323.77,478.04 323.9,478.12 324.02,472.45 324.15,478.44 324.27,473.73 324.4,476.41 324.52,472.18 324.65,474.12 324.77,473.29 324.9,476.02 325.02,474.91 325.15,475.35 325.27,475.29 325.4,474.95 325.52,476.29 325.65,474.83 325.77,474.47 325.9,473.47 326.02,472.99 326.15,473.68 326.27,475.37 326.4,476.59 326.52,474.5 326.65,478.43 326.77,477.06 326.9,474.85 327.02,475.45 327.15,474.78 327.27,471.45 327.4,476.36 327.52,475.27 327.65,471.79 327.77,476.53 327.9,473.89 328.02,474.5 328.15,471.79 328.27,474.91 328.4,475.78 328.52,474.22 328.65,475.01 328.77,471.54 328.9,476.02 329.02,474.97 329.15,475 329.27,476.34 329.4,477.03 329.52,474.99 329.65,476.82 329.77,478.56 329.9,473.17 330.02,475.37 330.15,472.21 330.27,475.87 330.4,477.79 330.52,475.01 330.65,473.16 330.77,474.3 330.9,476.08 331.02,472.56 331.15,472.74 331.27,476.22 331.4,472.87 331.52,475.54 331.65,473.45 331.77,472.47 331.9,476.96 332.02,477.57 332.15,474.05 332.27,479.8 332.4,475.85 332.52,476.56 332.65,475.95 332.77,473.63 332.9,477.58 333.02,475.96 333.15,476.66 333.27,476.02 333.4,475.04 333.52,480.16 333.65,476.64 333.77,475.41" stroke="#000" stroke-width="1.3" fill="none" stroke-linejoin="round"/>
<rect x="27.85" y="267.8" width="306.85" height="226.1" fill="none" stroke="#000" stroke-width="1.6"/>
<path d="M89.22,493.9V489.9M150.59,493.9V489.9M211.96,493.9V489.9M273.33,493.9V489.9M334.7,493.9V489.9M58.53,493.9V491.9M119.91,493.9V491.9M181.27,493.9V491.9M242.64,493.9V491.9M304.01,493.9V491.9" stroke="#000" stroke-width="1.4" fill="none"/>
<text x="27.85" y="509.9" font-size="13.7" text-anchor="middle" fill="#000">500</text>
<text x="89.22" y="509.9" font-size="13.7" text-anchor="middle" fill="#000">1000</text>
<text x="150.59" y="509.9" font-size="13.7" text-anchor="middle" fill="#000">1500</text>
<text x="211.96" y="509.9" font-size="13.7" text-anchor="middle" fill="#000">2000</text>
<text x="273.33" y="509.9" font-size="13.7" text-anchor="middle" fill="#000">2500</text>
<text x="335.7" y="509.9" font-size="14" text-anchor="middle">3000</text>
<text x="-1.15" y="287.0" font-size="20.82" fill="#000">(c)</text>
<text x="121.3" y="526.8" font-size="15.13" font-weight="bold" fill="#000">Raman shift (cm<tspan dy="-5.29" font-size="9.08">-1</tspan><tspan dy="5.29">)</tspan></text>
<text x="15.9" y="431.4" font-size="14.71" font-weight="bold" fill="#000" transform="rotate(-90 15.9 431.4)">Intensity (a.u.)</text>
<text x="175.85" y="446.45" font-size="13.52" fill="#000">Graphite powder</text>
<text x="180.55" y="372.7" font-size="13.54" fill="#ff0000">GO nanosheet</text>
<text x="122.7" y="313.3" font-size="14.20" font-weight="bold" fill="#ff0000">D</text>
<text x="155.25" y="282.9" font-size="14.20" font-weight="bold" fill="#ff0000">G</text>
<text x="285.05" y="327.35" font-size="14.20" font-weight="bold" fill="#ff0000">2D</text>
<path d="M365.2,430.7L365.7,430.42 366.2,430.14 366.7,429.86 367.2,429.57 367.7,429.29 368.2,429 368.7,428.71 369.2,428.42 369.7,428.13 370.2,427.84 370.7,427.54 371.2,427.25 371.7,426.95 372.2,426.65 372.7,426.36 373.2,426.06 373.7,425.75 374.2,425.45 374.7,425.15 375.2,424.84 375.7,424.54 376.2,424.23 376.7,423.92 377.2,423.61 377.7,423.3 378.2,422.99 378.7,422.68 379.2,422.37 379.7,422.05 380.2,421.74 380.7,421.42 381.2,421.11 381.7,420.79 382.2,420.47 382.7,420.15 383.2,419.83 383.7,419.51 384.2,419.19 384.7,418.87 385.2,418.55 385.7,418.23 386.2,417.9 386.7,417.58 387.2,417.25 387.7,416.93 388.2,416.6 388.7,416.28 389.2,415.95 389.7,415.63 390.2,415.3 390.7,414.97 391.2,414.65 391.7,414.32 392.2,413.99 392.7,413.66 393.2,413.34 393.7,413.01 394.2,412.68 394.7,412.35 395.2,412.03 395.7,411.7 396.2,411.37 396.7,411.05 397.2,410.72 397.7,410.39 398.2,410.07 398.7,409.74 399.2,409.41 399.7,409.09 400.2,408.76 400.7,408.44 401.2,408.11 401.7,407.79 402.2,407.47 402.7,407.14 403.2,406.82 403.7,406.5 404.2,406.18 404.7,405.86 405.2,405.54 405.7,405.22 406.2,404.91 406.7,404.59 407.2,404.28 407.7,403.96 408.2,403.65 408.7,403.34 409.2,403.02 409.7,402.71 410.2,402.41 410.7,402.1 411.2,401.79 411.7,401.49 412.2,401.18 412.7,400.88 413.2,400.58 413.7,400.28 414.2,399.98 414.7,399.69 415.2,399.39 415.7,399.1 416.2,398.81 416.7,398.52 417.2,398.23 417.7,397.94 418.2,397.66 418.7,397.38 419.2,397.1 419.7,396.82 420.2,396.54 420.7,396.27 421.2,395.99 421.7,395.72 422.2,395.46 422.7,395.19 423.2,394.93 423.7,394.66 424.2,394.4 424.7,394.15 425.2,393.89 425.7,393.64 426.2,393.39 426.7,393.14 427.2,392.9 427.7,392.65 428.2,392.42 428.7,392.18 429.2,391.94 429.7,391.71 430.2,391.48 430.7,391.26 431.2,391.03 431.7,390.81 432.2,390.59 432.7,390.38 433.2,390.17 433.7,389.96 434.2,389.75 434.7,389.55 435.2,389.35 435.7,389.15 436.2,388.96 436.7,388.76 437.2,388.58 437.7,388.39 438.2,388.21 438.7,388.03 439.2,387.86 439.7,387.69 440.2,387.52 440.7,387.35 441.2,387.19 441.7,387.03 442.2,386.88 442.7,386.73 443.2,386.58 443.7,386.43 444.2,386.29 444.7,386.16 445.2,386.02 445.7,385.89 446.2,385.77 446.7,385.64 447.2,385.52 447.7,385.41 448.2,385.3 448.7,385.19 449.2,385.08 449.7,384.98 450.2,384.89 450.7,384.79 451.2,384.7 451.7,384.62 452.2,384.53 452.7,384.46 453.2,384.38 453.7,384.31 454.2,384.25 454.7,384.18 455.2,384.12 455.7,384.07 456.2,384.02 456.7,383.97 457.2,383.93 457.7,383.89 458.2,383.85 458.7,383.82 459.2,383.79 459.7,383.77 460.2,383.75 460.7,383.73 461.2,383.72 461.7,383.71 462.2,383.71 462.7,383.71 463.2,383.71 463.7,383.72 464.2,383.73 464.7,383.75 465.2,383.77 465.7,383.79 466.2,383.82 466.7,383.85 467.2,383.89 467.7,383.93 468.2,383.97 468.7,384.02 469.2,384.07 469.7,384.12 470.2,384.18 470.7,384.25 471.2,384.31 471.7,384.38 472.2,384.46 472.7,384.53 473.2,384.62 473.7,384.7 474.2,384.79 474.7,384.89 475.2,384.98 475.7,385.08 476.2,385.19 476.7,385.3 477.2,385.41 477.7,385.52 478.2,385.64 478.7,385.77 479.2,385.89 479.7,386.02 480.2,386.16 480.7,386.29 481.2,386.43 481.7,386.58 482.2,386.73 482.7,386.88 483.2,387.03 483.7,387.19 484.2,387.35 484.7,387.52 485.2,387.69 485.7,387.86 486.2,388.03 486.7,388.21 487.2,388.39 487.7,388.58 488.2,388.76 488.7,388.96 489.2,389.15 489.7,389.35 490.2,389.55 490.7,389.75 491.2,389.96 491.7,390.17 492.2,390.38 492.7,390.59 493.2,390.81 493.7,391.03 494.2,391.26 494.7,391.48 495.2,391.71 495.7,391.94 496.2,392.18 496.7,392.42 497.2,392.65 497.7,392.9 498.2,393.14 498.7,393.39 499.2,393.64 499.7,393.89 500.2,394.15 500.7,394.4 501.2,394.66 501.7,394.93 502.2,395.19 502.7,395.46 503.2,395.72 503.7,395.99 504.2,396.27 504.7,396.54 505.2,396.82 505.7,397.1 506.2,397.38 506.7,397.66 507.2,397.94 507.7,398.23 508.2,398.52 508.7,398.81 509.2,399.1 509.7,399.39 510.2,399.69 510.7,399.98 511.2,400.28 511.7,400.58 512.2,400.88 512.7,401.18 513.2,401.49 513.7,401.79 514.2,402.1 514.7,402.41 515.2,402.71 515.7,403.02 516.2,403.34 516.7,403.65 517.2,403.96 517.7,404.28 518.2,404.59 518.7,404.91 519.2,405.22 519.7,405.54 520.2,405.86 520.7,406.18 521.2,406.5 521.7,406.82 522.2,407.14 522.7,407.47 523.2,407.79 523.7,408.11 524.2,408.44 524.7,408.76 525.2,409.09 525.7,409.41 526.2,409.74 526.7,410.07 527.2,410.39 527.7,410.72 528.2,411.05 528.7,411.37 529.2,411.7 529.7,412.03 530.2,412.35 530.7,412.68 531.2,413.01 531.7,413.34 532.2,413.66 532.7,413.99 533.2,414.32 533.7,414.65 534.2,414.97 534.7,415.3 535.2,415.63 535.7,415.95 536.2,416.28 536.7,416.6 537.2,416.93 537.7,417.25 538.2,417.58 538.7,417.9 539.2,418.23 539.7,418.55 540.2,418.87 540.7,419.19 541.2,419.51 541.7,419.83 542.2,420.15 542.7,420.47 543.2,420.79 543.7,421.11 544.2,421.42 544.7,421.74 545.2,422.05 545.7,422.37 546.2,422.68 546.7,422.99 547.2,423.3 547.7,423.61 548.2,423.92 548.7,424.23 549.2,424.54 549.7,424.84 550.2,425.15 550.7,425.45 551.2,425.75 551.7,426.06 552.2,426.36 552.7,426.65 553.2,426.95 553.7,427.25 554.2,427.54 554.7,427.84 555.2,428.13 555.7,428.42 556.2,428.71 556.7,429 557.2,429.29 557.7,429.57 558.2,429.86 558.7,430.14 559.2,430.42 559.7,430.7 560.2,430.98 560.7,431.26 561.2,431.54 561.7,431.81 562.2,432.08 562.7,432.35 563.2,432.62 563.7,432.89 564.2,433.16 564.7,433.42 565.2,433.69 565.7,433.95 566.2,434.21 566.7,434.47 567.2,434.72 567.7,434.98 568.2,435.23 568.7,435.48 569.2,435.74 569.7,435.98 570.2,436.23 570.7,436.48 571.2,436.72 571.7,436.96 572.2,437.2 572.7,437.44 573.2,437.68 573.7,437.91 574.2,438.14 574.7,438.38 575.2,438.61 575.7,438.83 576.2,439.06 576.7,439.28 577.2,439.51 577.7,439.73 578.2,439.95 578.7,440.16 579.2,440.38 579.7,440.59 580.2,440.81 580.7,441.02 581.2,441.23 581.7,441.43 582.2,441.64 582.7,441.84 583.2,442.04 583.7,442.24 584.2,442.44 584.7,442.64 585.2,442.83 585.7,443.02 586.2,443.22 586.7,443.4 587.2,443.59 587.7,443.78 588.2,443.96 588.7,444.14 589.2,444.33 589.7,444.5 590.2,444.68 590.7,444.86 591.2,445.03 591.7,445.2 592.2,445.37 592.7,445.54 593.2,445.71 593.7,445.87 594.2,446.04 594.7,446.2 595.2,446.36 595.7,446.52 596.2,446.68 596.7,446.83 597.2,446.98 597.7,447.14 598.2,447.29 598.7,447.44 599.2,447.58 599.7,447.73 600.2,447.87 600.7,448.01 601.2,448.16 601.7,448.29 602.2,448.43 602.7,448.57 603.2,448.7 603.7,448.84 604.2,448.97 604.7,449.1 605.2,449.23 605.7,449.35 606.2,449.48 606.7,449.6 607.2,449.73 607.7,449.85 608.2,449.97 608.7,450.08 609.2,450.2 609.7,450.32 610.2,450.43 610.7,450.54 611.2,450.65 611.7,450.76 612.2,450.87 612.7,450.98 613.2,451.08 613.7,451.19 614.2,451.29 614.7,451.39 615.2,451.49 615.7,451.59 616.2,451.69 616.7,451.79 617.2,451.88 617.7,451.98 618.2,452.07 618.7,452.16 619.2,452.25 619.7,452.34 620.2,452.43 620.7,452.51 621.2,452.6 621.7,452.68 622.2,452.77 622.7,452.85 623.2,452.93 623.7,453.01 624.2,453.09 624.7,453.16 625.2,453.24 625.7,453.32 626.2,453.39 626.7,453.46 627.2,453.54 627.7,453.61 628.2,453.68 628.7,453.75 629.2,453.81 629.7,453.88 630.2,453.95 630.7,454.01 631.2,454.08 631.7,454.14 632.2,454.2 632.7,454.26 633.2,454.32 633.7,454.38 634.2,454.44 634.7,454.5 635.2,454.55 635.7,454.61 636.2,454.67 636.7,454.72 637.2,454.77 637.7,454.82 638.2,454.88 638.7,454.93 639.2,454.98 639.7,455.03 640.2,455.07 640.7,455.12 641.2,455.17 641.7,455.21 642.2,455.26 642.7,455.3 643.2,455.35 643.7,455.39 644.2,455.43 644.7,455.48 645.2,455.52 645.7,455.56 646.2,455.6 646.7,455.64 647.2,455.67 647.7,455.71 648.2,455.75 648.7,455.79 649.2,455.82 649.7,455.86 650.2,455.89 650.7,455.93 651.2,455.96 651.7,455.99 652.2,456.02 652.7,456.06 653.2,456.09 653.7,456.12 654.2,456.15 654.7,456.18 655.2,456.21 655.7,456.23 656.2,456.26 656.7,456.29 657.2,456.32 657.7,456.34 658.2,456.37 658.7,456.39 659.2,456.42 659.7,456.44 660.2,456.47 660.7,456.49 661.2,456.52 661.7,456.54 662.2,456.56 662.7,456.58 663.2,456.6 663.7,456.62 664.2,456.65 664.7,456.67 665.2,456.69 665.7,456.71 666.2,456.72 666.7,456.74 667.2,456.76 667.7,456.78 668.2,456.8 668.7,456.82 669.2,456.83" stroke="#ff00ff" stroke-width="2" fill="none"/>
<path d="M365.2,457.6L365.7,457.6 366.2,457.6 366.7,457.6 367.2,457.6 367.7,457.6 368.2,457.6 368.7,457.6 369.2,457.6 369.7,457.6 370.2,457.6 370.7,457.6 371.2,457.6 371.7,457.6 372.2,457.6 372.7,457.6 373.2,457.6 373.7,457.6 374.2,457.6 374.7,457.6 375.2,457.6 375.7,457.6 376.2,457.6 376.7,457.6 377.2,457.6 377.7,457.6 378.2,457.6 378.7,457.6 379.2,457.6 379.7,457.6 380.2,457.6 380.7,457.6 381.2,457.6 381.7,457.6 382.2,457.6 382.7,457.6 383.2,457.6 383.7,457.6 384.2,457.6 384.7,457.6 385.2,457.6 385.7,457.6 386.2,457.6 386.7,457.6 387.2,457.59 387.7,457.59 388.2,457.59 388.7,457.59 389.2,457.59 389.7,457.59 390.2,457.59 390.7,457.59 391.2,457.59 391.7,457.59 392.2,457.59 392.7,457.59 393.2,457.59 393.7,457.59 394.2,457.58 394.7,457.58 395.2,457.58 395.7,457.58 396.2,457.58 396.7,457.58 397.2,457.57 397.7,457.57 398.2,457.57 398.7,457.57 399.2,457.57 399.7,457.56 400.2,457.56 400.7,457.56 401.2,457.55 401.7,457.55 402.2,457.55 402.7,457.54 403.2,457.54 403.7,457.53 404.2,457.53 404.7,457.52 405.2,457.52 405.7,457.51 406.2,457.51 406.7,457.5 407.2,457.49 407.7,457.49 408.2,457.48 408.7,457.47 409.2,457.46 409.7,457.45 410.2,457.44 410.7,457.43 411.2,457.42 411.7,457.4 412.2,457.39 412.7,457.38 413.2,457.36 413.7,457.35 414.2,457.33 414.7,457.31 415.2,457.29 415.7,457.28 416.2,457.25 416.7,457.23 417.2,457.21 417.7,457.18 418.2,457.16 418.7,457.13 419.2,457.1 419.7,457.07 420.2,457.04 420.7,457 421.2,456.97 421.7,456.93 422.2,456.89 422.7,456.85 423.2,456.8 423.7,456.75 424.2,456.71 424.7,456.65 425.2,456.6 425.7,456.54 426.2,456.48 426.7,456.42 427.2,456.35 427.7,456.28 428.2,456.21 428.7,456.13 429.2,456.05 429.7,455.97 430.2,455.88 430.7,455.79 431.2,455.69 431.7,455.59 432.2,455.48 432.7,455.37 433.2,455.25 433.7,455.13 434.2,455.01 434.7,454.88 435.2,454.74 435.7,454.59 436.2,454.44 436.7,454.29 437.2,454.13 437.7,453.96 438.2,453.78 438.7,453.6 439.2,453.41 439.7,453.21 440.2,453 440.7,452.79 441.2,452.57 441.7,452.34 442.2,452.1 442.7,451.85 443.2,451.59 443.7,451.33 444.2,451.05 444.7,450.76 445.2,450.47 445.7,450.16 446.2,449.84 446.7,449.52 447.2,449.18 447.7,448.83 448.2,448.47 448.7,448.09 449.2,447.71 449.7,447.31 450.2,446.9 450.7,446.48 451.2,446.05 451.7,445.6 452.2,445.14 452.7,444.67 453.2,444.18 453.7,443.68 454.2,443.17 454.7,442.64 455.2,442.1 455.7,441.54 456.2,440.97 456.7,440.39 457.2,439.79 457.7,439.18 458.2,438.55 458.7,437.91 459.2,437.25 459.7,436.58 460.2,435.89 460.7,435.19 461.2,434.48 461.7,433.75 462.2,433 462.7,432.24 463.2,431.47 463.7,430.68 464.2,429.88 464.7,429.06 465.2,428.23 465.7,427.39 466.2,426.53 466.7,425.66 467.2,424.77 467.7,423.88 468.2,422.97 468.7,422.04 469.2,421.11 469.7,420.16 470.2,419.2 470.7,418.24 471.2,417.26 471.7,416.27 472.2,415.27 472.7,414.26 473.2,413.24 473.7,412.22 474.2,411.18 474.7,410.14 475.2,409.09 475.7,408.04 476.2,406.98 476.7,405.92 477.2,404.85 477.7,403.78 478.2,402.7 478.7,401.63 479.2,400.55 479.7,399.47 480.2,398.39 480.7,397.31 481.2,396.23 481.7,395.16 482.2,394.08 482.7,393.01 483.2,391.95 483.7,390.89 484.2,389.84 484.7,388.79 485.2,387.75 485.7,386.72 486.2,385.7 486.7,384.7 487.2,383.7 487.7,382.71 488.2,381.74 488.7,380.78 489.2,379.83 489.7,378.9 490.2,377.99 490.7,377.09 491.2,376.21 491.7,375.35 492.2,374.51 492.7,373.69 493.2,372.89 493.7,372.11 494.2,371.36 494.7,370.63 495.2,369.92 495.7,369.23 496.2,368.57 496.7,367.94 497.2,367.33 497.7,366.76 498.2,366.2 498.7,365.68 499.2,365.18 499.7,364.72 500.2,364.28 500.7,363.88 501.2,363.5 501.7,363.16 502.2,362.84 502.7,362.56 503.2,362.31 503.7,362.09 504.2,361.91 504.7,361.75 505.2,361.63 505.7,361.55 506.2,361.49 506.7,361.47 507.2,361.48 507.7,361.53 508.2,361.6 508.7,361.71 509.2,361.86 509.7,362.03 510.2,362.24 510.7,362.48 511.2,362.75 511.7,363.05 512.2,363.39 512.7,363.75 513.2,364.15 513.7,364.58 514.2,365.03 514.7,365.52 515.2,366.03 515.7,366.58 516.2,367.15 516.7,367.74 517.2,368.37 517.7,369.02 518.2,369.7 518.7,370.4 519.2,371.12 519.7,371.87 520.2,372.64 520.7,373.43 521.2,374.25 521.7,375.08 522.2,375.94 522.7,376.81 523.2,377.7 523.7,378.61 524.2,379.53 524.7,380.47 525.2,381.43 525.7,382.4 526.2,383.38 526.7,384.37 527.2,385.38 527.7,386.4 528.2,387.42 528.7,388.46 529.2,389.5 529.7,390.55 530.2,391.61 530.7,392.67 531.2,393.74 531.7,394.81 532.2,395.89 532.7,396.96 533.2,398.04 533.7,399.12 534.2,400.2 534.7,401.28 535.2,402.36 535.7,403.43 536.2,404.51 536.7,405.58 537.2,406.64 537.7,407.7 538.2,408.76 538.7,409.81 539.2,410.85 539.7,411.89 540.2,412.91 540.7,413.93 541.2,414.95 541.7,415.95 542.2,416.94 542.7,417.92 543.2,418.9 543.7,419.86 544.2,420.81 544.7,421.75 545.2,422.67 545.7,423.59 546.2,424.49 546.7,425.38 547.2,426.25 547.7,427.11 548.2,427.96 548.7,428.8 549.2,429.62 549.7,430.43 550.2,431.22 550.7,432 551.2,432.76 551.7,433.51 552.2,434.25 552.7,434.97 553.2,435.67 553.7,436.36 554.2,437.04 554.7,437.7 555.2,438.35 555.7,438.98 556.2,439.6 556.7,440.2 557.2,440.79 557.7,441.36 558.2,441.92 558.7,442.47 559.2,443 559.7,443.52 560.2,444.02 560.7,444.51 561.2,444.99 561.7,445.45 562.2,445.91 562.7,446.34 563.2,446.77 563.7,447.18 564.2,447.58 564.7,447.97 565.2,448.35 565.7,448.71 566.2,449.07 566.7,449.41 567.2,449.74 567.7,450.06 568.2,450.37 568.7,450.67 569.2,450.96 569.7,451.24 570.2,451.51 570.7,451.77 571.2,452.02 571.7,452.26 572.2,452.49 572.7,452.72 573.2,452.94 573.7,453.14 574.2,453.35 574.7,453.54 575.2,453.72 575.7,453.9 576.2,454.07 576.7,454.24 577.2,454.4 577.7,454.55 578.2,454.69 578.7,454.83 579.2,454.97 579.7,455.09 580.2,455.22 580.7,455.33 581.2,455.45 581.7,455.55 582.2,455.66 582.7,455.76 583.2,455.85 583.7,455.94 584.2,456.02 584.7,456.11 585.2,456.18 585.7,456.26 586.2,456.33 586.7,456.4 587.2,456.46 587.7,456.52 588.2,456.58 588.7,456.64 589.2,456.69 589.7,456.74 590.2,456.79 590.7,456.83 591.2,456.88 591.7,456.92 592.2,456.96 592.7,456.99 593.2,457.03 593.7,457.06 594.2,457.09 594.7,457.12 595.2,457.15 595.7,457.18 596.2,457.2 596.7,457.22 597.2,457.25 597.7,457.27 598.2,457.29 598.7,457.31 599.2,457.33 599.7,457.34 600.2,457.36 600.7,457.37 601.2,457.39 601.7,457.4 602.2,457.41 602.7,457.43 603.2,457.44 603.7,457.45 604.2,457.46 604.7,457.47 605.2,457.47 605.7,457.48 606.2,457.49 606.7,457.5 607.2,457.5 607.7,457.51 608.2,457.52 608.7,457.52 609.2,457.53 609.7,457.53 610.2,457.54 610.7,457.54 611.2,457.55 611.7,457.55 612.2,457.55 612.7,457.56 613.2,457.56 613.7,457.56 614.2,457.56 614.7,457.57 615.2,457.57 615.7,457.57 616.2,457.57 616.7,457.58 617.2,457.58 617.7,457.58 618.2,457.58 618.7,457.58 619.2,457.58 619.7,457.58 620.2,457.59 620.7,457.59 621.2,457.59 621.7,457.59 622.2,457.59 622.7,457.59 623.2,457.59 623.7,457.59 624.2,457.59 624.7,457.59 625.2,457.59 625.7,457.59 626.2,457.59 626.7,457.59 627.2,457.6 627.7,457.6 628.2,457.6 628.7,457.6 629.2,457.6 629.7,457.6 630.2,457.6 630.7,457.6 631.2,457.6 631.7,457.6 632.2,457.6 632.7,457.6 633.2,457.6 633.7,457.6 634.2,457.6 634.7,457.6 635.2,457.6 635.7,457.6 636.2,457.6 636.7,457.6 637.2,457.6 637.7,457.6 638.2,457.6 638.7,457.6 639.2,457.6 639.7,457.6 640.2,457.6 640.7,457.6 641.2,457.6 641.7,457.6 642.2,457.6 642.7,457.6 643.2,457.6 643.7,457.6 644.2,457.6 644.7,457.6 645.2,457.6 645.7,457.6 646.2,457.6 646.7,457.6 647.2,457.6 647.7,457.6 648.2,457.6 648.7,457.6 649.2,457.6 649.7,457.6 650.2,457.6 650.7,457.6 651.2,457.6 651.7,457.6 652.2,457.6 652.7,457.6 653.2,457.6 653.7,457.6 654.2,457.6 654.7,457.6 655.2,457.6 655.7,457.6 656.2,457.6 656.7,457.6 657.2,457.6 657.7,457.6 658.2,457.6 658.7,457.6 659.2,457.6 659.7,457.6 660.2,457.6 660.7,457.6 661.2,457.6 661.7,457.6 662.2,457.6 662.7,457.6 663.2,457.6 663.7,457.6 664.2,457.6 664.7,457.6 665.2,457.6 665.7,457.6 666.2,457.6 666.7,457.6 667.2,457.6 667.7,457.6 668.2,457.6 668.7,457.6 669.2,457.6" stroke="#00ff00" stroke-width="2" fill="none"/>
<path d="M365.2,457.6H669.6" stroke="#00ffff" stroke-width="2" fill="none"/>
<path d="M365.2,430.7L365.7,430.42 366.2,430.14 366.7,429.86 367.2,429.57 367.7,429.29 368.2,429 368.7,428.71 369.2,428.42 369.7,428.13 370.2,427.84 370.7,427.54 371.2,427.25 371.7,426.95 372.2,426.65 372.7,426.36 373.2,426.05 373.7,425.75 374.2,425.45 374.7,425.15 375.2,424.84 375.7,424.54 376.2,424.23 376.7,423.92 377.2,423.61 377.7,423.3 378.2,422.99 378.7,422.68 379.2,422.37 379.7,422.05 380.2,421.74 380.7,421.42 381.2,421.1 381.7,420.79 382.2,420.47 382.7,420.15 383.2,419.83 383.7,419.51 384.2,419.19 384.7,418.87 385.2,418.54 385.7,418.22 386.2,417.9 386.7,417.57 387.2,417.25 387.7,416.92 388.2,416.6 388.7,416.27 389.2,415.95 389.7,415.62 390.2,415.29 390.7,414.96 391.2,414.64 391.7,414.31 392.2,413.98 392.7,413.65 393.2,413.32 393.7,412.99 394.2,412.67 394.7,412.34 395.2,412.01 395.7,411.68 396.2,411.35 396.7,411.02 397.2,410.69 397.7,410.36 398.2,410.04 398.7,409.71 399.2,409.38 399.7,409.05 400.2,408.72 400.7,408.4 401.2,408.07 401.7,407.74 402.2,407.41 402.7,407.09 403.2,406.76 403.7,406.44 404.2,406.11 404.7,405.79 405.2,405.46 405.7,405.14 406.2,404.81 406.7,404.49 407.2,404.17 407.7,403.85 408.2,403.53 408.7,403.2 409.2,402.88 409.7,402.57 410.2,402.25 410.7,401.93 411.2,401.61 411.7,401.29 412.2,400.98 412.7,400.66 413.2,400.34 413.7,400.03 414.2,399.71 414.7,399.4 415.2,399.09 415.7,398.77 416.2,398.46 416.7,398.15 417.2,397.84 417.7,397.53 418.2,397.22 418.7,396.91 419.2,396.6 419.7,396.29 420.2,395.98 420.7,395.67 421.2,395.36 421.7,395.05 422.2,394.74 422.7,394.44 423.2,394.13 423.7,393.82 424.2,393.51 424.7,393.2 425.2,392.89 425.7,392.58 426.2,392.27 426.7,391.96 427.2,391.65 427.7,391.34 428.2,391.02 428.7,390.71 429.2,390.39 429.7,390.08 430.2,389.76 430.7,389.44 431.2,389.12 431.7,388.8 432.2,388.47 432.7,388.15 433.2,387.82 433.7,387.49 434.2,387.16 434.7,386.82 435.2,386.48 435.7,386.14 436.2,385.8 436.7,385.45 437.2,385.1 437.7,384.75 438.2,384.39 438.7,384.03 439.2,383.66 439.7,383.29 440.2,382.92 440.7,382.54 441.2,382.16 441.7,381.77 442.2,381.38 442.7,380.98 443.2,380.57 443.7,380.16 444.2,379.74 444.7,379.32 445.2,378.89 445.7,378.45 446.2,378.01 446.7,377.56 447.2,377.1 447.7,376.63 448.2,376.16 448.7,375.68 449.2,375.19 449.7,374.69 450.2,374.19 450.7,373.67 451.2,373.15 451.7,372.62 452.2,372.08 452.7,371.52 453.2,370.96 453.7,370.39 454.2,369.81 454.7,369.22 455.2,368.62 455.7,368.01 456.2,367.39 456.7,366.76 457.2,366.12 457.7,365.47 458.2,364.8 458.7,364.13 459.2,363.45 459.7,362.75 460.2,362.04 460.7,361.33 461.2,360.6 461.7,359.86 462.2,359.11 462.7,358.35 463.2,357.58 463.7,356.8 464.2,356.01 464.7,355.21 465.2,354.4 465.7,353.58 466.2,352.75 466.7,351.91 467.2,351.06 467.7,350.2 468.2,349.34 468.7,348.46 469.2,347.58 469.7,346.69 470.2,345.79 470.7,344.88 471.2,343.97 471.7,343.05 472.2,342.12 472.7,341.19 473.2,340.26 473.7,339.32 474.2,338.37 474.7,337.43 475.2,336.48 475.7,335.52 476.2,334.57 476.7,333.61 477.2,332.66 477.7,331.7 478.2,330.75 478.7,329.79 479.2,328.84 479.7,327.89 480.2,326.94 480.7,326 481.2,325.07 481.7,324.13 482.2,323.21 482.7,322.29 483.2,321.38 483.7,320.48 484.2,319.59 484.7,318.71 485.2,317.84 485.7,316.98 486.2,316.14 486.7,315.31 487.2,314.49 487.7,313.69 488.2,312.9 488.7,312.13 489.2,311.38 489.7,310.65 490.2,309.94 490.7,309.24 491.2,308.57 491.7,307.92 492.2,307.29 492.7,306.68 493.2,306.1 493.7,305.55 494.2,305.01 494.7,304.51 495.2,304.03 495.7,303.58 496.2,303.15 496.7,302.76 497.2,302.39 497.7,302.05 498.2,301.75 498.7,301.47 499.2,301.22 499.7,301.01 500.2,300.83 500.7,300.68 501.2,300.56 501.7,300.48 502.2,300.43 502.7,300.42 503.2,300.44 503.7,300.49 504.2,300.57 504.7,300.7 505.2,300.85 505.7,301.04 506.2,301.27 506.7,301.53 507.2,301.83 507.7,302.16 508.2,302.52 508.7,302.92 509.2,303.35 509.7,303.82 510.2,304.33 510.7,304.86 511.2,305.43 511.7,306.03 512.2,306.67 512.7,307.34 513.2,308.04 513.7,308.77 514.2,309.53 514.7,310.32 515.2,311.15 515.7,312 516.2,312.88 516.7,313.79 517.2,314.73 517.7,315.7 518.2,316.69 518.7,317.7 519.2,318.75 519.7,319.81 520.2,320.9 520.7,322.01 521.2,323.15 521.7,324.3 522.2,325.48 522.7,326.68 523.2,327.89 523.7,329.12 524.2,330.37 524.7,331.64 525.2,332.92 525.7,334.21 526.2,335.52 526.7,336.84 527.2,338.17 527.7,339.52 528.2,340.87 528.7,342.23 529.2,343.6 529.7,344.98 530.2,346.36 530.7,347.76 531.2,349.15 531.7,350.55 532.2,351.95 532.7,353.36 533.2,354.76 533.7,356.17 534.2,357.57 534.7,358.98 535.2,360.38 535.7,361.79 536.2,363.19 536.7,364.58 537.2,365.97 537.7,367.36 538.2,368.74 538.7,370.11 539.2,371.48 539.7,372.83 540.2,374.18 540.7,375.53 541.2,376.86 541.7,378.18 542.2,379.49 542.7,380.79 543.2,382.08 543.7,383.36 544.2,384.63 544.7,385.88 545.2,387.12 545.7,388.35 546.2,389.57 546.7,390.77 547.2,391.95 547.7,393.13 548.2,394.29 548.7,395.43 549.2,396.56 549.7,397.67 550.2,398.77 550.7,399.85 551.2,400.92 551.7,401.97 552.2,403 552.7,404.02 553.2,405.02 553.7,406.01 554.2,406.98 554.7,407.94 555.2,408.88 555.7,409.8 556.2,410.71 556.7,411.6 557.2,412.48 557.7,413.34 558.2,414.18 558.7,415.01 559.2,415.82 559.7,416.62 560.2,417.41 560.7,418.17 561.2,418.93 561.7,419.66 562.2,420.39 562.7,421.1 563.2,421.79 563.7,422.47 564.2,423.14 564.7,423.79 565.2,424.43 565.7,425.06 566.2,425.67 566.7,426.28 567.2,426.86 567.7,427.44 568.2,428 568.7,428.55 569.2,429.09 569.7,429.62 570.2,430.14 570.7,430.64 571.2,431.14 571.7,431.62 572.2,432.1 572.7,432.56 573.2,433.01 573.7,433.46 574.2,433.89 574.7,434.31 575.2,434.73 575.7,435.14 576.2,435.53 576.7,435.92 577.2,436.3 577.7,436.68 578.2,437.04 578.7,437.4 579.2,437.75 579.7,438.09 580.2,438.42 580.7,438.75 581.2,439.07 581.7,439.39 582.2,439.69 582.7,440 583.2,440.29 583.7,440.58 584.2,440.86 584.7,441.14 585.2,441.42 585.7,441.68 586.2,441.94 586.7,442.2 587.2,442.45 587.7,442.7 588.2,442.94 588.7,443.18 589.2,443.41 589.7,443.64 590.2,443.87 590.7,444.09 591.2,444.31 591.7,444.52 592.2,444.73 592.7,444.93 593.2,445.14 593.7,445.33 594.2,445.53 594.7,445.72 595.2,445.91 595.7,446.09 596.2,446.28 596.7,446.46 597.2,446.63 597.7,446.8 598.2,446.98 598.7,447.14 599.2,447.31 599.7,447.47 600.2,447.63 600.7,447.79 601.2,447.94 601.7,448.1 602.2,448.25 602.7,448.39 603.2,448.54 603.7,448.68 604.2,448.82 604.7,448.96 605.2,449.1 605.7,449.24 606.2,449.37 606.7,449.5 607.2,449.63 607.7,449.76 608.2,449.88 608.7,450.01 609.2,450.13 609.7,450.25 610.2,450.37 610.7,450.48 611.2,450.6 611.7,450.71 612.2,450.82 612.7,450.94 613.2,451.04 613.7,451.15 614.2,451.26 614.7,451.36 615.2,451.46 615.7,451.56 616.2,451.66 616.7,451.76 617.2,451.86 617.7,451.96 618.2,452.05 618.7,452.14 619.2,452.23 619.7,452.32 620.2,452.41 620.7,452.5 621.2,452.59 621.7,452.67 622.2,452.76 622.7,452.84 623.2,452.92 623.7,453 624.2,453.08 624.7,453.16 625.2,453.23 625.7,453.31 626.2,453.39 626.7,453.46 627.2,453.53 627.7,453.6 628.2,453.67 628.7,453.74 629.2,453.81 629.7,453.88 630.2,453.94 630.7,454.01 631.2,454.07 631.7,454.14 632.2,454.2 632.7,454.26 633.2,454.32 633.7,454.38 634.2,454.44 634.7,454.5 635.2,454.55 635.7,454.61 636.2,454.66 636.7,454.72 637.2,454.77 637.7,454.82 638.2,454.88 638.7,454.93 639.2,454.98 639.7,455.03 640.2,455.07 640.7,455.12 641.2,455.17 641.7,455.21 642.2,455.26 642.7,455.3 643.2,455.35 643.7,455.39 644.2,455.43 644.7,455.48 645.2,455.52 645.7,455.56 646.2,455.6 646.7,455.64 647.2,455.67 647.7,455.71 648.2,455.75 648.7,455.79 649.2,455.82 649.7,455.86 650.2,455.89 650.7,455.92 651.2,455.96 651.7,455.99 652.2,456.02 652.7,456.06 653.2,456.09 653.7,456.12 654.2,456.15 654.7,456.18 655.2,456.21 655.7,456.23 656.2,456.26 656.7,456.29 657.2,456.32 657.7,456.34 658.2,456.37 658.7,456.39 659.2,456.42 659.7,456.44 660.2,456.47 660.7,456.49 661.2,456.52 661.7,456.54 662.2,456.56 662.7,456.58 663.2,456.6 663.7,456.62 664.2,456.65 664.7,456.67 665.2,456.69 665.7,456.71 666.2,456.72 666.7,456.74 667.2,456.76 667.7,456.78 668.2,456.8 668.7,456.82 669.2,456.83" stroke="#000" stroke-width="2" fill="none"/>
<rect x="364.6" y="266" width="305.6" height="228.3" fill="none" stroke="#000" stroke-width="1.6"/>
<path d="M364.6,494.3V490.3M415.53,494.3V490.3M466.47,494.3V490.3M517.4,494.3V490.3M568.33,494.3V490.3M619.27,494.3V490.3M670.2,494.3V490.3M390.07,494.3V492.3M441,494.3V492.3M491.93,494.3V492.3M542.87,494.3V492.3M593.8,494.3V492.3M644.73,494.3V492.3" stroke="#000" stroke-width="1.4" fill="none"/>
<text x="364.6" y="510.3" font-size="14.6" text-anchor="middle" fill="#000">2500</text>
<text x="415.53" y="510.3" font-size="14.6" text-anchor="middle" fill="#000">2550</text>
<text x="466.47" y="510.3" font-size="14.6" text-anchor="middle" fill="#000">2600</text>
<text x="517.4" y="510.3" font-size="14.6" text-anchor="middle" fill="#000">2650</text>
<text x="568.33" y="510.3" font-size="14.6" text-anchor="middle" fill="#000">2700</text>
<text x="619.27" y="510.3" font-size="14.6" text-anchor="middle" fill="#000">2750</text>
<text x="670.2" y="510.3" font-size="14.6" text-anchor="middle" fill="#000">2800</text>
<text x="337.45" y="287.1" font-size="21.08" fill="#000">(d)</text>
<text x="453.25" y="527.0" font-size="16.10" font-weight="bold" fill="#000">Raman shift (cm<tspan dy="-5.63" font-size="9.66">-1</tspan><tspan dy="5.63">)</tspan></text>
<text x="352.45" y="427.8" font-size="15.13" font-weight="bold" fill="#000" transform="rotate(-90 352.45 427.8)">Intensity (a.u.)</text>
<text x="556.5" y="473.75" font-size="14.16" font-weight="bold" fill="#000">Graphite powder</text>
<path d="M543.3,358.8H585" stroke="#66aaff" stroke-width="1.2" fill="none"/>
<path d="M585,358.8H617" stroke="#cc99ff" stroke-width="1.2" fill="none"/>
<path d="M617,358.8H661.0" stroke="#8866ff" stroke-width="1.2" fill="none"/>
<path d="M612.05,358.72L612.3,358.71 612.55,358.7 612.8,358.69 613.05,358.68 613.3,358.67 613.55,358.65 613.8,358.64 614.05,358.62 614.3,358.6 614.55,358.58 614.8,358.56 615.05,358.54 615.3,358.52 615.55,358.5 615.8,358.47 616.05,358.44 616.3,358.42 616.55,358.39 616.8,358.36 617.05,358.33 617.3,358.29 617.55,358.26 617.8,358.23 618.05,358.19 618.3,358.16 618.55,358.12 618.8,358.09 619.05,358.05 619.3,358.02 619.55,357.98 619.8,357.95 620.05,357.91 620.3,357.88 620.55,357.85 620.8,357.81 621.05,357.79 621.3,357.76 621.55,357.73 621.8,357.71 622.05,357.68 622.3,357.66 622.55,357.65 622.8,357.63 623.05,357.62 623.3,357.61 623.55,357.6 623.8,357.6 624.05,357.6 624.3,357.6 624.55,357.61 624.8,357.61 625.05,357.63 625.3,357.64 625.55,357.65 625.8,357.67 626.05,357.69 626.3,357.72 626.55,357.74 626.8,357.77 627.05,357.8 627.3,357.83 627.55,357.86 627.8,357.89 628.05,357.92 628.3,357.96 628.55,357.99 628.8,358.03 629.05,358.07 629.3,358.1 629.55,358.14 629.8,358.17 630.05,358.21 630.3,358.24 630.55,358.27 630.8,358.31 631.05,358.34 631.3,358.37 631.55,358.4 631.8,358.43 632.05,358.46 632.3,358.48 632.55,358.51 632.8,358.53 633.05,358.55 633.3,358.57 633.55,358.59 633.8,358.61 634.05,358.63 634.3,358.64 634.55,358.66 634.8,358.67 635.05,358.69 635.3,358.7 635.55,358.71 635.8,358.72 636.05,358.73" stroke="#00ffff" stroke-width="1.1" fill="none"/>
<path d="M543.3,350.36L543.55,350.13 543.8,349.89 544.05,349.66 544.3,349.42 544.55,349.18 544.8,348.95 545.05,348.71 545.3,348.48 545.55,348.25 545.8,348.02 546.05,347.79 546.3,347.56 546.55,347.34 546.8,347.12 547.05,346.9 547.3,346.69 547.55,346.48 547.8,346.28 548.05,346.08 548.3,345.88 548.55,345.69 548.8,345.51 549.05,345.33 549.3,345.16 549.55,345 549.8,344.84 550.05,344.69 550.3,344.55 550.55,344.41 550.8,344.29 551.05,344.17 551.3,344.06 551.55,343.96 551.8,343.86 552.05,343.78 552.3,343.71 552.55,343.64 552.8,343.59 553.05,343.54 553.3,343.51 553.55,343.48 553.8,343.47 554.05,343.46 554.3,343.46 554.55,343.48 554.8,343.5 555.05,343.53 555.3,343.58 555.55,343.63 555.8,343.69 556.05,343.76 556.3,343.84 556.55,343.93 556.8,344.03 557.05,344.14 557.3,344.26 557.55,344.38 557.8,344.51 558.05,344.65 558.3,344.8 558.55,344.96 558.8,345.12 559.05,345.29 559.3,345.47 559.55,345.65 559.8,345.84 560.05,346.03 560.3,346.23 560.55,346.43 560.8,346.64 561.05,346.85 561.3,347.07 561.55,347.29 561.8,347.51 562.05,347.73 562.3,347.96 562.55,348.19 562.8,348.42 563.05,348.66 563.3,348.89 563.55,349.13 563.8,349.36 564.05,349.6 564.3,349.83 564.55,350.07 564.8,350.3 565.05,350.54 565.3,350.77 565.55,351 565.8,351.23 566.05,351.46 566.3,351.68 566.55,351.9 566.8,352.12 567.05,352.34 567.3,352.56 567.55,352.77 567.8,352.97 568.05,353.18 568.3,353.38 568.55,353.57 568.8,353.77 569.05,353.95 569.3,354.14 569.55,354.32 569.8,354.5 570.05,354.67 570.3,354.83 570.55,355 570.8,355.16 571.05,355.31 571.3,355.46 571.55,355.61 571.8,355.75 572.05,355.88 572.3,356.02 572.55,356.15 572.8,356.27 573.05,356.39 573.3,356.5 573.55,356.62 573.8,356.72 574.05,356.83 574.3,356.93 574.55,357.02 574.8,357.11 575.05,357.2 575.3,357.29 575.55,357.37 575.8,357.44 576.05,357.52 576.3,357.59 576.55,357.66 576.8,357.72 577.05,357.78 577.3,357.84 577.55,357.9 577.8,357.95 578.05,358 578.3,358.05 578.55,358.09 578.8,358.14 579.05,358.18 579.3,358.22 579.55,358.25 579.8,358.29 580.05,358.32 580.3,358.35 580.55,358.38 580.8,358.41 581.05,358.44 581.3,358.46 581.55,358.48 581.8,358.51 582.05,358.53 582.3,358.54 582.55,358.56 582.8,358.58 583.05,358.6 583.3,358.61 583.55,358.62 583.8,358.64 584.05,358.65 584.3,358.66 584.55,358.67 584.8,358.68 585.05,358.69 585.3,358.7 585.55,358.71 585.8,358.71 586.05,358.72 586.3,358.73" stroke="#ff00ff" stroke-width="1.1" fill="none"/>
<path d="M543.3,358.12L543.55,358.09 543.8,358.06 544.05,358.03 544.3,358 544.55,357.96 544.8,357.92 545.05,357.89 545.3,357.85 545.55,357.81 545.8,357.77 546.05,357.72 546.3,357.68 546.55,357.63 546.8,357.58 547.05,357.53 547.3,357.48 547.55,357.42 547.8,357.37 548.05,357.31 548.3,357.25 548.55,357.19 548.8,357.13 549.05,357.06 549.3,356.99 549.55,356.92 549.8,356.85 550.05,356.77 550.3,356.7 550.55,356.62 550.8,356.54 551.05,356.45 551.3,356.36 551.55,356.27 551.8,356.18 552.05,356.08 552.3,355.98 552.55,355.88 552.8,355.78 553.05,355.67 553.3,355.56 553.55,355.45 553.8,355.33 554.05,355.21 554.3,355.09 554.55,354.96 554.8,354.83 555.05,354.69 555.3,354.56 555.55,354.41 555.8,354.27 556.05,354.12 556.3,353.97 556.55,353.81 556.8,353.65 557.05,353.49 557.3,353.32 557.55,353.15 557.8,352.97 558.05,352.79 558.3,352.61 558.55,352.42 558.8,352.22 559.05,352.03 559.3,351.82 559.55,351.62 559.8,351.41 560.05,351.19 560.3,350.97 560.55,350.75 560.8,350.52 561.05,350.29 561.3,350.05 561.55,349.81 561.8,349.56 562.05,349.31 562.3,349.05 562.55,348.79 562.8,348.52 563.05,348.25 563.3,347.98 563.55,347.7 563.8,347.41 564.05,347.12 564.3,346.83 564.55,346.53 564.8,346.23 565.05,345.92 565.3,345.61 565.55,345.29 565.8,344.97 566.05,344.64 566.3,344.31 566.55,343.98 566.8,343.64 567.05,343.3 567.3,342.95 567.55,342.6 567.8,342.24 568.05,341.88 568.3,341.52 568.55,341.15 568.8,340.78 569.05,340.41 569.3,340.03 569.55,339.65 569.8,339.26 570.05,338.87 570.3,338.48 570.55,338.09 570.8,337.69 571.05,337.29 571.3,336.89 571.55,336.48 571.8,336.07 572.05,335.66 572.3,335.25 572.55,334.84 572.8,334.42 573.05,334.01 573.3,333.59 573.55,333.17 573.8,332.75 574.05,332.32 574.3,331.9 574.55,331.48 574.8,331.05 575.05,330.63 575.3,330.2 575.55,329.78 575.8,329.36 576.05,328.93 576.3,328.51 576.55,328.09 576.8,327.67 577.05,327.25 577.3,326.83 577.55,326.42 577.8,326 578.05,325.59 578.3,325.18 578.55,324.78 578.8,324.37 579.05,323.97 579.3,323.57 579.55,323.18 579.8,322.79 580.05,322.4 580.3,322.02 580.55,321.65 580.8,321.27 581.05,320.9 581.3,320.54 581.55,320.18 581.8,319.83 582.05,319.48 582.3,319.14 582.55,318.81 582.8,318.48 583.05,318.16 583.3,317.84 583.55,317.53 583.8,317.23 584.05,316.93 584.3,316.65 584.55,316.37 584.8,316.1 585.05,315.83 585.3,315.58 585.55,315.33 585.8,315.09 586.05,314.86 586.3,314.64 586.55,314.43 586.8,314.22 587.05,314.03 587.3,313.84 587.55,313.67 587.8,313.5 588.05,313.34 588.3,313.19 588.55,313.06 588.8,312.93 589.05,312.81 589.3,312.71 589.55,312.61 589.8,312.52 590.05,312.44 590.3,312.38 590.55,312.32 590.8,312.28 591.05,312.24 591.3,312.22 591.55,312.2 591.8,312.2 592.05,312.21 592.3,312.22 592.55,312.25 592.8,312.29 593.05,312.34 593.3,312.4 593.55,312.47 593.8,312.55 594.05,312.64 594.3,312.74 594.55,312.85 594.8,312.97 595.05,313.1 595.3,313.24 595.55,313.39 595.8,313.55 596.05,313.72 596.3,313.9 596.55,314.09 596.8,314.29 597.05,314.49 597.3,314.71 597.55,314.93 597.8,315.17 598.05,315.41 598.3,315.66 598.55,315.92 598.8,316.18 599.05,316.46 599.3,316.74 599.55,317.03 599.8,317.33 600.05,317.63 600.3,317.94 600.55,318.26 600.8,318.58 601.05,318.91 601.3,319.25 601.55,319.59 601.8,319.94 602.05,320.3 602.3,320.66 602.55,321.02 602.8,321.39 603.05,321.77 603.3,322.14 603.55,322.53 603.8,322.92 604.05,323.31 604.3,323.7 604.55,324.1 604.8,324.5 605.05,324.91 605.3,325.31 605.55,325.72 605.8,326.14 606.05,326.55 606.3,326.97 606.55,327.38 606.8,327.8 607.05,328.22 607.3,328.65 607.55,329.07 607.8,329.49 608.05,329.92 608.3,330.34 608.55,330.76 608.8,331.19 609.05,331.61 609.3,332.04 609.55,332.46 609.8,332.88 610.05,333.3 610.3,333.72 610.55,334.14 610.8,334.56 611.05,334.97 611.3,335.38 611.55,335.8 611.8,336.21 612.05,336.61 612.3,337.02 612.55,337.42 612.8,337.82 613.05,338.21 613.3,338.61 613.55,339 613.8,339.39 614.05,339.77 614.3,340.15 614.55,340.53 614.8,340.9 615.05,341.27 615.3,341.64 615.55,342 615.8,342.36 616.05,342.71 616.3,343.06 616.55,343.41 616.8,343.75 617.05,344.09 617.3,344.42 617.55,344.75 617.8,345.07 618.05,345.39 618.3,345.71 618.55,346.02 618.8,346.33 619.05,346.63 619.3,346.92 619.55,347.22 619.8,347.5 620.05,347.79 620.3,348.07 620.55,348.34 620.8,348.61 621.05,348.87 621.3,349.13 621.55,349.39 621.8,349.64 622.05,349.88 622.3,350.13 622.55,350.36 622.8,350.59 623.05,350.82 623.3,351.04 623.55,351.26 623.8,351.48 624.05,351.68 624.3,351.89 624.55,352.09 624.8,352.29 625.05,352.48 625.3,352.67 625.55,352.85 625.8,353.03 626.05,353.2 626.3,353.37 626.55,353.54 626.8,353.7 627.05,353.86 627.3,354.02 627.55,354.17 627.8,354.32 628.05,354.46 628.3,354.6 628.55,354.74 628.8,354.87 629.05,355 629.3,355.13 629.55,355.25 629.8,355.37 630.05,355.48 630.3,355.6 630.55,355.71 630.8,355.81 631.05,355.92 631.3,356.02 631.55,356.11 631.8,356.21 632.05,356.3 632.3,356.39 632.55,356.48 632.8,356.56 633.05,356.64 633.3,356.72 633.55,356.8 633.8,356.87 634.05,356.94 634.3,357.01 634.55,357.08 634.8,357.15 635.05,357.21 635.3,357.27 635.55,357.33 635.8,357.39 636.05,357.44 636.3,357.5 636.55,357.55 636.8,357.6 637.05,357.64 637.3,357.69 637.55,357.74 637.8,357.78 638.05,357.82 638.3,357.86 638.55,357.9 638.8,357.94 639.05,357.97 639.3,358.01 639.55,358.04 639.8,358.07 640.05,358.1 640.3,358.13 640.55,358.16 640.8,358.19 641.05,358.22 641.3,358.24 641.55,358.27 641.8,358.29 642.05,358.31 642.3,358.33 642.55,358.35 642.8,358.37 643.05,358.39 643.3,358.41 643.55,358.43 643.8,358.45 644.05,358.46 644.3,358.48 644.55,358.49 644.8,358.51 645.05,358.52 645.3,358.53 645.55,358.55 645.8,358.56 646.05,358.57 646.3,358.58 646.55,358.59 646.8,358.6 647.05,358.61 647.3,358.62 647.55,358.63 647.8,358.64 648.05,358.65 648.3,358.65 648.55,358.66 648.8,358.67 649.05,358.67 649.3,358.68 649.55,358.69 649.8,358.69 650.05,358.7 650.3,358.7 650.55,358.71 650.8,358.71 651.05,358.72 651.3,358.72" stroke="#00ff00" stroke-width="1.1" fill="none"/>
<path d="M587.55,358.72L587.8,358.7 588.05,358.69 588.3,358.67 588.55,358.64 588.8,358.61 589.05,358.58 589.3,358.54 589.55,358.5 589.8,358.45 590.05,358.39 590.3,358.32 590.55,358.25 590.8,358.17 591.05,358.07 591.3,357.96 591.55,357.84 591.8,357.71 592.05,357.56 592.3,357.39 592.55,357.2 592.8,357 593.05,356.77 593.3,356.52 593.55,356.25 593.8,355.96 594.05,355.64 594.3,355.29 594.55,354.92 594.8,354.51 595.05,354.08 595.3,353.62 595.55,353.13 595.8,352.61 596.05,352.07 596.3,351.49 596.55,350.89 596.8,350.26 597.05,349.6 597.3,348.93 597.55,348.23 597.8,347.51 598.05,346.78 598.3,346.04 598.55,345.29 598.8,344.53 599.05,343.78 599.3,343.02 599.55,342.28 599.8,341.55 600.05,340.83 600.3,340.14 600.55,339.47 600.8,338.84 601.05,338.24 601.3,337.68 601.55,337.17 601.8,336.7 602.05,336.29 602.3,335.93 602.55,335.63 602.8,335.39 603.05,335.22 603.3,335.11 603.55,335.06 603.8,335.08 604.05,335.17 604.3,335.32 604.55,335.53 604.8,335.8 605.05,336.14 605.3,336.53 605.55,336.97 605.8,337.47 606.05,338.01 606.3,338.59 606.55,339.21 606.8,339.87 607.05,340.55 607.3,341.26 607.55,341.98 607.8,342.72 608.05,343.48 608.3,344.23 608.55,344.99 608.8,345.74 609.05,346.49 609.3,347.22 609.55,347.94 609.8,348.65 610.05,349.33 610.3,350 610.55,350.64 610.8,351.25 611.05,351.84 611.3,352.4 611.55,352.93 611.8,353.43 612.05,353.9 612.3,354.34 612.55,354.76 612.8,355.14 613.05,355.5 613.3,355.83 613.55,356.14 613.8,356.42 614.05,356.68 614.3,356.91 614.55,357.12 614.8,357.32 615.05,357.49 615.3,357.65 615.55,357.79 615.8,357.92 616.05,358.03 616.3,358.13 616.55,358.22 616.8,358.3 617.05,358.36 617.3,358.43 617.55,358.48 617.8,358.52 618.05,358.56 618.3,358.6 618.55,358.63 618.8,358.66 619.05,358.68 619.3,358.7 619.55,358.71 619.8,358.73" stroke="#0000ff" stroke-width="1.1" fill="none"/>
<path d="M543.3,349.68L543.55,349.42 543.8,349.15 544.05,348.89 544.3,348.62 544.55,348.35 544.8,348.07 545.05,347.8 545.3,347.53 545.55,347.26 545.8,346.98 546.05,346.71 546.3,346.44 546.55,346.17 546.8,345.9 547.05,345.63 547.3,345.37 547.55,345.11 547.8,344.84 548.05,344.59 548.3,344.33 548.55,344.08 548.8,343.84 549.05,343.59 549.3,343.35 549.55,343.12 549.8,342.89 550.05,342.66 550.3,342.44 550.55,342.23 550.8,342.02 551.05,341.82 551.3,341.62 551.55,341.43 551.8,341.24 552.05,341.07 552.3,340.89 552.55,340.73 552.8,340.57 553.05,340.41 553.3,340.27 553.55,340.13 553.8,340 554.05,339.87 554.3,339.75 554.55,339.64 554.8,339.53 555.05,339.43 555.3,339.33 555.55,339.24 555.8,339.16 556.05,339.08 556.3,339.01 556.55,338.95 556.8,338.88 557.05,338.83 557.3,338.78 557.55,338.73 557.8,338.68 558.05,338.64 558.3,338.61 558.55,338.57 558.8,338.54 559.05,338.52 559.3,338.49 559.55,338.47 559.8,338.44 560.05,338.42 560.3,338.4 560.55,338.38 560.8,338.36 561.05,338.34 561.3,338.32 561.55,338.29 561.8,338.27 562.05,338.24 562.3,338.21 562.55,338.18 562.8,338.15 563.05,338.11 563.3,338.07 563.55,338.02 563.8,337.98 564.05,337.92 564.3,337.86 564.55,337.8 564.8,337.73 565.05,337.66 565.3,337.58 565.55,337.49 565.8,337.4 566.05,337.3 566.3,337.2 566.55,337.08 566.8,336.96 567.05,336.84 567.3,336.7 567.55,336.56 567.8,336.42 568.05,336.26 568.3,336.1 568.55,335.93 568.8,335.75 569.05,335.56 569.3,335.37 569.55,335.17 569.8,334.96 570.05,334.74 570.3,334.52 570.55,334.29 570.8,334.05 571.05,333.8 571.3,333.55 571.55,333.29 571.8,333.02 572.05,332.75 572.3,332.47 572.55,332.18 572.8,331.89 573.05,331.59 573.3,331.29 573.55,330.98 573.8,330.67 574.05,330.35 574.3,330.03 574.55,329.7 574.8,329.37 575.05,329.03 575.3,328.69 575.55,328.35 575.8,328 576.05,327.65 576.3,327.3 576.55,326.95 576.8,326.59 577.05,326.23 577.3,325.87 577.55,325.51 577.8,325.15 578.05,324.79 578.3,324.43 578.55,324.07 578.8,323.71 579.05,323.35 579.3,322.99 579.55,322.64 579.8,322.28 580.05,321.93 580.3,321.58 580.55,321.23 580.8,320.88 581.05,320.54 581.3,320.2 581.55,319.87 581.8,319.53 582.05,319.21 582.3,318.89 582.55,318.57 582.8,318.26 583.05,317.95 583.3,317.65 583.55,317.35 583.8,317.06 584.05,316.78 584.3,316.5 584.55,316.23 584.8,315.97 585.05,315.71 585.3,315.46 585.55,315.22 585.8,314.98 586.05,314.75 586.3,314.53 586.55,314.32 586.8,314.11 587.05,313.91 587.3,313.72 587.55,313.54 587.8,313.36 588.05,313.19 588.3,313.02 588.55,312.86 588.8,312.71 589.05,312.56 589.3,312.42 589.55,312.28 589.8,312.15 590.05,312.01 590.3,311.88 590.55,311.76 590.8,311.63 591.05,311.5 591.3,311.37 591.55,311.23 591.8,311.1 592.05,310.95 592.3,310.8 592.55,310.65 592.8,310.48 593.05,310.31 593.3,310.12 593.55,309.92 593.8,309.7 594.05,309.47 594.3,309.23 594.55,308.96 594.8,308.68 595.05,308.38 595.3,308.06 595.55,307.72 595.8,307.36 596.05,306.98 596.3,306.59 596.55,306.17 596.8,305.74 597.05,305.29 597.3,304.83 597.55,304.36 597.8,303.88 598.05,303.39 598.3,302.9 598.55,302.4 598.8,301.92 599.05,301.43 599.3,300.96 599.55,300.51 599.8,300.07 600.05,299.66 600.3,299.28 600.55,298.93 600.8,298.62 601.05,298.35 601.3,298.13 601.55,297.96 601.8,297.84 602.05,297.78 602.3,297.79 602.55,297.85 602.8,297.98 603.05,298.18 603.3,298.45 603.55,298.79 603.8,299.2 604.05,299.67 604.3,300.22 604.55,300.83 604.8,301.51 605.05,302.24 605.3,303.04 605.55,303.9 605.8,304.8 606.05,305.76 606.3,306.76 606.55,307.8 606.8,308.87 607.05,309.98 607.3,311.1 607.55,312.25 607.8,313.42 608.05,314.59 608.3,315.77 608.55,316.95 608.8,318.13 609.05,319.3 609.3,320.46 609.55,321.6 609.8,322.73 610.05,323.83 610.3,324.92 610.55,325.97 610.8,327 611.05,328.01 611.3,328.98 611.55,329.92 611.8,330.83 612.05,331.71 612.3,332.55 612.55,333.37 612.8,334.15 613.05,334.9 613.3,335.63 613.55,336.32 613.8,336.98 614.05,337.62 614.3,338.23 614.55,338.82 614.8,339.38 615.05,339.92 615.3,340.44 615.55,340.94 615.8,341.42 616.05,341.88 616.3,342.32 616.55,342.75 616.8,343.16 617.05,343.56 617.3,343.94 617.55,344.31 617.8,344.67 618.05,345.02 618.3,345.35 618.55,345.68 618.8,345.99 619.05,346.3 619.3,346.6 619.55,346.89 619.8,347.16 620.05,347.44 620.3,347.7 620.55,347.95 620.8,348.2 621.05,348.44 621.3,348.67 621.55,348.9 621.8,349.12 622.05,349.33 622.3,349.53 622.55,349.73 622.8,349.92 623.05,350.11 623.3,350.28 623.55,350.46 623.8,350.62 624.05,350.78 624.3,350.94 624.55,351.09 624.8,351.23 625.05,351.37 625.3,351.5 625.55,351.63 625.8,351.75 626.05,351.87 626.3,351.98 626.55,352.1 626.8,352.2 627.05,352.31 627.3,352.41 627.55,352.51 627.8,352.6 628.05,352.7 628.3,352.79 628.55,352.88 628.8,352.97 629.05,353.05 629.3,353.14 629.55,353.23 629.8,353.31 630.05,353.4 630.3,353.48 630.55,353.57 630.8,353.66 631.05,353.74 631.3,353.83 631.55,353.92 631.8,354.01 632.05,354.1 632.3,354.19 632.55,354.29 632.8,354.38 633.05,354.48 633.3,354.57 633.55,354.67 633.8,354.77 634.05,354.87 634.3,354.97 634.55,355.08 634.8,355.18 635.05,355.28 635.3,355.39 635.55,355.49 635.8,355.59 636.05,355.7 636.3,355.8 636.55,355.91 636.8,356.01 637.05,356.11 637.3,356.21 637.55,356.31 637.8,356.41 638.05,356.51 638.3,356.61 638.55,356.7 638.8,356.79 639.05,356.88 639.3,356.97 639.55,357.06 639.8,357.14 640.05,357.22 640.3,357.3 640.55,357.38 640.8,357.45 641.05,357.53 641.3,357.59 641.55,357.66 641.8,357.72 642.05,357.78 642.3,357.84 642.55,357.9 642.8,357.95 643.05,358 643.3,358.05 643.55,358.1 643.8,358.14 644.05,358.18 644.3,358.22 644.55,358.26 644.8,358.29 645.05,358.32 645.3,358.35 645.55,358.38 645.8,358.41 646.05,358.44 646.3,358.46 646.55,358.48 646.8,358.5 647.05,358.52 647.3,358.54 647.55,358.56 647.8,358.57 648.05,358.59 648.3,358.6 648.55,358.62 648.8,358.63 649.05,358.64 649.3,358.65 649.55,358.66 649.8,358.67 650.05,358.68 650.3,358.68 650.55,358.69 650.8,358.7 651.05,358.7 651.3,358.71 651.55,358.72 651.8,358.72 652.05,358.73 652.3,358.73 652.55,358.73 652.8,358.74 653.05,358.74 653.3,358.75 653.55,358.75 653.8,358.75 654.05,358.75 654.3,358.76 654.55,358.76 654.8,358.76 655.05,358.76 655.3,358.77 655.55,358.77 655.8,358.77 656.05,358.77 656.3,358.77 656.55,358.78 656.8,358.78 657.05,358.78 657.3,358.78 657.55,358.78 657.8,358.78 658.05,358.78 658.3,358.78 658.55,358.78 658.8,358.79 659.05,358.79 659.3,358.79 659.55,358.79 659.8,358.79 660.05,358.79 660.3,358.79 660.55,358.79 660.8,358.79" stroke="#ff0000" stroke-width="1.1" fill="none"/>
<path d="M542.8,368.6V273.4H661.5V368.6" stroke="#444" stroke-width="1" fill="none"/>
<path d="M542.3,368.6H662.0" stroke="#222" stroke-width="1.3" fill="none"/>
<path d="M562.58,368.6V366.6M582.37,368.6V366.6M602.15,368.6V366.6M621.93,368.6V366.6M641.72,368.6V366.6M552.69,368.6V367.4M572.47,368.6V367.4M592.26,368.6V367.4M612.04,368.6V367.4M631.83,368.6V367.4M651.61,368.6V367.4" stroke="#222" stroke-width="0.8" fill="none"/>
<text x="542.8" y="376.2" font-size="5.8" text-anchor="middle" fill="#000">2500</text>
<text x="562.58" y="376.2" font-size="5.8" text-anchor="middle" fill="#000">2550</text>
<text x="582.37" y="376.2" font-size="5.8" text-anchor="middle" fill="#000">2600</text>
<text x="602.15" y="376.2" font-size="5.8" text-anchor="middle" fill="#000">2650</text>
<text x="621.93" y="376.2" font-size="5.8" text-anchor="middle" fill="#000">2700</text>
<text x="641.72" y="376.2" font-size="5.8" text-anchor="middle" fill="#000">2750</text>
<text x="661.5" y="376.2" font-size="5.8" text-anchor="middle" fill="#000">2800</text>
<text x="576.05" y="293.2" font-size="12.18" font-weight="bold" fill="#ff0000">GO nanosheet</text>
<text x="574.8" y="383.05" font-size="6.33" font-weight="bold" fill="#000">Raman shift (cm<tspan dy="-2.21" font-size="3.79">-1</tspan><tspan dy="2.21">)</tspan></text>
<text x="538.3" y="340.9" font-size="6.29" font-weight="bold" fill="#000" transform="rotate(-90 538.3 340.9)">Intensity (a.u.)</text>
</svg></body></html>
